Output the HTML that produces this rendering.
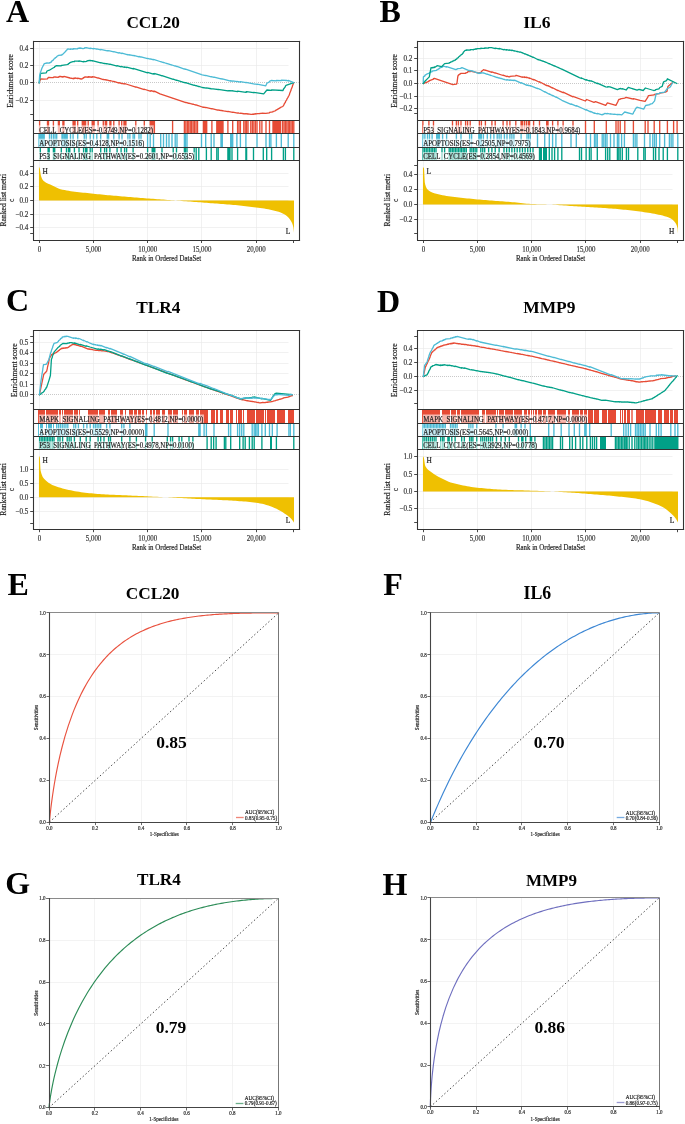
<!DOCTYPE html>
<html><head><meta charset="utf-8"><style>
html,body{margin:0;padding:0;background:#fff;}
svg{display:block;font-family:"Liberation Serif", serif;}
</style></head><body>
<svg width="685" height="1124" viewBox="0 0 685 1124">
<rect width="685" height="1124" fill="#fff"/>
<g opacity="0.999">
<text x="126.42" y="28.14" font-size="17.22" text-anchor="start" font-weight="bold" fill="#000" >CCL20</text>
<text x="5.91" y="21.86" font-size="32" text-anchor="start" font-weight="bold" fill="#000" >A</text>
<line x1="34" y1="48.5" x2="288.5" y2="48.5" stroke="#EBEBEB" stroke-width="0.7" />
<line x1="34" y1="65.5" x2="288.5" y2="65.5" stroke="#EBEBEB" stroke-width="0.7" />
<line x1="34" y1="82.5" x2="298.6" y2="82.5" stroke="#BBBBBB" stroke-width="0.8" stroke-dasharray="1,1"/>
<line x1="34" y1="100.5" x2="288.5" y2="100.5" stroke="#EBEBEB" stroke-width="0.7" />
<line x1="34" y1="173.5" x2="288.5" y2="173.5" stroke="#EBEBEB" stroke-width="0.7" />
<line x1="34" y1="186.5" x2="288.5" y2="186.5" stroke="#EBEBEB" stroke-width="0.7" />
<line x1="34" y1="200.5" x2="288.5" y2="200.5" stroke="#EBEBEB" stroke-width="0.7" />
<line x1="34" y1="214.5" x2="288.5" y2="214.5" stroke="#EBEBEB" stroke-width="0.7" />
<line x1="34" y1="227.5" x2="288.5" y2="227.5" stroke="#EBEBEB" stroke-width="0.7" />
<line x1="39.5" y1="41.4" x2="39.5" y2="120.5" stroke="#EBEBEB" stroke-width="0.7" />
<line x1="39.5" y1="160.5" x2="39.5" y2="240" stroke="#EBEBEB" stroke-width="0.7" />
<line x1="93.5" y1="41.4" x2="93.5" y2="120.5" stroke="#EBEBEB" stroke-width="0.7" />
<line x1="93.5" y1="160.5" x2="93.5" y2="240" stroke="#EBEBEB" stroke-width="0.7" />
<line x1="147.5" y1="41.4" x2="147.5" y2="120.5" stroke="#EBEBEB" stroke-width="0.7" />
<line x1="147.5" y1="160.5" x2="147.5" y2="240" stroke="#EBEBEB" stroke-width="0.7" />
<line x1="201.5" y1="41.4" x2="201.5" y2="120.5" stroke="#EBEBEB" stroke-width="0.7" />
<line x1="201.5" y1="160.5" x2="201.5" y2="240" stroke="#EBEBEB" stroke-width="0.7" />
<line x1="256.5" y1="41.4" x2="256.5" y2="120.5" stroke="#EBEBEB" stroke-width="0.7" />
<line x1="256.5" y1="160.5" x2="256.5" y2="240" stroke="#EBEBEB" stroke-width="0.7" />
<path d="M38.95,200.4 L38.95,166.98 L39.08,167.04 L39.21,167.2 L39.34,167.43 L39.47,167.72 L39.6,168.05 L39.73,168.4 L39.87,168.92 L40,169.65 L40.13,170.52 L40.26,171.49 L40.39,172.49 L40.52,173.45 L40.65,174.32 L40.78,175.03 L40.91,175.54 L41.04,175.99 L41.17,176.42 L41.3,176.82 L41.44,177.2 L41.57,177.56 L41.7,177.9 L41.83,178.22 L41.96,178.52 L42.09,178.79 L42.22,179.05 L42.35,179.29 L42.48,179.51 L42.61,179.71 L42.74,179.9 L42.87,180.07 L43,180.23 L43.14,180.38 L43.27,180.53 L43.4,180.67 L43.53,180.8 L43.66,180.93 L43.79,181.05 L43.92,181.17 L44.05,181.29 L44.05,181.29 L46.11,182.69 L48.17,183.71 L50.22,184.6 L52.28,185.58 L54.34,186.6 L56.4,187.59 L58.45,188.48 L60.51,189.2 L62.57,189.69 L64.63,190.1 L66.68,190.48 L68.74,190.83 L70.8,191.16 L72.86,191.45 L74.91,191.72 L76.97,191.98 L79.03,192.22 L81.09,192.44 L83.14,192.66 L85.2,192.87 L87.26,193.07 L89.32,193.27 L91.37,193.48 L93.43,193.69 L95.49,193.91 L97.55,194.13 L99.6,194.34 L101.66,194.54 L103.72,194.74 L105.78,194.94 L107.83,195.13 L109.89,195.32 L111.95,195.51 L114.01,195.69 L116.07,195.87 L118.12,196.05 L120.18,196.22 L122.24,196.39 L124.3,196.56 L126.35,196.73 L128.41,196.9 L130.47,197.07 L132.53,197.24 L134.58,197.4 L136.64,197.57 L138.7,197.73 L140.76,197.9 L142.81,198.07 L144.87,198.23 L146.93,198.39 L148.99,198.54 L151.04,198.7 L153.1,198.85 L155.16,199.01 L157.22,199.16 L159.27,199.31 L161.33,199.46 L163.39,199.61 L165.45,199.76 L167.5,199.91 L169.56,200.06 L171.62,200.21 L173.68,200.37 L175.73,200.52 L177.79,200.67 L179.85,200.83 L181.91,200.98 L183.96,201.14 L186.02,201.29 L188.08,201.44 L190.14,201.6 L192.19,201.75 L194.25,201.9 L196.31,202.06 L198.37,202.22 L200.42,202.37 L202.48,202.53 L204.54,202.68 L206.6,202.84 L208.65,202.99 L210.71,203.14 L212.77,203.29 L214.83,203.44 L216.88,203.59 L218.94,203.75 L221,203.9 L223.06,204.06 L225.12,204.22 L227.17,204.39 L229.23,204.56 L231.29,204.74 L233.35,204.93 L235.4,205.12 L237.46,205.32 L239.52,205.53 L241.58,205.74 L243.63,205.96 L245.69,206.18 L247.75,206.42 L249.81,206.66 L251.86,206.9 L253.92,207.16 L255.98,207.42 L258.04,207.7 L260.09,207.98 L262.15,208.28 L264.21,208.6 L266.27,208.95 L268.32,209.33 L270.38,209.74 L272.44,210.18 L274.5,210.67 L276.55,211.22 L278.61,211.84 L280.67,212.56 L282.73,213.42 L284.78,214.5 L286.84,215.95 L288.9,218.09 L288.9,218.09 L289.03,218.25 L289.16,218.42 L289.29,218.59 L289.42,218.76 L289.55,218.93 L289.68,219.11 L289.81,219.29 L289.95,219.48 L290.08,219.67 L290.21,219.86 L290.34,220.05 L290.47,220.25 L290.6,220.45 L290.73,220.66 L290.86,220.87 L290.99,221.07 L291.12,221.29 L291.25,221.5 L291.38,221.73 L291.51,221.96 L291.65,222.21 L291.78,222.47 L291.91,222.74 L292.04,223.03 L292.17,223.34 L292.3,223.66 L292.43,224.01 L292.56,224.38 L292.69,224.78 L292.82,225.2 L292.95,225.65 L293.08,226.13 L293.22,226.65 L293.35,227.28 L293.48,228.14 L293.61,229.19 L293.74,230.35 L293.87,231.57 L294,232.8 L294,200.4 Z" fill="#EFC000"/>
<text x="42.4" y="173.6" font-size="7.4" text-anchor="start" font-weight="normal" fill="#222" stroke="#222" stroke-width="0.18" >H</text>
<text x="290.3" y="234" font-size="7.4" text-anchor="end" font-weight="normal" fill="#222" stroke="#222" stroke-width="0.18" >L</text>
<polyline points="39.2,82.9 40.6,78.9 44,79.2 47.4,78.9 48.4,77.3 52,77.6 53.4,77.55 53.4,77.05 55,77 58.4,77.3 58.4,76.8 59.3,76.88 59.3,76.38 60.7,76.5 62.9,77.09 62.9,76.59 63.9,76.86 63.9,76.36 70,78 73.1,78.73 73.1,78.33 74,78.54 74,78.14 75.1,78.39 75.1,77.99 77.7,78.6 77.7,78.2 81.1,79 82.3,78.82 82.3,78.32 83.4,78.16 83.4,77.66 84.3,77.53 84.3,77.03 85.2,76.9 88.2,77.27 88.2,76.77 92.2,77.25 92.2,76.75 93.4,76.9 94.1,77.12 94.1,76.89 98.1,78.14 98.1,77.91 103.3,79.53 103.3,79.3 105.3,79.92 105.3,79.69 106.6,80.1 106.6,79.87 109.9,80.9 109.9,80.67 110.9,80.98 110.9,80.75 111.7,81 113.8,81.68 113.8,81.36 119.1,83.06 119.1,82.74 121.7,83.58 121.7,83.26 124,84 124,83.68 125,84 125,83.68 126,84 135.8,87.24 135.8,86.84 144.3,89.65 144.3,89.25 150.2,91.21 150.2,90.81 151.2,91.14 151.2,90.74 152.6,91.2 153.5,91.64 153.5,91.14 154.4,91.58 154.4,91.08 160,93.8 172.6,98.21 172.6,98.06 184.4,102.19 184.4,102.05 185.86,102.56 185.86,102.41 187.31,102.92 187.31,102.77 188.77,103.28 188.77,103.14 190.22,103.65 190.22,103.5 191.68,104.01 191.68,103.87 193.13,104.37 193.13,104.23 194.59,104.74 194.59,104.59 196.04,105.1 196.04,104.96 197.5,105.47 197.5,105.32 202.3,107 203.4,107.28 203.4,107.13 204.5,107.41 204.5,107.27 205.6,107.55 205.6,107.4 206.7,107.68 206.7,107.54 211.9,108.86 211.9,108.72 216.8,109.97 216.8,109.82 218.04,110.14 218.04,109.99 219.28,110.31 219.28,110.16 220.52,110.48 220.52,110.33 221.76,110.65 221.76,110.5 223,110.82 223,110.67 223.5,110.8 227.9,111.63 227.9,111.45 232.7,112.36 232.7,112.18 237.6,113.11 237.6,112.93 239,113.2 239,113.02 240.4,113.28 240.4,113.11 243.8,113.75 243.8,113.57 245.2,113.84 245.2,113.66 246.6,113.92 246.6,113.75 248,114.01 248,113.83 251,114.4 252.35,114.45 252.35,114.18 253.9,114.23 253.9,113.96 255.45,114.02 255.45,113.75 257,113.8 257,113.54 259.8,113.63 259.8,113.36 261.9,113.43 261.9,113.17 265.8,113.3 269.5,112.82 269.5,112.32 273,111.87 273,111.37 274.3,111.2 275.53,110.75 275.53,110.43 276.8,109.97 276.8,109.65 278.07,109.19 278.07,108.87 279.33,108.4 279.33,108.08 280.6,107.62 280.6,107.3 282.8,106.5 284.09,104.54 284.09,104.14 285.48,102.02 285.48,101.62 286.86,99.51 286.86,99.11 288.25,97 288.25,96.6 289.1,95.3 289.64,94.02 289.64,93.52 291.02,90.21 291.02,89.71 292.41,86.41 292.41,85.91 293.8,82.6" fill="none" stroke="#E64B35" stroke-width="1.3" stroke-linejoin="round" stroke-linecap="round"/>
<polyline points="39.2,82.9 40.6,73.4 46.3,72.8 47,71 49.4,70.2 53,68 54.7,67.15 54.7,66.65 56.6,65.7 61.3,65.79 61.3,65.29 62,65.3 66.8,64.6 68.5,64.04 68.5,63.54 69.8,63.12 69.8,62.62 72.9,61.6 74.4,61.63 74.4,61.13 78,61.2 79,61.39 79,60.89 83.6,61.79 83.6,61.29 85.2,61.6 86.9,61.35 86.9,60.85 89.3,60.5 90.2,60.73 90.2,60.46 92.2,60.97 92.2,60.7 100.7,62.87 100.7,62.6 104.6,63.59 104.6,63.33 106.6,63.84 106.6,63.57 109.9,64.41 109.9,64.14 111.7,64.6 117.1,66.1 117.1,65.7 121.1,66.81 121.1,66.41 124.6,67.39 124.6,66.99 126.6,67.54 126.6,67.14 132.2,68.7 133.1,68.97 133.1,68.47 147.6,72.8 147.6,72.3 152.6,73.8 153.5,74.09 153.5,73.59 154.8,74.01 154.8,73.51 160,75.2 162,75.86 162,75.68 173.2,79.36 173.2,79.18 176.5,80.27 176.5,80.09 184.4,82.68 184.4,82.51 185.5,82.87 185.5,82.69 187,83.18 187,83.01 194.2,85.37 194.2,85.19 196.2,85.85 196.2,85.67 198.8,86.53 198.8,86.35 202.3,87.5 206.4,88.17 206.4,87.97 211.2,88.76 211.2,88.56 216.8,89.47 216.8,89.27 218.2,89.5 218.2,89.3 227.9,90.89 227.9,90.69 228.95,90.86 228.95,90.66 230,90.83 230,90.63 232,90.96 232,90.76 234.1,91.1 237.6,91.61 237.6,91.21 245.9,92.41 245.9,92.01 246.6,92.12 246.6,91.72 253.5,92.72 253.5,92.32 263.7,93.8 266.9,90 271.6,90.3 271.6,89.8 282.8,90.5 283.4,89.73 283.4,89.23 285.4,86.67 285.4,86.17 286,85.4 293.8,82.6" fill="none" stroke="#00A087" stroke-width="1.3" stroke-linejoin="round" stroke-linecap="round"/>
<polyline points="39.2,82.9 39.6,76 40.4,72.6 42,68 44.3,63.6 47,63 49.5,63.07 49.5,62.57 50.4,62.6 51.4,61.88 51.4,61.38 53.4,59.93 53.4,59.43 54,59 55.05,58.41 55.05,57.91 56.7,56.97 56.7,56.47 58.6,55.4 62,54.99 62,54.49 62.7,54.4 65,52 65.9,51.32 65.9,50.82 67.2,49.85 67.2,49.35 67.8,48.9 70.5,49.41 70.5,48.91 72,49.2 73.1,49.24 73.1,48.74 77,48.9 77.7,48.81 77.7,48.31 80,48 83,48.6 84.3,48.44 84.3,47.94 86.2,47.7 90.2,48.56 90.2,48.06 91.3,48.3 93.5,48.8 93.5,48.48 96.8,49.22 96.8,48.9 100.7,49.78 100.7,49.46 107.3,50.95 107.3,50.63 108.6,50.92 108.6,50.6 111.7,51.3 113.8,51.88 113.8,51.56 119.1,53.04 119.1,52.72 122,53.52 122,53.2 127.9,54.84 127.9,54.52 129.9,55.08 129.9,54.76 132.2,55.4 133.1,55.65 133.1,55.38 134.5,55.78 134.5,55.51 139,56.77 139,56.5 141,57.06 141,56.79 147.6,58.64 147.6,58.37 150.2,59.1 150.2,58.83 152.6,59.5 153.5,59.8 153.5,59.3 160,61.5 160.7,61.75 160.7,61.6 163.5,62.59 163.5,62.44 166.5,63.5 166.5,63.35 169,64.23 169,64.09 172,65.15 172,65 175.2,66.13 175.2,65.98 177,66.62 177,66.47 184.4,69.08 184.4,68.93 185.5,69.32 185.5,69.17 187,69.7 187,69.56 201.5,74.66 201.5,74.52 202.3,74.8 205.7,75.7 205.7,75.44 211.2,76.9 211.2,76.63 214,77.38 214,77.11 221,78.97 221,78.71 222.3,79.05 222.3,78.79 230.7,81.02 230.7,80.75 232,81.1 232.7,81.23 232.7,80.91 236.9,81.69 236.9,81.37 240.4,82.03 240.4,81.71 245.9,82.73 245.9,82.41 257,84.48 257,84.16 265.8,85.8 266.9,83.3 269.5,81.88 269.5,81.38 271.1,80.5 276.4,80.83 276.4,80.33 281.3,80.64 281.3,80.14 287,80.5 288.2,80.96 288.2,80.46 293.8,82.6" fill="none" stroke="#4DBBD5" stroke-width="1.3" stroke-linejoin="round" stroke-linecap="round"/>
<rect x="38.93" y="120.5" width="1.35" height="13.4" fill="#E64B35"/>
<rect x="46.83" y="120.5" width="2.35" height="13.4" fill="#E64B35"/>
<rect x="52.73" y="120.5" width="1.35" height="13.4" fill="#E64B35"/>
<rect x="57.73" y="120.5" width="2.25" height="13.4" fill="#E64B35"/>
<rect x="62.23" y="120.5" width="2.35" height="13.4" fill="#E64B35"/>
<rect x="72.42" y="120.5" width="3.35" height="13.4" fill="#E64B35"/>
<rect x="77.03" y="120.5" width="1.35" height="13.4" fill="#E64B35"/>
<rect x="81.62" y="120.5" width="4.65" height="13.4" fill="#E64B35"/>
<rect x="87.53" y="120.5" width="1.35" height="13.4" fill="#E64B35"/>
<rect x="91.53" y="120.5" width="3.25" height="13.4" fill="#E64B35"/>
<rect x="97.42" y="120.5" width="1.35" height="13.4" fill="#E64B35"/>
<rect x="102.62" y="120.5" width="1.35" height="13.4" fill="#E64B35"/>
<rect x="104.62" y="120.5" width="2.65" height="13.4" fill="#E64B35"/>
<rect x="109.23" y="120.5" width="2.35" height="13.4" fill="#E64B35"/>
<rect x="113.12" y="120.5" width="1.35" height="13.4" fill="#E64B35"/>
<rect x="118.42" y="120.5" width="1.35" height="13.4" fill="#E64B35"/>
<rect x="121.03" y="120.5" width="1.35" height="13.4" fill="#E64B35"/>
<rect x="123.33" y="120.5" width="3.25" height="13.4" fill="#E64B35"/>
<rect x="135.12" y="120.5" width="1.35" height="13.4" fill="#E64B35"/>
<rect x="143.62" y="120.5" width="1.35" height="13.4" fill="#E64B35"/>
<rect x="149.52" y="120.5" width="5.55" height="13.4" fill="#E64B35"/>
<rect x="171.92" y="120.5" width="1.35" height="13.4" fill="#E64B35"/>
<rect x="183.72" y="120.5" width="1.35" height="13.4" fill="#E64B35"/>
<rect x="185.18" y="120.5" width="1.35" height="13.4" fill="#E64B35"/>
<rect x="186.64" y="120.5" width="1.35" height="13.4" fill="#E64B35"/>
<rect x="188.09" y="120.5" width="1.35" height="13.4" fill="#E64B35"/>
<rect x="189.55" y="120.5" width="1.35" height="13.4" fill="#E64B35"/>
<rect x="191" y="120.5" width="1.35" height="13.4" fill="#E64B35"/>
<rect x="192.46" y="120.5" width="1.35" height="13.4" fill="#E64B35"/>
<rect x="193.91" y="120.5" width="1.35" height="13.4" fill="#E64B35"/>
<rect x="195.37" y="120.5" width="1.35" height="13.4" fill="#E64B35"/>
<rect x="196.82" y="120.5" width="1.35" height="13.4" fill="#E64B35"/>
<rect x="202.72" y="120.5" width="4.65" height="13.4" fill="#E64B35"/>
<rect x="211.22" y="120.5" width="1.35" height="13.4" fill="#E64B35"/>
<rect x="216.12" y="120.5" width="7.55" height="13.4" fill="#E64B35"/>
<rect x="227.22" y="120.5" width="1.35" height="13.4" fill="#E64B35"/>
<rect x="232.02" y="120.5" width="1.35" height="13.4" fill="#E64B35"/>
<rect x="236.92" y="120.5" width="1.35" height="13.4" fill="#E64B35"/>
<rect x="238.32" y="120.5" width="1.35" height="13.4" fill="#E64B35"/>
<rect x="239.72" y="120.5" width="1.35" height="13.4" fill="#E64B35"/>
<rect x="243.12" y="120.5" width="1.35" height="13.4" fill="#E64B35"/>
<rect x="244.53" y="120.5" width="1.35" height="13.4" fill="#E64B35"/>
<rect x="245.92" y="120.5" width="1.35" height="13.4" fill="#E64B35"/>
<rect x="247.32" y="120.5" width="1.35" height="13.4" fill="#E64B35"/>
<rect x="250.12" y="120.5" width="1.35" height="13.4" fill="#E64B35"/>
<rect x="251.68" y="120.5" width="1.35" height="13.4" fill="#E64B35"/>
<rect x="253.22" y="120.5" width="1.35" height="13.4" fill="#E64B35"/>
<rect x="254.77" y="120.5" width="1.35" height="13.4" fill="#E64B35"/>
<rect x="256.32" y="120.5" width="1.35" height="13.4" fill="#E64B35"/>
<rect x="259.12" y="120.5" width="1.35" height="13.4" fill="#E64B35"/>
<rect x="261.22" y="120.5" width="1.35" height="13.4" fill="#E64B35"/>
<rect x="265.32" y="120.5" width="1.35" height="13.4" fill="#E64B35"/>
<rect x="268.82" y="120.5" width="1.35" height="13.4" fill="#E64B35"/>
<rect x="272.32" y="120.5" width="8.95" height="13.4" fill="#E64B35"/>
<rect x="282.02" y="120.5" width="1.35" height="13.4" fill="#E64B35"/>
<rect x="283.41" y="120.5" width="1.35" height="13.4" fill="#E64B35"/>
<rect x="284.8" y="120.5" width="1.35" height="13.4" fill="#E64B35"/>
<rect x="286.19" y="120.5" width="1.35" height="13.4" fill="#E64B35"/>
<rect x="287.57" y="120.5" width="1.35" height="13.4" fill="#E64B35"/>
<rect x="288.96" y="120.5" width="1.35" height="13.4" fill="#E64B35"/>
<rect x="290.35" y="120.5" width="1.35" height="13.4" fill="#E64B35"/>
<rect x="291.74" y="120.5" width="1.35" height="13.4" fill="#E64B35"/>
<rect x="293.12" y="120.5" width="1.35" height="13.4" fill="#E64B35"/>
<rect x="38.9" y="125.3" width="114.87" height="8.3" fill="#fff" fill-opacity="0.6"/>
<text x="39.2" y="132.55" font-size="7.7" text-anchor="start" font-weight="normal" fill="#222" stroke="#222" stroke-width="0.18" textLength="113.87" lengthAdjust="spacingAndGlyphs" >CELL CYCLE(ES=-0.3749,NP=0.1282)</text>
<rect x="38.33" y="133.9" width="6.55" height="13.4" fill="#4DBBD5"/>
<rect x="48.83" y="133.9" width="1.35" height="13.4" fill="#4DBBD5"/>
<rect x="50.73" y="133.9" width="1.35" height="13.4" fill="#4DBBD5"/>
<rect x="52.73" y="133.9" width="1.35" height="13.4" fill="#4DBBD5"/>
<rect x="54.38" y="133.9" width="1.35" height="13.4" fill="#4DBBD5"/>
<rect x="56.03" y="133.9" width="1.35" height="13.4" fill="#4DBBD5"/>
<rect x="61.33" y="133.9" width="2.55" height="13.4" fill="#4DBBD5"/>
<rect x="63.92" y="133.9" width="3.95" height="13.4" fill="#4DBBD5"/>
<rect x="69.83" y="133.9" width="1.35" height="13.4" fill="#4DBBD5"/>
<rect x="72.42" y="133.9" width="1.35" height="13.4" fill="#4DBBD5"/>
<rect x="77.03" y="133.9" width="1.35" height="13.4" fill="#4DBBD5"/>
<rect x="83.62" y="133.9" width="1.35" height="13.4" fill="#4DBBD5"/>
<rect x="85.53" y="133.9" width="1.35" height="13.4" fill="#4DBBD5"/>
<rect x="89.53" y="133.9" width="1.35" height="13.4" fill="#4DBBD5"/>
<rect x="92.83" y="133.9" width="1.35" height="13.4" fill="#4DBBD5"/>
<rect x="96.12" y="133.9" width="1.35" height="13.4" fill="#4DBBD5"/>
<rect x="100.03" y="133.9" width="1.35" height="13.4" fill="#4DBBD5"/>
<rect x="106.62" y="133.9" width="2.65" height="13.4" fill="#4DBBD5"/>
<rect x="113.12" y="133.9" width="1.35" height="13.4" fill="#4DBBD5"/>
<rect x="118.42" y="133.9" width="1.35" height="13.4" fill="#4DBBD5"/>
<rect x="121.33" y="133.9" width="1.35" height="13.4" fill="#4DBBD5"/>
<rect x="127.23" y="133.9" width="1.35" height="13.4" fill="#4DBBD5"/>
<rect x="129.22" y="133.9" width="1.35" height="13.4" fill="#4DBBD5"/>
<rect x="132.42" y="133.9" width="1.35" height="13.4" fill="#4DBBD5"/>
<rect x="133.82" y="133.9" width="1.35" height="13.4" fill="#4DBBD5"/>
<rect x="138.32" y="133.9" width="1.35" height="13.4" fill="#4DBBD5"/>
<rect x="140.32" y="133.9" width="1.35" height="13.4" fill="#4DBBD5"/>
<rect x="146.92" y="133.9" width="1.35" height="13.4" fill="#4DBBD5"/>
<rect x="149.52" y="133.9" width="1.35" height="13.4" fill="#4DBBD5"/>
<rect x="152.82" y="133.9" width="1.35" height="13.4" fill="#4DBBD5"/>
<rect x="160.02" y="133.9" width="1.35" height="13.4" fill="#4DBBD5"/>
<rect x="162.82" y="133.9" width="1.35" height="13.4" fill="#4DBBD5"/>
<rect x="165.82" y="133.9" width="1.35" height="13.4" fill="#4DBBD5"/>
<rect x="168.32" y="133.9" width="1.35" height="13.4" fill="#4DBBD5"/>
<rect x="171.32" y="133.9" width="1.35" height="13.4" fill="#4DBBD5"/>
<rect x="174.52" y="133.9" width="1.35" height="13.4" fill="#4DBBD5"/>
<rect x="176.32" y="133.9" width="1.35" height="13.4" fill="#4DBBD5"/>
<rect x="183.72" y="133.9" width="2.45" height="13.4" fill="#4DBBD5"/>
<rect x="186.32" y="133.9" width="1.35" height="13.4" fill="#4DBBD5"/>
<rect x="200.82" y="133.9" width="1.35" height="13.4" fill="#4DBBD5"/>
<rect x="205.02" y="133.9" width="1.35" height="13.4" fill="#4DBBD5"/>
<rect x="210.52" y="133.9" width="1.35" height="13.4" fill="#4DBBD5"/>
<rect x="213.32" y="133.9" width="1.35" height="13.4" fill="#4DBBD5"/>
<rect x="220.32" y="133.9" width="2.65" height="13.4" fill="#4DBBD5"/>
<rect x="230.02" y="133.9" width="3.35" height="13.4" fill="#4DBBD5"/>
<rect x="236.22" y="133.9" width="1.35" height="13.4" fill="#4DBBD5"/>
<rect x="239.72" y="133.9" width="1.35" height="13.4" fill="#4DBBD5"/>
<rect x="245.22" y="133.9" width="1.35" height="13.4" fill="#4DBBD5"/>
<rect x="256.32" y="133.9" width="1.35" height="13.4" fill="#4DBBD5"/>
<rect x="265.32" y="133.9" width="1.35" height="13.4" fill="#4DBBD5"/>
<rect x="268.82" y="133.9" width="1.35" height="13.4" fill="#4DBBD5"/>
<rect x="270.22" y="133.9" width="1.35" height="13.4" fill="#4DBBD5"/>
<rect x="275.72" y="133.9" width="1.35" height="13.4" fill="#4DBBD5"/>
<rect x="280.62" y="133.9" width="1.35" height="13.4" fill="#4DBBD5"/>
<rect x="287.52" y="133.9" width="1.35" height="13.4" fill="#4DBBD5"/>
<rect x="293.12" y="133.9" width="1.35" height="13.4" fill="#4DBBD5"/>
<rect x="38.9" y="138.7" width="106" height="8.3" fill="#fff" fill-opacity="0.6"/>
<text x="39.2" y="145.95" font-size="7.7" text-anchor="start" font-weight="normal" fill="#222" stroke="#222" stroke-width="0.18" textLength="105" lengthAdjust="spacingAndGlyphs" >APOPTOSIS(ES=0.4128,NP=0.1516)</text>
<rect x="39.62" y="147.3" width="1.35" height="13.2" fill="#00A087"/>
<rect x="47.43" y="147.3" width="2.45" height="13.2" fill="#00A087"/>
<rect x="52.73" y="147.3" width="2.65" height="13.2" fill="#00A087"/>
<rect x="60.62" y="147.3" width="1.35" height="13.2" fill="#00A087"/>
<rect x="65.83" y="147.3" width="1.35" height="13.2" fill="#00A087"/>
<rect x="67.83" y="147.3" width="2.65" height="13.2" fill="#00A087"/>
<rect x="73.73" y="147.3" width="1.35" height="13.2" fill="#00A087"/>
<rect x="78.33" y="147.3" width="1.35" height="13.2" fill="#00A087"/>
<rect x="82.92" y="147.3" width="1.35" height="13.2" fill="#00A087"/>
<rect x="84.92" y="147.3" width="2.65" height="13.2" fill="#00A087"/>
<rect x="89.53" y="147.3" width="1.35" height="13.2" fill="#00A087"/>
<rect x="91.53" y="147.3" width="1.35" height="13.2" fill="#00A087"/>
<rect x="100.03" y="147.3" width="1.35" height="13.2" fill="#00A087"/>
<rect x="103.92" y="147.3" width="1.35" height="13.2" fill="#00A087"/>
<rect x="105.92" y="147.3" width="1.35" height="13.2" fill="#00A087"/>
<rect x="109.23" y="147.3" width="1.35" height="13.2" fill="#00A087"/>
<rect x="116.42" y="147.3" width="1.35" height="13.2" fill="#00A087"/>
<rect x="120.42" y="147.3" width="1.35" height="13.2" fill="#00A087"/>
<rect x="123.92" y="147.3" width="1.35" height="13.2" fill="#00A087"/>
<rect x="125.92" y="147.3" width="1.35" height="13.2" fill="#00A087"/>
<rect x="132.42" y="147.3" width="1.35" height="13.2" fill="#00A087"/>
<rect x="146.92" y="147.3" width="1.35" height="13.2" fill="#00A087"/>
<rect x="151.52" y="147.3" width="3.95" height="13.2" fill="#00A087"/>
<rect x="161.32" y="147.3" width="1.35" height="13.2" fill="#00A087"/>
<rect x="172.52" y="147.3" width="1.35" height="13.2" fill="#00A087"/>
<rect x="175.82" y="147.3" width="1.35" height="13.2" fill="#00A087"/>
<rect x="183.72" y="147.3" width="2.45" height="13.2" fill="#00A087"/>
<rect x="186.32" y="147.3" width="1.35" height="13.2" fill="#00A087"/>
<rect x="193.52" y="147.3" width="1.35" height="13.2" fill="#00A087"/>
<rect x="195.52" y="147.3" width="1.35" height="13.2" fill="#00A087"/>
<rect x="198.12" y="147.3" width="1.35" height="13.2" fill="#00A087"/>
<rect x="205.72" y="147.3" width="1.35" height="13.2" fill="#00A087"/>
<rect x="210.52" y="147.3" width="1.35" height="13.2" fill="#00A087"/>
<rect x="216.12" y="147.3" width="1.35" height="13.2" fill="#00A087"/>
<rect x="217.52" y="147.3" width="1.35" height="13.2" fill="#00A087"/>
<rect x="227.22" y="147.3" width="3.45" height="13.2" fill="#00A087"/>
<rect x="231.32" y="147.3" width="1.35" height="13.2" fill="#00A087"/>
<rect x="236.92" y="147.3" width="1.35" height="13.2" fill="#00A087"/>
<rect x="245.22" y="147.3" width="2.05" height="13.2" fill="#00A087"/>
<rect x="252.82" y="147.3" width="1.35" height="13.2" fill="#00A087"/>
<rect x="262.62" y="147.3" width="1.35" height="13.2" fill="#00A087"/>
<rect x="266.02" y="147.3" width="1.35" height="13.2" fill="#00A087"/>
<rect x="270.93" y="147.3" width="1.35" height="13.2" fill="#00A087"/>
<rect x="282.72" y="147.3" width="1.35" height="13.2" fill="#00A087"/>
<rect x="284.72" y="147.3" width="1.35" height="13.2" fill="#00A087"/>
<rect x="293.12" y="147.3" width="1.35" height="13.2" fill="#00A087"/>
<rect x="38.9" y="152.1" width="155.92" height="8.1" fill="#fff" fill-opacity="0.6"/>
<text x="39.2" y="159.15" font-size="7.7" text-anchor="start" font-weight="normal" fill="#222" stroke="#222" stroke-width="0.18" textLength="154.92" lengthAdjust="spacingAndGlyphs" >P53 SIGNALING PATHWAY(ES=0.2601,NP=0.6535)</text>
<line x1="33.5" y1="120.5" x2="299.6" y2="120.5" stroke="#333333" stroke-width="1.1" />
<line x1="33.5" y1="133.5" x2="299.6" y2="133.5" stroke="#333333" stroke-width="1.1" />
<line x1="33.5" y1="147.5" x2="299.6" y2="147.5" stroke="#333333" stroke-width="1.1" />
<line x1="33.5" y1="160.5" x2="299.6" y2="160.5" stroke="#333333" stroke-width="1.1" />
<line x1="33.5" y1="40.9" x2="33.5" y2="240.5" stroke="#333333" stroke-width="1.1" />
<line x1="299.5" y1="40.9" x2="299.5" y2="240.5" stroke="#333333" stroke-width="1.1" />
<line x1="33" y1="41.5" x2="300.1" y2="41.5" stroke="#333333" stroke-width="1.1" />
<line x1="33" y1="240.5" x2="300.1" y2="240.5" stroke="#333333" stroke-width="1.1" />
<line x1="30.2" y1="48.5" x2="33.5" y2="48.5" stroke="#333333" stroke-width="0.9" />
<text x="28.4" y="50.86" font-size="7.7" text-anchor="end" font-weight="normal" fill="#333" stroke="#333" stroke-width="0.18" textLength="8.88" lengthAdjust="spacingAndGlyphs" >0.4</text>
<line x1="30.2" y1="65.5" x2="33.5" y2="65.5" stroke="#333333" stroke-width="0.9" />
<text x="28.4" y="68.13" font-size="7.7" text-anchor="end" font-weight="normal" fill="#333" stroke="#333" stroke-width="0.18" textLength="8.88" lengthAdjust="spacingAndGlyphs" >0.2</text>
<line x1="30.2" y1="82.5" x2="33.5" y2="82.5" stroke="#333333" stroke-width="0.9" />
<text x="28.4" y="85.4" font-size="7.7" text-anchor="end" font-weight="normal" fill="#333" stroke="#333" stroke-width="0.18" textLength="8.88" lengthAdjust="spacingAndGlyphs" >0.0</text>
<line x1="30.2" y1="100.5" x2="33.5" y2="100.5" stroke="#333333" stroke-width="0.9" />
<text x="28.4" y="102.67" font-size="7.7" text-anchor="end" font-weight="normal" fill="#333" stroke="#333" stroke-width="0.18" textLength="12.88" lengthAdjust="spacingAndGlyphs" >−0.2</text>
<line x1="30.2" y1="114.5" x2="33.5" y2="114.5" stroke="#333333" stroke-width="0.9" />
<line x1="30.2" y1="173.5" x2="33.5" y2="173.5" stroke="#333333" stroke-width="0.9" />
<text x="28.4" y="175.62" font-size="7.7" text-anchor="end" font-weight="normal" fill="#333" stroke="#333" stroke-width="0.18" textLength="8.88" lengthAdjust="spacingAndGlyphs" >0.4</text>
<line x1="30.2" y1="186.5" x2="33.5" y2="186.5" stroke="#333333" stroke-width="0.9" />
<text x="28.4" y="189.26" font-size="7.7" text-anchor="end" font-weight="normal" fill="#333" stroke="#333" stroke-width="0.18" textLength="8.88" lengthAdjust="spacingAndGlyphs" >0.2</text>
<line x1="30.2" y1="200.5" x2="33.5" y2="200.5" stroke="#333333" stroke-width="0.9" />
<text x="28.4" y="202.9" font-size="7.7" text-anchor="end" font-weight="normal" fill="#333" stroke="#333" stroke-width="0.18" textLength="8.88" lengthAdjust="spacingAndGlyphs" >0.0</text>
<line x1="30.2" y1="214.5" x2="33.5" y2="214.5" stroke="#333333" stroke-width="0.9" />
<text x="28.4" y="216.54" font-size="7.7" text-anchor="end" font-weight="normal" fill="#333" stroke="#333" stroke-width="0.18" textLength="12.88" lengthAdjust="spacingAndGlyphs" >−0.2</text>
<line x1="30.2" y1="227.5" x2="33.5" y2="227.5" stroke="#333333" stroke-width="0.9" />
<text x="28.4" y="230.18" font-size="7.7" text-anchor="end" font-weight="normal" fill="#333" stroke="#333" stroke-width="0.18" textLength="12.88" lengthAdjust="spacingAndGlyphs" >−0.4</text>
<line x1="30.2" y1="166.5" x2="33.5" y2="166.5" stroke="#333333" stroke-width="0.9" />
<line x1="30.2" y1="233.5" x2="33.5" y2="233.5" stroke="#333333" stroke-width="0.9" />
<line x1="39.5" y1="240" x2="39.5" y2="243" stroke="#333333" stroke-width="0.9" />
<text x="39.35" y="251.9" font-size="7.7" text-anchor="middle" font-weight="normal" fill="#333" stroke="#333" stroke-width="0.18" textLength="3.44" lengthAdjust="spacingAndGlyphs" >0</text>
<line x1="93.5" y1="240" x2="93.5" y2="243" stroke="#333333" stroke-width="0.9" />
<text x="93.55" y="251.9" font-size="7.7" text-anchor="middle" font-weight="normal" fill="#333" stroke="#333" stroke-width="0.18" textLength="15.46" lengthAdjust="spacingAndGlyphs" >5,000</text>
<line x1="147.5" y1="240" x2="147.5" y2="243" stroke="#333333" stroke-width="0.9" />
<text x="147.75" y="251.9" font-size="7.7" text-anchor="middle" font-weight="normal" fill="#333" stroke="#333" stroke-width="0.18" textLength="18.89" lengthAdjust="spacingAndGlyphs" >10,000</text>
<line x1="201.5" y1="240" x2="201.5" y2="243" stroke="#333333" stroke-width="0.9" />
<text x="201.95" y="251.9" font-size="7.7" text-anchor="middle" font-weight="normal" fill="#333" stroke="#333" stroke-width="0.18" textLength="18.89" lengthAdjust="spacingAndGlyphs" >15,000</text>
<line x1="256.5" y1="240" x2="256.5" y2="243" stroke="#333333" stroke-width="0.9" />
<text x="256.15" y="251.9" font-size="7.7" text-anchor="middle" font-weight="normal" fill="#333" stroke="#333" stroke-width="0.18" textLength="18.89" lengthAdjust="spacingAndGlyphs" >20,000</text>
<line x1="293.5" y1="240" x2="293.5" y2="243" stroke="#333333" stroke-width="0.9" />
<text x="166.6" y="260.7" font-size="7.9" text-anchor="middle" font-weight="normal" fill="#222" stroke="#222" stroke-width="0.18" textLength="69.4" lengthAdjust="spacingAndGlyphs" >Rank in Ordered DataSet</text>
<text x="0" y="0" font-size="7.5" text-anchor="middle" font-weight="normal" fill="#222" stroke="#222" stroke-width="0.18" textLength="53.5" lengthAdjust="spacingAndGlyphs" transform="translate(13.2,80.95) rotate(-90)">Enrichment score</text>
<text x="0" y="0" font-size="7.5" text-anchor="middle" font-weight="normal" fill="#222" stroke="#222" stroke-width="0.18" textLength="52.6" lengthAdjust="spacingAndGlyphs" transform="translate(6.4,200.2) rotate(-90)">Ranked list metri</text>
<text x="0" y="0" font-size="7.5" text-anchor="middle" font-weight="normal" fill="#222" stroke="#222" stroke-width="0.18" transform="translate(13.6,200.4) rotate(-90)">c</text>
<text x="523.26" y="28.17" font-size="17.54" text-anchor="start" font-weight="bold" fill="#000" >IL6</text>
<text x="379.51" y="21.98" font-size="32" text-anchor="start" font-weight="bold" fill="#000" >B</text>
<line x1="418" y1="58.5" x2="672.5" y2="58.5" stroke="#EBEBEB" stroke-width="0.7" />
<line x1="418" y1="70.5" x2="672.5" y2="70.5" stroke="#EBEBEB" stroke-width="0.7" />
<line x1="418" y1="83.5" x2="682.6" y2="83.5" stroke="#BBBBBB" stroke-width="0.8" stroke-dasharray="1,1"/>
<line x1="418" y1="96.5" x2="672.5" y2="96.5" stroke="#EBEBEB" stroke-width="0.7" />
<line x1="418" y1="108.5" x2="672.5" y2="108.5" stroke="#EBEBEB" stroke-width="0.7" />
<line x1="418" y1="174.5" x2="672.5" y2="174.5" stroke="#EBEBEB" stroke-width="0.7" />
<line x1="418" y1="189.5" x2="672.5" y2="189.5" stroke="#EBEBEB" stroke-width="0.7" />
<line x1="418" y1="204.5" x2="672.5" y2="204.5" stroke="#EBEBEB" stroke-width="0.7" />
<line x1="418" y1="219.5" x2="672.5" y2="219.5" stroke="#EBEBEB" stroke-width="0.7" />
<line x1="423.5" y1="41.4" x2="423.5" y2="120.5" stroke="#EBEBEB" stroke-width="0.7" />
<line x1="423.5" y1="160.5" x2="423.5" y2="240" stroke="#EBEBEB" stroke-width="0.7" />
<line x1="477.5" y1="41.4" x2="477.5" y2="120.5" stroke="#EBEBEB" stroke-width="0.7" />
<line x1="477.5" y1="160.5" x2="477.5" y2="240" stroke="#EBEBEB" stroke-width="0.7" />
<line x1="531.5" y1="41.4" x2="531.5" y2="120.5" stroke="#EBEBEB" stroke-width="0.7" />
<line x1="531.5" y1="160.5" x2="531.5" y2="240" stroke="#EBEBEB" stroke-width="0.7" />
<line x1="585.5" y1="41.4" x2="585.5" y2="120.5" stroke="#EBEBEB" stroke-width="0.7" />
<line x1="585.5" y1="160.5" x2="585.5" y2="240" stroke="#EBEBEB" stroke-width="0.7" />
<line x1="640.5" y1="41.4" x2="640.5" y2="120.5" stroke="#EBEBEB" stroke-width="0.7" />
<line x1="640.5" y1="160.5" x2="640.5" y2="240" stroke="#EBEBEB" stroke-width="0.7" />
<path d="M422.95,204.4 L422.95,167.15 L423.08,167.18 L423.21,167.26 L423.34,167.39 L423.47,167.57 L423.6,167.79 L423.73,168.06 L423.87,168.37 L424,168.74 L424.13,169.98 L424.26,172.17 L424.39,174.89 L424.52,177.74 L424.65,180.3 L424.78,182.16 L424.91,183.02 L425.04,183.6 L425.17,184.15 L425.3,184.66 L425.44,185.13 L425.57,185.58 L425.7,185.99 L425.83,186.38 L425.96,186.73 L426.09,187.06 L426.22,187.37 L426.35,187.65 L426.48,187.91 L426.61,188.15 L426.74,188.38 L426.87,188.58 L427,188.77 L427.14,188.94 L427.27,189.1 L427.4,189.25 L427.53,189.39 L427.66,189.52 L427.79,189.64 L427.92,189.76 L428.05,189.88 L428.05,189.88 L430.11,191.42 L432.17,192.51 L434.22,193.28 L436.28,193.84 L438.34,194.32 L440.4,194.76 L442.45,195.17 L444.51,195.56 L446.57,195.91 L448.63,196.24 L450.68,196.54 L452.74,196.82 L454.8,197.08 L456.86,197.33 L458.91,197.56 L460.97,197.78 L463.03,197.99 L465.09,198.19 L467.14,198.39 L469.2,198.58 L471.26,198.78 L473.32,198.97 L475.37,199.17 L477.43,199.38 L479.49,199.57 L481.55,199.76 L483.6,199.95 L485.66,200.12 L487.72,200.29 L489.78,200.45 L491.83,200.6 L493.89,200.76 L495.95,200.91 L498.01,201.06 L500.07,201.21 L502.12,201.36 L504.18,201.51 L506.24,201.67 L508.3,201.83 L510.35,201.99 L512.41,202.16 L514.47,202.34 L516.53,202.53 L518.58,202.75 L520.64,202.99 L522.7,203.23 L524.76,203.46 L526.81,203.68 L528.87,203.85 L530.93,203.99 L532.99,204.07 L535.04,204.12 L537.1,204.17 L539.16,204.21 L541.22,204.24 L543.27,204.28 L545.33,204.32 L547.39,204.38 L549.45,204.46 L551.5,204.57 L553.56,204.71 L555.62,204.86 L557.68,205.02 L559.73,205.19 L561.79,205.34 L563.85,205.49 L565.91,205.62 L567.96,205.76 L570.02,205.88 L572.08,206.01 L574.14,206.14 L576.19,206.26 L578.25,206.39 L580.31,206.51 L582.37,206.64 L584.42,206.77 L586.48,206.9 L588.54,207.04 L590.6,207.17 L592.65,207.3 L594.71,207.43 L596.77,207.56 L598.83,207.69 L600.88,207.83 L602.94,207.96 L605,208.1 L607.06,208.24 L609.12,208.39 L611.17,208.54 L613.23,208.7 L615.29,208.87 L617.35,209.05 L619.4,209.23 L621.46,209.42 L623.52,209.63 L625.58,209.84 L627.63,210.06 L629.69,210.29 L631.75,210.53 L633.81,210.78 L635.86,211.03 L637.92,211.29 L639.98,211.56 L642.04,211.83 L644.09,212.13 L646.15,212.44 L648.21,212.77 L650.27,213.11 L652.32,213.47 L654.38,213.85 L656.44,214.24 L658.5,214.66 L660.55,215.11 L662.61,215.62 L664.67,216.15 L666.73,216.76 L668.78,217.53 L670.84,218.56 L672.9,220.07 L672.9,220.07 L673.03,220.19 L673.16,220.31 L673.29,220.44 L673.42,220.56 L673.55,220.69 L673.68,220.83 L673.81,220.96 L673.95,221.1 L674.08,221.25 L674.21,221.39 L674.34,221.54 L674.47,221.7 L674.6,221.85 L674.73,222.02 L674.86,222.18 L674.99,222.35 L675.12,222.52 L675.25,222.69 L675.38,222.87 L675.51,223.05 L675.65,223.25 L675.78,223.46 L675.91,223.68 L676.04,223.91 L676.17,224.17 L676.3,224.44 L676.43,224.74 L676.56,225.06 L676.69,225.41 L676.82,225.79 L676.95,226.2 L677.08,226.64 L677.22,227.11 L677.35,227.63 L677.48,228.18 L677.61,229.01 L677.74,230.32 L677.87,231.88 L678,233.46 L678,204.4 Z" fill="#EFC000"/>
<text x="426.4" y="173.6" font-size="7.4" text-anchor="start" font-weight="normal" fill="#222" stroke="#222" stroke-width="0.18" >L</text>
<text x="674.3" y="234" font-size="7.4" text-anchor="end" font-weight="normal" fill="#222" stroke="#222" stroke-width="0.18" >H</text>
<polyline points="423.2,83.6 428.9,81.41 428.9,80.91 433.5,79.15 433.5,78.65 434.4,78.3 452.8,84.7 456.4,84.17 456.4,83.67 456.9,83.6 457.9,75.9 458.4,75.58 458.4,75.08 461,73.4 465.6,73.31 465.6,72.81 466.1,72.8 467.6,72.36 467.6,71.86 469.2,71.4 470.2,71.61 470.2,71.11 479.4,73.09 479.4,72.59 480.4,72.8 481.4,71.96 481.4,71.46 483.5,69.7 485.4,70.36 485.4,70.04 491.9,72.28 491.9,71.96 495.2,73.1 495.2,72.78 503.1,75.5 503.1,75.18 507,76.53 507,76.21 509,76.9 509.9,76.83 509.9,76.33 515.8,75.83 515.8,75.33 516.2,75.3 521.3,76.9 522.4,77.29 522.4,76.79 524.37,77.48 524.37,76.98 526.33,77.67 526.33,77.17 528.4,77.9 529.6,78.48 529.6,77.98 533.6,79.91 533.6,79.41 539.5,82.26 539.5,81.76 540,82 546.7,85.67 546.7,85.27 548,85.98 548,85.58 552.6,88.1 552.6,87.7 557.9,90.6 557.9,90.2 559,90.8 563.1,92.71 563.1,92.21 573,96.82 573,96.32 573.6,96.6 585.3,101 586.7,99.5 594,102.4 595.5,101.7 605.7,105.4 607.4,102.9 615.9,105.4 618.1,101.3 618.1,100.8 618.8,99.5 620.2,99.29 620.2,98.79 624.7,98.1 626.1,97.3 633.4,99.14 633.4,98.64 640,100.3 645.1,101.3 648,96.86 648,96.36 648.5,95.6 654.2,94.88 654.2,94.38 655.6,94.2 659.7,93.56 659.7,93.06 664.6,92.3 667,91.3 667.9,86.6 671.7,83.2 672.7,82.8" fill="none" stroke="#E64B35" stroke-width="1.3" stroke-linejoin="round" stroke-linecap="round"/>
<polyline points="423.2,83.6 423.4,76.9 424.9,75.9 424.9,75.4 427.3,73.8 429.5,73.08 429.5,72.58 432.1,71.73 432.1,71.23 433.4,70.8 436.7,70.32 436.7,69.82 437.5,69.7 438.05,69.51 438.05,69.01 439.4,68.55 439.4,68.05 442.6,66.94 442.6,66.44 443.6,66.1 446.6,67.1 446.6,66.6 455.9,69.7 457.9,68.7 461,68.32 461,67.82 462,67.7 469.6,70.8 469.6,70.3 471.6,71.12 471.6,70.62 478.4,73.4 478.8,73.49 478.8,72.99 480.1,73.28 480.1,72.78 481.4,73.08 481.4,72.58 482.4,72.8 483.4,73.17 483.4,72.97 487.3,74.43 487.3,74.23 490.6,75.46 490.6,75.26 493.9,76.49 493.9,76.29 497.2,77.53 497.2,77.33 499.1,78.03 499.1,77.83 501.1,78.58 501.1,78.38 504.4,79.61 504.4,79.41 504.9,79.6 507,80.09 507,79.69 509.9,80.38 509.9,79.98 511.9,80.45 511.9,80.05 513.9,80.52 513.9,80.12 515.1,80.4 521.1,83.16 521.1,82.66 526.4,85.1 527,85.36 527,84.96 528.65,85.66 528.65,85.26 530.3,85.96 530.3,85.56 537.5,88.63 537.5,88.23 540,89.3 544.7,92 544.7,91.6 549.3,94.25 549.3,93.85 552.6,95.75 552.6,95.35 555.9,97.25 555.9,96.85 561.9,100.3 571,104.33 571,103.83 576.3,106.18 576.3,105.68 583.8,109 586.1,110.16 586.1,109.66 590.5,111.88 590.5,111.38 594.5,113.4 594.5,112.9 595.5,113.4 597.3,113.94 597.3,113.44 602.2,114.92 602.2,114.42 602.8,114.6 605,113.4 607,113.77 607,113.45 610.5,114.09 610.5,113.77 614,114.42 614,114.1 617.4,114.73 617.4,114.41 618.8,114.67 618.8,114.35 621.8,114.9 624.7,112 632.7,114.1 633.4,113.06 633.4,112.56 635.15,109.96 635.15,109.46 636.4,107.6 636.9,107.74 636.9,107.24 643.7,109.1 645.6,105.5 650,104.58 650,104.08 652.3,103.6 654.6,100.8 656.1,94 659.7,93.41 659.7,92.91 664.6,92.1 667.4,88.5 669.8,87.5 671.15,85.54 671.15,85.04 672.7,82.8" fill="none" stroke="#4DBBD5" stroke-width="1.3" stroke-linejoin="round" stroke-linecap="round"/>
<polyline points="423.2,83.6 425.2,81 427.3,78.9 429.3,76.9 431,67.7 432.75,67.86 432.75,67.36 434.38,67.51 434.38,67.01 435.4,67.1 437.1,65.7 441.6,66.7 444.6,63.6 449.2,63.15 449.2,62.65 449.7,62.6 450.75,62.34 450.75,61.94 452.31,61.57 452.31,61.17 453.86,60.79 453.86,60.39 455.42,60.02 455.42,59.62 455.9,59.5 456.97,58.87 456.97,58.37 458.53,57.45 458.53,56.95 460.08,56.03 460.08,55.53 462,54.4 463.19,53.02 463.19,52.52 465.1,50.3 466.3,50.37 466.3,49.87 470.2,50.09 470.2,49.59 472.2,49.7 473.5,49.73 473.5,49.33 475.15,49.36 475.15,48.96 476.8,48.99 476.8,48.59 480.8,48.67 480.8,48.27 482.4,48.3 484.7,48.4 484.7,47.9 488.6,48.07 488.6,47.57 491.6,47.7 495.2,48.56 495.2,48.06 499.1,48.99 499.1,48.49 500.8,48.9 504,49.8 504,49.3 506.64,50.04 506.64,49.54 509.27,50.29 509.27,49.79 511.1,50.3 511.91,50.59 511.91,50.19 514.55,51.15 514.55,50.75 517.18,51.71 517.18,51.31 519.82,52.26 519.82,51.86 521.3,52.4 522.45,53.02 522.45,52.7 525.09,54.1 525.09,53.78 527.73,55.19 527.73,54.87 530.36,56.28 530.36,55.96 533,57.36 533,57.04 537.6,59.5 540,60.1 540.8,60.49 540.8,60.33 542.1,60.96 542.1,60.8 543.4,61.43 543.4,61.27 544.7,61.9 544.7,61.74 546,62.37 546,62.21 549.3,63.81 549.3,63.65 552,64.96 552,64.8 554.6,66.06 554.6,65.9 557.9,67.5 557.9,67.34 561.8,69.23 561.8,69.07 579.4,77.6 581.5,78.52 581.5,78.02 586.1,80.04 586.1,79.54 586.7,79.8 589.4,81.01 589.4,80.51 591.1,81.27 591.1,80.77 597.3,83.54 597.3,83.04 605.7,86.8 607.7,87.03 607.7,86.53 610,86.8 617.4,89.7 619.6,88.6 620.2,88.82 620.2,88.32 622.3,89.1 622.3,88.6 626.1,90 628.3,87.4 637.1,90.2 639,89.4 643.2,90.5 645.4,88 653.7,90.5 655.6,90.1 655.6,89.6 658.9,88.9 659.8,87.5 662.2,86.4 663.6,81.8 666.5,80.7 667.4,78.8 676.9,83.5" fill="none" stroke="#00A087" stroke-width="1.3" stroke-linejoin="round" stroke-linecap="round"/>
<rect x="422.22" y="120.5" width="1.35" height="13.4" fill="#E64B35"/>
<rect x="428.22" y="120.5" width="1.35" height="13.4" fill="#E64B35"/>
<rect x="432.82" y="120.5" width="1.35" height="13.4" fill="#E64B35"/>
<rect x="451.82" y="120.5" width="1.35" height="13.4" fill="#E64B35"/>
<rect x="455.72" y="120.5" width="1.35" height="13.4" fill="#E64B35"/>
<rect x="457.72" y="120.5" width="1.35" height="13.4" fill="#E64B35"/>
<rect x="460.32" y="120.5" width="1.35" height="13.4" fill="#E64B35"/>
<rect x="464.93" y="120.5" width="1.35" height="13.4" fill="#E64B35"/>
<rect x="466.93" y="120.5" width="1.35" height="13.4" fill="#E64B35"/>
<rect x="469.52" y="120.5" width="1.35" height="13.4" fill="#E64B35"/>
<rect x="478.72" y="120.5" width="1.35" height="13.4" fill="#E64B35"/>
<rect x="480.72" y="120.5" width="1.35" height="13.4" fill="#E64B35"/>
<rect x="484.72" y="120.5" width="1.35" height="13.4" fill="#E64B35"/>
<rect x="491.22" y="120.5" width="1.35" height="13.4" fill="#E64B35"/>
<rect x="494.52" y="120.5" width="1.35" height="13.4" fill="#E64B35"/>
<rect x="502.43" y="120.5" width="1.35" height="13.4" fill="#E64B35"/>
<rect x="506.32" y="120.5" width="1.35" height="13.4" fill="#E64B35"/>
<rect x="509.22" y="120.5" width="1.35" height="13.4" fill="#E64B35"/>
<rect x="515.12" y="120.5" width="1.35" height="13.4" fill="#E64B35"/>
<rect x="520.43" y="120.5" width="2.65" height="13.4" fill="#E64B35"/>
<rect x="523.69" y="120.5" width="1.35" height="13.4" fill="#E64B35"/>
<rect x="525.66" y="120.5" width="1.35" height="13.4" fill="#E64B35"/>
<rect x="527.62" y="120.5" width="2.65" height="13.4" fill="#E64B35"/>
<rect x="532.93" y="120.5" width="1.35" height="13.4" fill="#E64B35"/>
<rect x="538.83" y="120.5" width="1.35" height="13.4" fill="#E64B35"/>
<rect x="546.03" y="120.5" width="2.65" height="13.4" fill="#E64B35"/>
<rect x="551.93" y="120.5" width="1.35" height="13.4" fill="#E64B35"/>
<rect x="557.23" y="120.5" width="1.35" height="13.4" fill="#E64B35"/>
<rect x="562.43" y="120.5" width="1.35" height="13.4" fill="#E64B35"/>
<rect x="572.33" y="120.5" width="1.35" height="13.4" fill="#E64B35"/>
<rect x="584.83" y="120.5" width="1.35" height="13.4" fill="#E64B35"/>
<rect x="593.62" y="120.5" width="1.35" height="13.4" fill="#E64B35"/>
<rect x="605.62" y="120.5" width="1.35" height="13.4" fill="#E64B35"/>
<rect x="615.33" y="120.5" width="1.35" height="13.4" fill="#E64B35"/>
<rect x="617.43" y="120.5" width="1.35" height="13.4" fill="#E64B35"/>
<rect x="619.53" y="120.5" width="1.35" height="13.4" fill="#E64B35"/>
<rect x="624.12" y="120.5" width="1.35" height="13.4" fill="#E64B35"/>
<rect x="632.73" y="120.5" width="1.35" height="13.4" fill="#E64B35"/>
<rect x="644.53" y="120.5" width="1.35" height="13.4" fill="#E64B35"/>
<rect x="647.33" y="120.5" width="1.35" height="13.4" fill="#E64B35"/>
<rect x="653.53" y="120.5" width="1.35" height="13.4" fill="#E64B35"/>
<rect x="659.03" y="120.5" width="1.35" height="13.4" fill="#E64B35"/>
<rect x="666.73" y="120.5" width="1.35" height="13.4" fill="#E64B35"/>
<rect x="672.93" y="120.5" width="1.35" height="13.4" fill="#E64B35"/>
<rect x="676.43" y="120.5" width="1.35" height="13.4" fill="#E64B35"/>
<rect x="422.9" y="125.3" width="158.21" height="8.3" fill="#fff" fill-opacity="0.6"/>
<text x="423.2" y="132.55" font-size="7.7" text-anchor="start" font-weight="normal" fill="#222" stroke="#222" stroke-width="0.18" textLength="157.21" lengthAdjust="spacingAndGlyphs" >P53 SIGNALING PATHWAY(ES=-0.1843,NP=0.9684)</text>
<rect x="422.22" y="133.9" width="1.35" height="13.4" fill="#4DBBD5"/>
<rect x="424.22" y="133.9" width="1.35" height="13.4" fill="#4DBBD5"/>
<rect x="426.82" y="133.9" width="1.35" height="13.4" fill="#4DBBD5"/>
<rect x="428.82" y="133.9" width="1.35" height="13.4" fill="#4DBBD5"/>
<rect x="431.43" y="133.9" width="1.35" height="13.4" fill="#4DBBD5"/>
<rect x="436.02" y="133.9" width="4.05" height="13.4" fill="#4DBBD5"/>
<rect x="441.93" y="133.9" width="1.35" height="13.4" fill="#4DBBD5"/>
<rect x="445.93" y="133.9" width="1.35" height="13.4" fill="#4DBBD5"/>
<rect x="455.72" y="133.9" width="1.35" height="13.4" fill="#4DBBD5"/>
<rect x="460.32" y="133.9" width="1.35" height="13.4" fill="#4DBBD5"/>
<rect x="468.93" y="133.9" width="1.35" height="13.4" fill="#4DBBD5"/>
<rect x="470.93" y="133.9" width="1.35" height="13.4" fill="#4DBBD5"/>
<rect x="478.12" y="133.9" width="3.95" height="13.4" fill="#4DBBD5"/>
<rect x="482.72" y="133.9" width="1.35" height="13.4" fill="#4DBBD5"/>
<rect x="486.62" y="133.9" width="1.35" height="13.4" fill="#4DBBD5"/>
<rect x="489.93" y="133.9" width="1.35" height="13.4" fill="#4DBBD5"/>
<rect x="493.22" y="133.9" width="1.35" height="13.4" fill="#4DBBD5"/>
<rect x="496.52" y="133.9" width="1.35" height="13.4" fill="#4DBBD5"/>
<rect x="498.43" y="133.9" width="1.35" height="13.4" fill="#4DBBD5"/>
<rect x="500.43" y="133.9" width="1.35" height="13.4" fill="#4DBBD5"/>
<rect x="503.72" y="133.9" width="1.35" height="13.4" fill="#4DBBD5"/>
<rect x="506.32" y="133.9" width="1.35" height="13.4" fill="#4DBBD5"/>
<rect x="509.22" y="133.9" width="1.35" height="13.4" fill="#4DBBD5"/>
<rect x="511.22" y="133.9" width="1.35" height="13.4" fill="#4DBBD5"/>
<rect x="513.23" y="133.9" width="1.35" height="13.4" fill="#4DBBD5"/>
<rect x="520.43" y="133.9" width="1.35" height="13.4" fill="#4DBBD5"/>
<rect x="526.33" y="133.9" width="1.35" height="13.4" fill="#4DBBD5"/>
<rect x="527.98" y="133.9" width="1.35" height="13.4" fill="#4DBBD5"/>
<rect x="529.62" y="133.9" width="1.35" height="13.4" fill="#4DBBD5"/>
<rect x="536.83" y="133.9" width="1.35" height="13.4" fill="#4DBBD5"/>
<rect x="544.03" y="133.9" width="1.35" height="13.4" fill="#4DBBD5"/>
<rect x="548.62" y="133.9" width="1.35" height="13.4" fill="#4DBBD5"/>
<rect x="551.93" y="133.9" width="1.35" height="13.4" fill="#4DBBD5"/>
<rect x="555.23" y="133.9" width="1.35" height="13.4" fill="#4DBBD5"/>
<rect x="561.12" y="133.9" width="1.35" height="13.4" fill="#4DBBD5"/>
<rect x="570.33" y="133.9" width="1.35" height="13.4" fill="#4DBBD5"/>
<rect x="575.62" y="133.9" width="1.35" height="13.4" fill="#4DBBD5"/>
<rect x="585.43" y="133.9" width="1.35" height="13.4" fill="#4DBBD5"/>
<rect x="589.83" y="133.9" width="1.35" height="13.4" fill="#4DBBD5"/>
<rect x="593.83" y="133.9" width="1.35" height="13.4" fill="#4DBBD5"/>
<rect x="595.23" y="133.9" width="1.35" height="13.4" fill="#4DBBD5"/>
<rect x="596.62" y="133.9" width="1.35" height="13.4" fill="#4DBBD5"/>
<rect x="601.53" y="133.9" width="1.35" height="13.4" fill="#4DBBD5"/>
<rect x="603.13" y="133.9" width="1.35" height="13.4" fill="#4DBBD5"/>
<rect x="604.73" y="133.9" width="1.35" height="13.4" fill="#4DBBD5"/>
<rect x="606.33" y="133.9" width="1.35" height="13.4" fill="#4DBBD5"/>
<rect x="609.83" y="133.9" width="1.35" height="13.4" fill="#4DBBD5"/>
<rect x="613.33" y="133.9" width="1.35" height="13.4" fill="#4DBBD5"/>
<rect x="616.73" y="133.9" width="1.35" height="13.4" fill="#4DBBD5"/>
<rect x="618.12" y="133.9" width="1.35" height="13.4" fill="#4DBBD5"/>
<rect x="620.93" y="133.9" width="1.35" height="13.4" fill="#4DBBD5"/>
<rect x="623.73" y="133.9" width="1.35" height="13.4" fill="#4DBBD5"/>
<rect x="632.73" y="133.9" width="1.35" height="13.4" fill="#4DBBD5"/>
<rect x="634.48" y="133.9" width="1.35" height="13.4" fill="#4DBBD5"/>
<rect x="636.23" y="133.9" width="1.35" height="13.4" fill="#4DBBD5"/>
<rect x="643.83" y="133.9" width="1.35" height="13.4" fill="#4DBBD5"/>
<rect x="649.33" y="133.9" width="1.35" height="13.4" fill="#4DBBD5"/>
<rect x="652.12" y="133.9" width="1.35" height="13.4" fill="#4DBBD5"/>
<rect x="653.88" y="133.9" width="1.35" height="13.4" fill="#4DBBD5"/>
<rect x="655.62" y="133.9" width="1.35" height="13.4" fill="#4DBBD5"/>
<rect x="659.03" y="133.9" width="1.35" height="13.4" fill="#4DBBD5"/>
<rect x="663.93" y="133.9" width="1.35" height="13.4" fill="#4DBBD5"/>
<rect x="668.73" y="133.9" width="1.35" height="13.4" fill="#4DBBD5"/>
<rect x="670.48" y="133.9" width="1.35" height="13.4" fill="#4DBBD5"/>
<rect x="672.23" y="133.9" width="1.35" height="13.4" fill="#4DBBD5"/>
<rect x="677.12" y="133.9" width="1.35" height="13.4" fill="#4DBBD5"/>
<rect x="422.9" y="138.7" width="108.29" height="8.3" fill="#fff" fill-opacity="0.6"/>
<text x="423.2" y="145.95" font-size="7.7" text-anchor="start" font-weight="normal" fill="#222" stroke="#222" stroke-width="0.18" textLength="107.29" lengthAdjust="spacingAndGlyphs" >APOPTOSIS(ES=-0.2505,NP=0.7975)</text>
<rect x="422.32" y="147.3" width="1.35" height="13.2" fill="#00A087"/>
<rect x="423.95" y="147.3" width="1.35" height="13.2" fill="#00A087"/>
<rect x="425.57" y="147.3" width="1.35" height="13.2" fill="#00A087"/>
<rect x="427.2" y="147.3" width="1.35" height="13.2" fill="#00A087"/>
<rect x="428.82" y="147.3" width="1.35" height="13.2" fill="#00A087"/>
<rect x="430.45" y="147.3" width="1.35" height="13.2" fill="#00A087"/>
<rect x="432.07" y="147.3" width="1.35" height="13.2" fill="#00A087"/>
<rect x="433.7" y="147.3" width="1.35" height="13.2" fill="#00A087"/>
<rect x="435.32" y="147.3" width="1.35" height="13.2" fill="#00A087"/>
<rect x="441.32" y="147.3" width="1.35" height="13.2" fill="#00A087"/>
<rect x="443.93" y="147.3" width="1.35" height="13.2" fill="#00A087"/>
<rect x="448.52" y="147.3" width="1.35" height="13.2" fill="#00A087"/>
<rect x="450.08" y="147.3" width="1.35" height="13.2" fill="#00A087"/>
<rect x="451.63" y="147.3" width="1.35" height="13.2" fill="#00A087"/>
<rect x="453.19" y="147.3" width="1.35" height="13.2" fill="#00A087"/>
<rect x="454.74" y="147.3" width="1.35" height="13.2" fill="#00A087"/>
<rect x="456.3" y="147.3" width="1.35" height="13.2" fill="#00A087"/>
<rect x="457.85" y="147.3" width="1.35" height="13.2" fill="#00A087"/>
<rect x="459.41" y="147.3" width="1.35" height="13.2" fill="#00A087"/>
<rect x="460.96" y="147.3" width="1.35" height="13.2" fill="#00A087"/>
<rect x="462.52" y="147.3" width="1.35" height="13.2" fill="#00A087"/>
<rect x="464.07" y="147.3" width="1.35" height="13.2" fill="#00A087"/>
<rect x="465.62" y="147.3" width="1.35" height="13.2" fill="#00A087"/>
<rect x="469.52" y="147.3" width="1.35" height="13.2" fill="#00A087"/>
<rect x="471.18" y="147.3" width="1.35" height="13.2" fill="#00A087"/>
<rect x="472.82" y="147.3" width="1.35" height="13.2" fill="#00A087"/>
<rect x="474.47" y="147.3" width="1.35" height="13.2" fill="#00A087"/>
<rect x="476.12" y="147.3" width="1.35" height="13.2" fill="#00A087"/>
<rect x="480.12" y="147.3" width="1.35" height="13.2" fill="#00A087"/>
<rect x="482.07" y="147.3" width="1.35" height="13.2" fill="#00A087"/>
<rect x="484.02" y="147.3" width="1.35" height="13.2" fill="#00A087"/>
<rect x="487.93" y="147.3" width="1.35" height="13.2" fill="#00A087"/>
<rect x="491.22" y="147.3" width="1.35" height="13.2" fill="#00A087"/>
<rect x="494.52" y="147.3" width="1.35" height="13.2" fill="#00A087"/>
<rect x="498.43" y="147.3" width="1.35" height="13.2" fill="#00A087"/>
<rect x="503.32" y="147.3" width="1.35" height="13.2" fill="#00A087"/>
<rect x="505.96" y="147.3" width="1.35" height="13.2" fill="#00A087"/>
<rect x="508.6" y="147.3" width="1.35" height="13.2" fill="#00A087"/>
<rect x="511.23" y="147.3" width="1.35" height="13.2" fill="#00A087"/>
<rect x="513.87" y="147.3" width="1.35" height="13.2" fill="#00A087"/>
<rect x="516.51" y="147.3" width="1.35" height="13.2" fill="#00A087"/>
<rect x="519.14" y="147.3" width="1.35" height="13.2" fill="#00A087"/>
<rect x="521.78" y="147.3" width="1.35" height="13.2" fill="#00A087"/>
<rect x="524.42" y="147.3" width="1.35" height="13.2" fill="#00A087"/>
<rect x="527.05" y="147.3" width="1.35" height="13.2" fill="#00A087"/>
<rect x="529.69" y="147.3" width="1.35" height="13.2" fill="#00A087"/>
<rect x="532.33" y="147.3" width="1.35" height="13.2" fill="#00A087"/>
<rect x="538.83" y="147.3" width="3.17" height="13.2" fill="#00A087"/>
<rect x="543" y="147.3" width="4" height="13.2" fill="#00A087"/>
<rect x="548.62" y="147.3" width="1.35" height="13.2" fill="#00A087"/>
<rect x="551.33" y="147.3" width="1.35" height="13.2" fill="#00A087"/>
<rect x="553.93" y="147.3" width="1.35" height="13.2" fill="#00A087"/>
<rect x="557.23" y="147.3" width="1.35" height="13.2" fill="#00A087"/>
<rect x="561.12" y="147.3" width="1.35" height="13.2" fill="#00A087"/>
<rect x="578.83" y="147.3" width="1.35" height="13.2" fill="#00A087"/>
<rect x="580.83" y="147.3" width="1.35" height="13.2" fill="#00A087"/>
<rect x="585.43" y="147.3" width="1.35" height="13.2" fill="#00A087"/>
<rect x="588.73" y="147.3" width="1.35" height="13.2" fill="#00A087"/>
<rect x="590.43" y="147.3" width="1.35" height="13.2" fill="#00A087"/>
<rect x="596.62" y="147.3" width="1.35" height="13.2" fill="#00A087"/>
<rect x="604.93" y="147.3" width="1.35" height="13.2" fill="#00A087"/>
<rect x="607.03" y="147.3" width="1.35" height="13.2" fill="#00A087"/>
<rect x="609.12" y="147.3" width="1.35" height="13.2" fill="#00A087"/>
<rect x="616.73" y="147.3" width="1.35" height="13.2" fill="#00A087"/>
<rect x="618.12" y="147.3" width="1.35" height="13.2" fill="#00A087"/>
<rect x="619.53" y="147.3" width="1.35" height="13.2" fill="#00A087"/>
<rect x="621.62" y="147.3" width="1.35" height="13.2" fill="#00A087"/>
<rect x="625.73" y="147.3" width="1.35" height="13.2" fill="#00A087"/>
<rect x="627.83" y="147.3" width="1.35" height="13.2" fill="#00A087"/>
<rect x="637.12" y="147.3" width="1.35" height="13.2" fill="#00A087"/>
<rect x="643.12" y="147.3" width="1.35" height="13.2" fill="#00A087"/>
<rect x="644.53" y="147.3" width="1.35" height="13.2" fill="#00A087"/>
<rect x="652.83" y="147.3" width="1.35" height="13.2" fill="#00A087"/>
<rect x="654.93" y="147.3" width="1.35" height="13.2" fill="#00A087"/>
<rect x="658.33" y="147.3" width="1.35" height="13.2" fill="#00A087"/>
<rect x="662.53" y="147.3" width="1.35" height="13.2" fill="#00A087"/>
<rect x="666.73" y="147.3" width="1.35" height="13.2" fill="#00A087"/>
<rect x="677.12" y="147.3" width="1.35" height="13.2" fill="#00A087"/>
<rect x="422.9" y="152.1" width="112.59" height="8.1" fill="#fff" fill-opacity="0.6"/>
<text x="423.2" y="159.15" font-size="7.7" text-anchor="start" font-weight="normal" fill="#222" stroke="#222" stroke-width="0.18" textLength="111.59" lengthAdjust="spacingAndGlyphs" >CELL CYCLE(ES=0.2854,NP=0.4569)</text>
<line x1="417.5" y1="120.5" x2="683.6" y2="120.5" stroke="#333333" stroke-width="1.1" />
<line x1="417.5" y1="133.5" x2="683.6" y2="133.5" stroke="#333333" stroke-width="1.1" />
<line x1="417.5" y1="147.5" x2="683.6" y2="147.5" stroke="#333333" stroke-width="1.1" />
<line x1="417.5" y1="160.5" x2="683.6" y2="160.5" stroke="#333333" stroke-width="1.1" />
<line x1="417.5" y1="40.9" x2="417.5" y2="240.5" stroke="#333333" stroke-width="1.1" />
<line x1="683.5" y1="40.9" x2="683.5" y2="240.5" stroke="#333333" stroke-width="1.1" />
<line x1="417" y1="41.5" x2="684.1" y2="41.5" stroke="#333333" stroke-width="1.1" />
<line x1="417" y1="240.5" x2="684.1" y2="240.5" stroke="#333333" stroke-width="1.1" />
<line x1="414.2" y1="58.5" x2="417.5" y2="58.5" stroke="#333333" stroke-width="0.9" />
<text x="412.4" y="60.8" font-size="7.7" text-anchor="end" font-weight="normal" fill="#333" stroke="#333" stroke-width="0.18" textLength="8.88" lengthAdjust="spacingAndGlyphs" >0.2</text>
<line x1="414.2" y1="70.5" x2="417.5" y2="70.5" stroke="#333333" stroke-width="0.9" />
<text x="412.4" y="73.45" font-size="7.7" text-anchor="end" font-weight="normal" fill="#333" stroke="#333" stroke-width="0.18" textLength="8.88" lengthAdjust="spacingAndGlyphs" >0.1</text>
<line x1="414.2" y1="83.5" x2="417.5" y2="83.5" stroke="#333333" stroke-width="0.9" />
<text x="412.4" y="86.1" font-size="7.7" text-anchor="end" font-weight="normal" fill="#333" stroke="#333" stroke-width="0.18" textLength="8.88" lengthAdjust="spacingAndGlyphs" >0.0</text>
<line x1="414.2" y1="96.5" x2="417.5" y2="96.5" stroke="#333333" stroke-width="0.9" />
<text x="412.4" y="98.75" font-size="7.7" text-anchor="end" font-weight="normal" fill="#333" stroke="#333" stroke-width="0.18" textLength="12.88" lengthAdjust="spacingAndGlyphs" >−0.1</text>
<line x1="414.2" y1="108.5" x2="417.5" y2="108.5" stroke="#333333" stroke-width="0.9" />
<text x="412.4" y="111.4" font-size="7.7" text-anchor="end" font-weight="normal" fill="#333" stroke="#333" stroke-width="0.18" textLength="12.88" lengthAdjust="spacingAndGlyphs" >−0.2</text>
<line x1="414.2" y1="47.5" x2="417.5" y2="47.5" stroke="#333333" stroke-width="0.9" />
<line x1="414.2" y1="113.5" x2="417.5" y2="113.5" stroke="#333333" stroke-width="0.9" />
<line x1="414.2" y1="174.5" x2="417.5" y2="174.5" stroke="#333333" stroke-width="0.9" />
<text x="412.4" y="177.1" font-size="7.7" text-anchor="end" font-weight="normal" fill="#333" stroke="#333" stroke-width="0.18" textLength="8.88" lengthAdjust="spacingAndGlyphs" >0.4</text>
<line x1="414.2" y1="189.5" x2="417.5" y2="189.5" stroke="#333333" stroke-width="0.9" />
<text x="412.4" y="192" font-size="7.7" text-anchor="end" font-weight="normal" fill="#333" stroke="#333" stroke-width="0.18" textLength="8.88" lengthAdjust="spacingAndGlyphs" >0.2</text>
<line x1="414.2" y1="204.5" x2="417.5" y2="204.5" stroke="#333333" stroke-width="0.9" />
<text x="412.4" y="206.9" font-size="7.7" text-anchor="end" font-weight="normal" fill="#333" stroke="#333" stroke-width="0.18" textLength="8.88" lengthAdjust="spacingAndGlyphs" >0.0</text>
<line x1="414.2" y1="219.5" x2="417.5" y2="219.5" stroke="#333333" stroke-width="0.9" />
<text x="412.4" y="221.8" font-size="7.7" text-anchor="end" font-weight="normal" fill="#333" stroke="#333" stroke-width="0.18" textLength="12.88" lengthAdjust="spacingAndGlyphs" >−0.2</text>
<line x1="414.2" y1="165.5" x2="417.5" y2="165.5" stroke="#333333" stroke-width="0.9" />
<line x1="414.2" y1="233.5" x2="417.5" y2="233.5" stroke="#333333" stroke-width="0.9" />
<line x1="423.5" y1="240" x2="423.5" y2="243" stroke="#333333" stroke-width="0.9" />
<text x="423.35" y="251.9" font-size="7.7" text-anchor="middle" font-weight="normal" fill="#333" stroke="#333" stroke-width="0.18" textLength="3.44" lengthAdjust="spacingAndGlyphs" >0</text>
<line x1="477.5" y1="240" x2="477.5" y2="243" stroke="#333333" stroke-width="0.9" />
<text x="477.55" y="251.9" font-size="7.7" text-anchor="middle" font-weight="normal" fill="#333" stroke="#333" stroke-width="0.18" textLength="15.46" lengthAdjust="spacingAndGlyphs" >5,000</text>
<line x1="531.5" y1="240" x2="531.5" y2="243" stroke="#333333" stroke-width="0.9" />
<text x="531.75" y="251.9" font-size="7.7" text-anchor="middle" font-weight="normal" fill="#333" stroke="#333" stroke-width="0.18" textLength="18.89" lengthAdjust="spacingAndGlyphs" >10,000</text>
<line x1="585.5" y1="240" x2="585.5" y2="243" stroke="#333333" stroke-width="0.9" />
<text x="585.95" y="251.9" font-size="7.7" text-anchor="middle" font-weight="normal" fill="#333" stroke="#333" stroke-width="0.18" textLength="18.89" lengthAdjust="spacingAndGlyphs" >15,000</text>
<line x1="640.5" y1="240" x2="640.5" y2="243" stroke="#333333" stroke-width="0.9" />
<text x="640.15" y="251.9" font-size="7.7" text-anchor="middle" font-weight="normal" fill="#333" stroke="#333" stroke-width="0.18" textLength="18.89" lengthAdjust="spacingAndGlyphs" >20,000</text>
<line x1="677.5" y1="240" x2="677.5" y2="243" stroke="#333333" stroke-width="0.9" />
<text x="550.6" y="260.7" font-size="7.9" text-anchor="middle" font-weight="normal" fill="#222" stroke="#222" stroke-width="0.18" textLength="69.4" lengthAdjust="spacingAndGlyphs" >Rank in Ordered DataSet</text>
<text x="0" y="0" font-size="7.5" text-anchor="middle" font-weight="normal" fill="#222" stroke="#222" stroke-width="0.18" textLength="53.5" lengthAdjust="spacingAndGlyphs" transform="translate(397.2,80.95) rotate(-90)">Enrichment score</text>
<text x="0" y="0" font-size="7.5" text-anchor="middle" font-weight="normal" fill="#222" stroke="#222" stroke-width="0.18" textLength="52.6" lengthAdjust="spacingAndGlyphs" transform="translate(390.4,200.2) rotate(-90)">Ranked list metri</text>
<text x="0" y="0" font-size="7.5" text-anchor="middle" font-weight="normal" fill="#222" stroke="#222" stroke-width="0.18" transform="translate(397.6,200.4) rotate(-90)">c</text>
<text x="136.16" y="312.79" font-size="17.3" text-anchor="start" font-weight="bold" fill="#000" >TLR4</text>
<text x="6.03" y="311.44" font-size="32" text-anchor="start" font-weight="bold" fill="#000" >C</text>
<line x1="34" y1="342.5" x2="288.5" y2="342.5" stroke="#EBEBEB" stroke-width="0.7" />
<line x1="34" y1="352.5" x2="288.5" y2="352.5" stroke="#EBEBEB" stroke-width="0.7" />
<line x1="34" y1="363.5" x2="288.5" y2="363.5" stroke="#EBEBEB" stroke-width="0.7" />
<line x1="34" y1="373.5" x2="288.5" y2="373.5" stroke="#EBEBEB" stroke-width="0.7" />
<line x1="34" y1="384.5" x2="288.5" y2="384.5" stroke="#EBEBEB" stroke-width="0.7" />
<line x1="34" y1="394.5" x2="298.6" y2="394.5" stroke="#BBBBBB" stroke-width="0.8" stroke-dasharray="1,1"/>
<line x1="34" y1="469.5" x2="288.5" y2="469.5" stroke="#EBEBEB" stroke-width="0.7" />
<line x1="34" y1="483.5" x2="288.5" y2="483.5" stroke="#EBEBEB" stroke-width="0.7" />
<line x1="34" y1="497.5" x2="288.5" y2="497.5" stroke="#EBEBEB" stroke-width="0.7" />
<line x1="34" y1="511.5" x2="288.5" y2="511.5" stroke="#EBEBEB" stroke-width="0.7" />
<line x1="39.5" y1="330.6" x2="39.5" y2="409.7" stroke="#EBEBEB" stroke-width="0.7" />
<line x1="39.5" y1="449.7" x2="39.5" y2="529.2" stroke="#EBEBEB" stroke-width="0.7" />
<line x1="93.5" y1="330.6" x2="93.5" y2="409.7" stroke="#EBEBEB" stroke-width="0.7" />
<line x1="93.5" y1="449.7" x2="93.5" y2="529.2" stroke="#EBEBEB" stroke-width="0.7" />
<line x1="147.5" y1="330.6" x2="147.5" y2="409.7" stroke="#EBEBEB" stroke-width="0.7" />
<line x1="147.5" y1="449.7" x2="147.5" y2="529.2" stroke="#EBEBEB" stroke-width="0.7" />
<line x1="201.5" y1="330.6" x2="201.5" y2="409.7" stroke="#EBEBEB" stroke-width="0.7" />
<line x1="201.5" y1="449.7" x2="201.5" y2="529.2" stroke="#EBEBEB" stroke-width="0.7" />
<line x1="256.5" y1="330.6" x2="256.5" y2="409.7" stroke="#EBEBEB" stroke-width="0.7" />
<line x1="256.5" y1="449.7" x2="256.5" y2="529.2" stroke="#EBEBEB" stroke-width="0.7" />
<path d="M38.95,497.3 L38.95,456.16 L39.08,456.19 L39.21,456.3 L39.34,456.48 L39.47,456.71 L39.6,456.99 L39.73,457.33 L39.87,458.46 L40,460.48 L40.13,463.04 L40.26,465.72 L40.39,468.16 L40.52,469.96 L40.65,470.8 L40.78,471.34 L40.91,471.86 L41.04,472.36 L41.17,472.83 L41.3,473.28 L41.44,473.7 L41.57,474.11 L41.7,474.49 L41.83,474.85 L41.96,475.2 L42.09,475.52 L42.22,475.83 L42.35,476.12 L42.48,476.39 L42.61,476.65 L42.74,476.9 L42.87,477.13 L43,477.35 L43.14,477.56 L43.27,477.75 L43.4,477.94 L43.53,478.12 L43.66,478.28 L43.79,478.44 L43.92,478.6 L44.05,478.75 L44.05,478.75 L46.11,480.77 L48.17,482.46 L50.22,483.84 L52.28,484.96 L54.34,485.87 L56.4,486.61 L58.45,487.24 L60.51,487.84 L62.57,488.4 L64.63,488.92 L66.68,489.42 L68.74,489.89 L70.8,490.33 L72.86,490.75 L74.91,491.13 L76.97,491.49 L79.03,491.83 L81.09,492.14 L83.14,492.43 L85.2,492.7 L87.26,492.94 L89.32,493.16 L91.37,493.37 L93.43,493.55 L95.49,493.72 L97.55,493.88 L99.6,494.02 L101.66,494.16 L103.72,494.29 L105.78,494.41 L107.83,494.53 L109.89,494.64 L111.95,494.74 L114.01,494.84 L116.07,494.93 L118.12,495.03 L120.18,495.11 L122.24,495.2 L124.3,495.29 L126.35,495.37 L128.41,495.46 L130.47,495.55 L132.53,495.63 L134.58,495.73 L136.64,495.82 L138.7,495.92 L140.76,496.02 L142.81,496.12 L144.87,496.23 L146.93,496.33 L148.99,496.43 L151.04,496.53 L153.1,496.63 L155.16,496.73 L157.22,496.84 L159.27,496.94 L161.33,497.04 L163.39,497.14 L165.45,497.25 L167.5,497.35 L169.56,497.46 L171.62,497.57 L173.68,497.68 L175.73,497.79 L177.79,497.9 L179.85,498.01 L181.91,498.12 L183.96,498.23 L186.02,498.34 L188.08,498.45 L190.14,498.56 L192.19,498.67 L194.25,498.78 L196.31,498.89 L198.37,499 L200.42,499.1 L202.48,499.21 L204.54,499.31 L206.6,499.41 L208.65,499.51 L210.71,499.6 L212.77,499.69 L214.83,499.78 L216.88,499.87 L218.94,499.96 L221,500.05 L223.06,500.14 L225.12,500.25 L227.17,500.35 L229.23,500.46 L231.29,500.58 L233.35,500.71 L235.4,500.84 L237.46,500.98 L239.52,501.13 L241.58,501.28 L243.63,501.44 L245.69,501.62 L247.75,501.81 L249.81,502.01 L251.86,502.23 L253.92,502.47 L255.98,502.73 L258.04,503.03 L260.09,503.41 L262.15,503.85 L264.21,504.35 L266.27,504.9 L268.32,505.49 L270.38,506.19 L272.44,506.99 L274.5,507.9 L276.55,508.87 L278.61,509.9 L280.67,511.02 L282.73,512.28 L284.78,513.65 L286.84,515.09 L288.9,516.65 L288.9,516.65 L289.03,516.75 L289.16,516.86 L289.29,516.97 L289.42,517.09 L289.55,517.2 L289.68,517.31 L289.81,517.43 L289.95,517.55 L290.08,517.67 L290.21,517.79 L290.34,517.92 L290.47,518.04 L290.6,518.17 L290.73,518.3 L290.86,518.43 L290.99,518.57 L291.12,518.7 L291.25,518.85 L291.38,518.99 L291.51,519.15 L291.65,519.3 L291.78,519.46 L291.91,519.62 L292.04,519.79 L292.17,519.96 L292.3,520.13 L292.43,520.31 L292.56,520.49 L292.69,520.67 L292.82,520.85 L292.95,521.04 L293.08,521.23 L293.22,521.42 L293.35,521.61 L293.48,521.81 L293.61,522 L293.74,522.2 L293.87,522.4 L294,522.6 L294,497.3 Z" fill="#EFC000"/>
<text x="42.4" y="462.8" font-size="7.4" text-anchor="start" font-weight="normal" fill="#222" stroke="#222" stroke-width="0.18" >H</text>
<text x="290.3" y="523.2" font-size="7.4" text-anchor="end" font-weight="normal" fill="#222" stroke="#222" stroke-width="0.18" >L</text>
<polyline points="39.4,394.8 41.6,384.3 43.8,374.1 44.8,373.41 44.8,372.91 46.1,372.01 46.1,371.51 46.7,371.1 47.4,368.18 47.4,367.68 48.7,362.26 48.7,361.76 49.6,358 51.8,354.3 53,354.17 53,353.67 54.3,353.53 54.3,353.03 55.5,352.9 56.9,352.22 56.9,351.82 58.2,351.2 58.2,350.8 59.5,350.17 59.5,349.77 60.8,349.14 60.8,348.74 61.3,348.5 62.1,348.62 62.1,348.22 63.4,348.42 63.4,348.02 64.7,348.22 64.7,347.82 66,348.02 66,347.62 67.2,347.8 68.3,347.4 68.3,347 69.6,346.53 69.6,346.13 70.9,345.66 70.9,345.26 72.2,344.79 72.2,344.39 73,344.1 74,344.63 74,344.23 75.3,344.93 75.3,344.53 76.6,345.22 76.6,344.82 77.9,345.52 77.9,345.12 78.8,345.6 80.5,346.29 80.5,345.97 88.2,349.08 88.2,348.76 89.5,349.28 89.5,348.96 90.8,349.49 90.8,349.17 92.1,349.69 92.1,349.37 93.4,349.9 94.7,350.19 94.7,350.01 96,350.3 96,350.12 97.3,350.41 97.3,350.23 98.6,350.51 98.6,350.34 99.9,350.62 99.9,350.45 101.2,350.73 101.2,350.56 102.5,350.84 102.5,350.66 103.8,350.95 103.8,350.77 108,351.7 108,351.52 108.8,351.7 109.3,351.9 109.3,351.83 110.6,352.35 110.6,352.29 111.9,352.81 111.9,352.74 113.2,353.26 113.2,353.2 114.5,353.72 114.5,353.65 115.8,354.17 115.8,354.1 117.1,354.62 117.1,354.56 118.4,355.08 118.4,355.01 121,356.05 121,355.99 122.3,356.51 122.3,356.44 123.6,356.96 123.6,356.89 124.9,357.41 124.9,357.35 129.9,359.35 129.9,359.28 131.2,359.8 131.2,359.74 132.5,360.26 132.5,360.19 134.5,360.99 134.5,360.93 135.8,361.45 135.8,361.38 138.4,362.42 138.4,362.36 139.7,362.88 139.7,362.81 141,363.33 141,363.26 142.3,363.78 142.3,363.72 143.6,364.24 143.6,364.17 144.9,364.69 144.9,364.63 146.2,365.15 146.2,365.08 148,365.8 150.9,366.96 150.9,366.91 152.2,367.43 152.2,367.37 153.5,367.89 153.5,367.84 154.8,368.36 154.8,368.31 156.1,368.83 156.1,368.77 157.4,369.29 157.4,369.24 158.7,369.76 158.7,369.71 162,371.03 162,370.97 163.3,371.49 163.3,371.44 168,373.32 168,373.27 169.3,373.79 169.3,373.73 170.6,374.25 170.6,374.2 171.9,374.72 171.9,374.67 173.9,375.47 173.9,375.41 175.2,375.93 175.2,375.88 176.5,376.4 176.5,376.35 177.8,376.87 177.8,376.81 182.4,378.65 182.4,378.6 183.7,379.12 183.7,379.07 185,379.59 185,379.53 186.3,380.05 186.3,380 189.6,381.32 189.6,381.27 190.9,381.79 190.9,381.73 192.2,382.25 192.2,382.2 193.5,382.72 193.5,382.67 196.2,383.75 196.2,383.69 197.5,384.21 197.5,384.16 198.8,384.68 198.8,384.63 200.8,385.43 200.8,385.37 202.1,385.89 202.1,385.84 203,386.2 203.4,386.36 203.4,386.28 204.7,386.79 204.7,386.72 206,387.23 206,387.16 207.3,387.67 207.3,387.6 211.2,389.13 211.2,389.06 212.5,389.57 212.5,389.49 213.8,390 213.8,389.93 216.1,390.83 216.1,390.76 217.4,391.27 217.4,391.2 218.7,391.71 218.7,391.64 220.3,392.26 220.3,392.19 221.6,392.7 221.6,392.63 222.9,393.14 222.9,393.07 224.2,393.58 224.2,393.5 226.5,394.41 226.5,394.33 227.8,394.84 227.8,394.77 229.1,395.28 229.1,395.21 230.4,395.72 230.4,395.65 231.7,396.16 231.7,396.09 236.2,397.85 236.2,397.78 237.5,398.29 237.5,398.22 239.7,399.08 239.7,399.01 240.7,399.4 242.3,399.83 242.3,399.65 243.6,399.99 243.6,399.82 247.3,400.8 247.3,400.62 248.6,400.97 248.6,400.79 250.8,401.38 250.8,401.2 252.1,401.54 252.1,401.37 253.4,401.71 253.4,401.53 257,402.49 257,402.31 258.3,402.66 258.3,402.48 259.5,402.8 260.9,402.89 260.9,402.62 262.2,402.71 262.2,402.44 265.3,402.64 265.3,402.37 266.6,402.45 266.6,402.19 267.9,402.27 267.9,402 269.2,402.08 269.2,401.82 270.5,401.9 271.8,401.72 271.8,401.52 273.1,401.35 273.1,401.15 274.4,400.97 274.4,400.77 275.7,400.59 275.7,400.39 277,400.21 277,400.01 278.3,399.84 278.3,399.64 279.6,399.46 279.6,399.26 280.9,399.08 280.9,398.88 281.5,398.8 282.2,398.7 282.2,398.38 283.5,398.19 283.5,397.87 288.2,397.18 288.2,396.86 289.5,396.67 289.5,396.35 290.8,396.15 290.8,395.83 292.4,395.6" fill="none" stroke="#E64B35" stroke-width="1.3" stroke-linejoin="round" stroke-linecap="round"/>
<polyline points="39.4,394.8 41.2,393.83 41.2,393.33 43.1,392.3 44.4,390.82 44.4,390.32 46,388.5 46,388 46.7,387.2 48.9,380.6 50.4,375.5 51.4,359.5 52.4,356.88 52.4,356.38 54,352.2 57.7,347.8 60,346.04 60,345.54 62.8,343.4 67.2,343.55 67.2,343.05 69.15,343.12 69.15,342.62 71.5,342.7 74.4,343.49 74.4,342.99 75.9,343.4 80.3,344.84 80.3,344.34 86.2,346.26 86.2,345.76 90,347 98.1,349.37 98.1,348.87 100.7,349.64 100.7,349.14 104,350.1 104,349.6 105.7,350.1 108.6,351.29 108.6,351.02 110.5,351.8 110.5,351.53 121.7,356.11 121.7,355.84 129.9,359.2 129.9,358.93 136.4,361.59 136.4,361.32 145.6,365.09 145.6,364.82 148,365.8 152.2,367.48 152.2,367.28 167.3,373.32 167.3,373.12 170.6,374.44 170.6,374.24 172.6,375.04 172.6,374.84 179.1,377.44 179.1,377.24 181.8,378.32 181.8,378.12 189,381 189,380.8 192.9,382.36 192.9,382.16 203,386.2 207.1,387.74 207.1,387.54 211.2,389.09 211.2,388.89 213.65,389.81 213.65,389.61 216.1,390.53 216.1,390.33 224.4,393.46 224.4,393.26 225.8,393.79 225.8,393.59 230.7,395.43 230.7,395.23 239.7,398.62 239.7,398.42 240.7,398.8 243.1,398.8 243.1,398.4 245.2,398.4 245.2,398 249.4,398 249.4,397.6 252.2,397.6 252.2,397.2 253.2,397.2 254.2,397.44 254.2,396.94 261.9,398.76 261.9,398.26 270.5,400.3 271.5,399.04 271.5,398.54 272.8,396.91 272.8,396.41 275.2,393.4 276.4,393.53 276.4,393.03 292.4,394.7" fill="none" stroke="#00A087" stroke-width="1.3" stroke-linejoin="round" stroke-linecap="round"/>
<polyline points="39.4,394.8 40.9,381.4 41.5,377.75 41.5,377.25 42.8,369.35 42.8,368.85 43.5,364.6 46.2,364.35 46.2,363.85 46.7,363.8 48.9,359.5 50.4,353.6 51.4,351.04 51.4,350.54 52.7,347.22 52.7,346.72 54,343.4 56.9,342.7 58.55,341.32 58.55,340.82 59.9,339.7 60.4,339.37 60.4,338.87 62.25,337.66 62.25,337.16 62.8,336.8 64.1,336.95 64.1,336.45 65.95,336.67 65.95,336.17 67.9,336.4 73.8,338.35 73.8,337.85 75.7,338.48 75.7,337.98 78.4,338.87 78.4,338.37 80.3,339 83.6,340.77 83.6,340.27 86.9,342.04 86.9,341.54 90,343.2 93.5,344.61 93.5,344.21 95.3,344.94 95.3,344.54 97.1,345.27 97.1,344.87 98.9,345.6 98.9,345.2 99.4,345.4 100.7,345.95 100.7,345.45 106.6,347.94 106.6,347.44 109.9,348.84 109.9,348.34 121.4,353.2 123.9,354.38 123.9,353.98 129.9,356.83 129.9,356.43 145.6,363.86 145.6,363.46 146.9,364.08 146.9,363.68 148,364.2 154.2,366.68 154.2,366.28 168,371.8 168,371.4 198.8,383.72 198.8,383.32 200.1,383.84 200.1,383.44 203,384.6 204.1,385.06 204.1,384.83 206.4,385.8 206.4,385.57 214,388.75 214,388.52 228.6,394.64 228.6,394.41 230.7,395.29 230.7,395.07 237.6,397.96 237.6,397.73 239.67,398.6 239.67,398.37 240.7,398.8 241.73,398.84 241.73,398.34 243.8,398.42 243.8,397.92 252.2,398.26 252.2,397.76 253.2,397.8 254.2,398 254.2,397.77 255.6,398.06 255.6,397.83 257,398.11 257,397.88 258.4,398.17 258.4,397.94 261.9,398.65 261.9,398.42 265.3,399.11 265.3,398.88 269.5,399.73 269.5,399.5 270.5,399.7 272.3,397.98 272.3,397.48 275.2,394.7 277.1,394.87 277.1,394.37 288.9,395.39 288.9,394.89 290.3,395.02 290.3,394.52 292.4,394.7" fill="none" stroke="#4DBBD5" stroke-width="1.3" stroke-linejoin="round" stroke-linecap="round"/>
<rect x="38" y="409.7" width="7" height="13.4" fill="#E64B35"/>
<rect x="46" y="409.7" width="12" height="13.4" fill="#E64B35"/>
<rect x="59" y="409.7" width="2" height="13.4" fill="#E64B35"/>
<rect x="62" y="409.7" width="1" height="13.4" fill="#E64B35"/>
<rect x="64" y="409.7" width="9" height="13.4" fill="#E64B35"/>
<rect x="74" y="409.7" width="4" height="13.4" fill="#E64B35"/>
<rect x="79" y="409.7" width="1" height="13.4" fill="#E64B35"/>
<rect x="88" y="409.7" width="10" height="13.4" fill="#E64B35"/>
<rect x="99" y="409.7" width="6" height="13.4" fill="#E64B35"/>
<rect x="108" y="409.7" width="2" height="13.4" fill="#E64B35"/>
<rect x="111" y="409.7" width="6" height="13.4" fill="#E64B35"/>
<rect x="120" y="409.7" width="3" height="13.4" fill="#E64B35"/>
<rect x="125" y="409.7" width="1" height="13.4" fill="#E64B35"/>
<rect x="129" y="409.7" width="4" height="13.4" fill="#E64B35"/>
<rect x="134" y="409.7" width="3" height="13.4" fill="#E64B35"/>
<rect x="138" y="409.7" width="3" height="13.4" fill="#E64B35"/>
<rect x="142" y="409.7" width="2" height="13.4" fill="#E64B35"/>
<rect x="146" y="409.7" width="1" height="13.4" fill="#E64B35"/>
<rect x="150" y="409.7" width="2" height="13.4" fill="#E64B35"/>
<rect x="153" y="409.7" width="2" height="13.4" fill="#E64B35"/>
<rect x="156" y="409.7" width="4" height="13.4" fill="#E64B35"/>
<rect x="162" y="409.7" width="3" height="13.4" fill="#E64B35"/>
<rect x="168" y="409.7" width="4" height="13.4" fill="#E64B35"/>
<rect x="173" y="409.7" width="5" height="13.4" fill="#E64B35"/>
<rect x="182" y="409.7" width="1" height="13.4" fill="#E64B35"/>
<rect x="184" y="409.7" width="3" height="13.4" fill="#E64B35"/>
<rect x="189" y="409.7" width="5" height="13.4" fill="#E64B35"/>
<rect x="196" y="409.7" width="3" height="13.4" fill="#E64B35"/>
<rect x="200" y="409.7" width="8" height="13.4" fill="#E64B35"/>
<rect x="211" y="409.7" width="4" height="13.4" fill="#E64B35"/>
<rect x="216" y="409.7" width="2" height="13.4" fill="#E64B35"/>
<rect x="220" y="409.7" width="3" height="13.4" fill="#E64B35"/>
<rect x="226" y="409.7" width="3" height="13.4" fill="#E64B35"/>
<rect x="230" y="409.7" width="3" height="13.4" fill="#E64B35"/>
<rect x="236" y="409.7" width="1" height="13.4" fill="#E64B35"/>
<rect x="238" y="409.7" width="4" height="13.4" fill="#E64B35"/>
<rect x="243" y="409.7" width="1" height="13.4" fill="#E64B35"/>
<rect x="247" y="409.7" width="8" height="13.4" fill="#E64B35"/>
<rect x="256" y="409.7" width="8" height="13.4" fill="#E64B35"/>
<rect x="265" y="409.7" width="1" height="13.4" fill="#E64B35"/>
<rect x="267" y="409.7" width="8" height="13.4" fill="#E64B35"/>
<rect x="277" y="409.7" width="8" height="13.4" fill="#E64B35"/>
<rect x="288" y="409.7" width="6" height="13.4" fill="#E64B35"/>
<rect x="38.9" y="414.5" width="165.07" height="8.3" fill="#fff" fill-opacity="0.6"/>
<text x="39.2" y="421.75" font-size="7.7" text-anchor="start" font-weight="normal" fill="#222" stroke="#222" stroke-width="0.18" textLength="164.07" lengthAdjust="spacingAndGlyphs" >MAPK SIGNALING PATHWAY(ES=0.4812,NP=0.0000)</text>
<rect x="38" y="423.1" width="1" height="13.4" fill="#4DBBD5"/>
<rect x="40" y="423.1" width="3" height="13.4" fill="#4DBBD5"/>
<rect x="46" y="423.1" width="1" height="13.4" fill="#4DBBD5"/>
<rect x="48" y="423.1" width="4" height="13.4" fill="#4DBBD5"/>
<rect x="53" y="423.1" width="1" height="13.4" fill="#4DBBD5"/>
<rect x="56.03" y="423.1" width="1.35" height="13.4" fill="#4DBBD5"/>
<rect x="57.88" y="423.1" width="1.35" height="13.4" fill="#4DBBD5"/>
<rect x="59.73" y="423.1" width="1.35" height="13.4" fill="#4DBBD5"/>
<rect x="61.58" y="423.1" width="1.35" height="13.4" fill="#4DBBD5"/>
<rect x="63.42" y="423.1" width="1.35" height="13.4" fill="#4DBBD5"/>
<rect x="65.28" y="423.1" width="1.35" height="13.4" fill="#4DBBD5"/>
<rect x="67.12" y="423.1" width="1.35" height="13.4" fill="#4DBBD5"/>
<rect x="73.12" y="423.1" width="1.35" height="13.4" fill="#4DBBD5"/>
<rect x="75.03" y="423.1" width="1.35" height="13.4" fill="#4DBBD5"/>
<rect x="77.73" y="423.1" width="1.35" height="13.4" fill="#4DBBD5"/>
<rect x="82.92" y="423.1" width="1.35" height="13.4" fill="#4DBBD5"/>
<rect x="86.23" y="423.1" width="1.35" height="13.4" fill="#4DBBD5"/>
<rect x="89.53" y="423.1" width="1.35" height="13.4" fill="#4DBBD5"/>
<rect x="92.83" y="423.1" width="1.35" height="13.4" fill="#4DBBD5"/>
<rect x="94.62" y="423.1" width="1.35" height="13.4" fill="#4DBBD5"/>
<rect x="96.42" y="423.1" width="1.35" height="13.4" fill="#4DBBD5"/>
<rect x="98.23" y="423.1" width="1.35" height="13.4" fill="#4DBBD5"/>
<rect x="100.03" y="423.1" width="1.35" height="13.4" fill="#4DBBD5"/>
<rect x="105.92" y="423.1" width="1.35" height="13.4" fill="#4DBBD5"/>
<rect x="109.23" y="423.1" width="1.35" height="13.4" fill="#4DBBD5"/>
<rect x="121.03" y="423.1" width="1.35" height="13.4" fill="#4DBBD5"/>
<rect x="123.23" y="423.1" width="1.35" height="13.4" fill="#4DBBD5"/>
<rect x="129.22" y="423.1" width="1.35" height="13.4" fill="#4DBBD5"/>
<rect x="144.92" y="423.1" width="2.65" height="13.4" fill="#4DBBD5"/>
<rect x="153.52" y="423.1" width="1.35" height="13.4" fill="#4DBBD5"/>
<rect x="167.32" y="423.1" width="1.35" height="13.4" fill="#4DBBD5"/>
<rect x="198.12" y="423.1" width="2.65" height="13.4" fill="#4DBBD5"/>
<rect x="203.42" y="423.1" width="1.35" height="13.4" fill="#4DBBD5"/>
<rect x="205.72" y="423.1" width="1.35" height="13.4" fill="#4DBBD5"/>
<rect x="213.32" y="423.1" width="1.35" height="13.4" fill="#4DBBD5"/>
<rect x="227.92" y="423.1" width="1.35" height="13.4" fill="#4DBBD5"/>
<rect x="230.02" y="423.1" width="1.35" height="13.4" fill="#4DBBD5"/>
<rect x="236.92" y="423.1" width="1.35" height="13.4" fill="#4DBBD5"/>
<rect x="238.99" y="423.1" width="1.35" height="13.4" fill="#4DBBD5"/>
<rect x="241.06" y="423.1" width="1.35" height="13.4" fill="#4DBBD5"/>
<rect x="243.12" y="423.1" width="1.35" height="13.4" fill="#4DBBD5"/>
<rect x="251.52" y="423.1" width="1.35" height="13.4" fill="#4DBBD5"/>
<rect x="253.52" y="423.1" width="1.35" height="13.4" fill="#4DBBD5"/>
<rect x="254.92" y="423.1" width="1.35" height="13.4" fill="#4DBBD5"/>
<rect x="256.32" y="423.1" width="1.35" height="13.4" fill="#4DBBD5"/>
<rect x="257.72" y="423.1" width="1.35" height="13.4" fill="#4DBBD5"/>
<rect x="261.22" y="423.1" width="1.35" height="13.4" fill="#4DBBD5"/>
<rect x="264.62" y="423.1" width="1.35" height="13.4" fill="#4DBBD5"/>
<rect x="268.82" y="423.1" width="1.35" height="13.4" fill="#4DBBD5"/>
<rect x="271.62" y="423.1" width="1.35" height="13.4" fill="#4DBBD5"/>
<rect x="276.43" y="423.1" width="1.35" height="13.4" fill="#4DBBD5"/>
<rect x="288.22" y="423.1" width="1.35" height="13.4" fill="#4DBBD5"/>
<rect x="289.62" y="423.1" width="1.35" height="13.4" fill="#4DBBD5"/>
<rect x="293.12" y="423.1" width="1.35" height="13.4" fill="#4DBBD5"/>
<rect x="38.9" y="427.9" width="106" height="8.3" fill="#fff" fill-opacity="0.6"/>
<text x="39.2" y="435.15" font-size="7.7" text-anchor="start" font-weight="normal" fill="#222" stroke="#222" stroke-width="0.18" textLength="105" lengthAdjust="spacingAndGlyphs" >APOPTOSIS(ES=0.5529,NP=0.0000)</text>
<rect x="38.93" y="436.5" width="1.35" height="13.2" fill="#00A087"/>
<rect x="40.53" y="436.5" width="1.35" height="13.2" fill="#00A087"/>
<rect x="42.13" y="436.5" width="1.35" height="13.2" fill="#00A087"/>
<rect x="43.73" y="436.5" width="1.35" height="13.2" fill="#00A087"/>
<rect x="45.33" y="436.5" width="1.35" height="13.2" fill="#00A087"/>
<rect x="46.93" y="436.5" width="1.35" height="13.2" fill="#00A087"/>
<rect x="48.53" y="436.5" width="1.35" height="13.2" fill="#00A087"/>
<rect x="50.12" y="436.5" width="1.35" height="13.2" fill="#00A087"/>
<rect x="51.73" y="436.5" width="1.35" height="13.2" fill="#00A087"/>
<rect x="53.33" y="436.5" width="1.35" height="13.2" fill="#00A087"/>
<rect x="57.33" y="436.5" width="1.35" height="13.2" fill="#00A087"/>
<rect x="59.33" y="436.5" width="1.35" height="13.2" fill="#00A087"/>
<rect x="61.93" y="436.5" width="1.35" height="13.2" fill="#00A087"/>
<rect x="66.53" y="436.5" width="1.35" height="13.2" fill="#00A087"/>
<rect x="68.48" y="436.5" width="1.35" height="13.2" fill="#00A087"/>
<rect x="70.42" y="436.5" width="1.35" height="13.2" fill="#00A087"/>
<rect x="73.73" y="436.5" width="1.35" height="13.2" fill="#00A087"/>
<rect x="79.62" y="436.5" width="1.35" height="13.2" fill="#00A087"/>
<rect x="85.53" y="436.5" width="1.35" height="13.2" fill="#00A087"/>
<rect x="89.53" y="436.5" width="1.35" height="13.2" fill="#00A087"/>
<rect x="97.42" y="436.5" width="1.35" height="13.2" fill="#00A087"/>
<rect x="100.03" y="436.5" width="1.35" height="13.2" fill="#00A087"/>
<rect x="103.33" y="436.5" width="1.35" height="13.2" fill="#00A087"/>
<rect x="107.92" y="436.5" width="1.35" height="13.2" fill="#00A087"/>
<rect x="109.83" y="436.5" width="1.35" height="13.2" fill="#00A087"/>
<rect x="121.03" y="436.5" width="1.35" height="13.2" fill="#00A087"/>
<rect x="129.22" y="436.5" width="1.35" height="13.2" fill="#00A087"/>
<rect x="135.72" y="436.5" width="1.35" height="13.2" fill="#00A087"/>
<rect x="144.92" y="436.5" width="1.35" height="13.2" fill="#00A087"/>
<rect x="151.52" y="436.5" width="1.35" height="13.2" fill="#00A087"/>
<rect x="166.62" y="436.5" width="1.35" height="13.2" fill="#00A087"/>
<rect x="169.92" y="436.5" width="1.35" height="13.2" fill="#00A087"/>
<rect x="171.92" y="436.5" width="1.35" height="13.2" fill="#00A087"/>
<rect x="178.42" y="436.5" width="1.35" height="13.2" fill="#00A087"/>
<rect x="181.12" y="436.5" width="1.35" height="13.2" fill="#00A087"/>
<rect x="188.32" y="436.5" width="1.35" height="13.2" fill="#00A087"/>
<rect x="192.22" y="436.5" width="1.35" height="13.2" fill="#00A087"/>
<rect x="206.42" y="436.5" width="1.35" height="13.2" fill="#00A087"/>
<rect x="210.52" y="436.5" width="1.35" height="13.2" fill="#00A087"/>
<rect x="212.97" y="436.5" width="1.35" height="13.2" fill="#00A087"/>
<rect x="215.42" y="436.5" width="1.35" height="13.2" fill="#00A087"/>
<rect x="223.72" y="436.5" width="1.35" height="13.2" fill="#00A087"/>
<rect x="225.12" y="436.5" width="1.35" height="13.2" fill="#00A087"/>
<rect x="230.02" y="436.5" width="1.35" height="13.2" fill="#00A087"/>
<rect x="239.02" y="436.5" width="1.35" height="13.2" fill="#00A087"/>
<rect x="242.42" y="436.5" width="1.35" height="13.2" fill="#00A087"/>
<rect x="244.52" y="436.5" width="1.35" height="13.2" fill="#00A087"/>
<rect x="248.72" y="436.5" width="1.35" height="13.2" fill="#00A087"/>
<rect x="251.52" y="436.5" width="1.35" height="13.2" fill="#00A087"/>
<rect x="253.52" y="436.5" width="1.35" height="13.2" fill="#00A087"/>
<rect x="261.22" y="436.5" width="1.35" height="13.2" fill="#00A087"/>
<rect x="270" y="436.5" width="2" height="13.2" fill="#00A087"/>
<rect x="275.72" y="436.5" width="1.35" height="13.2" fill="#00A087"/>
<rect x="293.12" y="436.5" width="1.35" height="13.2" fill="#00A087"/>
<rect x="38.9" y="441.3" width="155.92" height="8.1" fill="#fff" fill-opacity="0.6"/>
<text x="39.2" y="448.35" font-size="7.7" text-anchor="start" font-weight="normal" fill="#222" stroke="#222" stroke-width="0.18" textLength="154.92" lengthAdjust="spacingAndGlyphs" >P53 SIGNALING PATHWAY(ES=0.4978,NP=0.0100)</text>
<line x1="33.5" y1="409.5" x2="299.6" y2="409.5" stroke="#333333" stroke-width="1.1" />
<line x1="33.5" y1="423.5" x2="299.6" y2="423.5" stroke="#333333" stroke-width="1.1" />
<line x1="33.5" y1="436.5" x2="299.6" y2="436.5" stroke="#333333" stroke-width="1.1" />
<line x1="33.5" y1="449.5" x2="299.6" y2="449.5" stroke="#333333" stroke-width="1.1" />
<line x1="33.5" y1="330.1" x2="33.5" y2="529.7" stroke="#333333" stroke-width="1.1" />
<line x1="299.5" y1="330.1" x2="299.5" y2="529.7" stroke="#333333" stroke-width="1.1" />
<line x1="33" y1="330.5" x2="300.1" y2="330.5" stroke="#333333" stroke-width="1.1" />
<line x1="33" y1="529.5" x2="300.1" y2="529.5" stroke="#333333" stroke-width="1.1" />
<line x1="30.2" y1="342.5" x2="33.5" y2="342.5" stroke="#333333" stroke-width="0.9" />
<text x="28.4" y="344.8" font-size="7.7" text-anchor="end" font-weight="normal" fill="#333" stroke="#333" stroke-width="0.18" textLength="8.88" lengthAdjust="spacingAndGlyphs" >0.5</text>
<line x1="30.2" y1="352.5" x2="33.5" y2="352.5" stroke="#333333" stroke-width="0.9" />
<text x="28.4" y="355.3" font-size="7.7" text-anchor="end" font-weight="normal" fill="#333" stroke="#333" stroke-width="0.18" textLength="8.88" lengthAdjust="spacingAndGlyphs" >0.4</text>
<line x1="30.2" y1="363.5" x2="33.5" y2="363.5" stroke="#333333" stroke-width="0.9" />
<text x="28.4" y="365.8" font-size="7.7" text-anchor="end" font-weight="normal" fill="#333" stroke="#333" stroke-width="0.18" textLength="8.88" lengthAdjust="spacingAndGlyphs" >0.3</text>
<line x1="30.2" y1="373.5" x2="33.5" y2="373.5" stroke="#333333" stroke-width="0.9" />
<text x="28.4" y="376.3" font-size="7.7" text-anchor="end" font-weight="normal" fill="#333" stroke="#333" stroke-width="0.18" textLength="8.88" lengthAdjust="spacingAndGlyphs" >0.2</text>
<line x1="30.2" y1="384.5" x2="33.5" y2="384.5" stroke="#333333" stroke-width="0.9" />
<text x="28.4" y="386.8" font-size="7.7" text-anchor="end" font-weight="normal" fill="#333" stroke="#333" stroke-width="0.18" textLength="8.88" lengthAdjust="spacingAndGlyphs" >0.1</text>
<line x1="30.2" y1="394.5" x2="33.5" y2="394.5" stroke="#333333" stroke-width="0.9" />
<text x="28.4" y="397.3" font-size="7.7" text-anchor="end" font-weight="normal" fill="#333" stroke="#333" stroke-width="0.18" textLength="8.88" lengthAdjust="spacingAndGlyphs" >0.0</text>
<line x1="30.2" y1="336.5" x2="33.5" y2="336.5" stroke="#333333" stroke-width="0.9" />
<line x1="30.2" y1="403.5" x2="33.5" y2="403.5" stroke="#333333" stroke-width="0.9" />
<line x1="30.2" y1="469.5" x2="33.5" y2="469.5" stroke="#333333" stroke-width="0.9" />
<text x="28.4" y="472" font-size="7.7" text-anchor="end" font-weight="normal" fill="#333" stroke="#333" stroke-width="0.18" textLength="8.88" lengthAdjust="spacingAndGlyphs" >1.0</text>
<line x1="30.2" y1="483.5" x2="33.5" y2="483.5" stroke="#333333" stroke-width="0.9" />
<text x="28.4" y="485.9" font-size="7.7" text-anchor="end" font-weight="normal" fill="#333" stroke="#333" stroke-width="0.18" textLength="8.88" lengthAdjust="spacingAndGlyphs" >0.5</text>
<line x1="30.2" y1="497.5" x2="33.5" y2="497.5" stroke="#333333" stroke-width="0.9" />
<text x="28.4" y="499.8" font-size="7.7" text-anchor="end" font-weight="normal" fill="#333" stroke="#333" stroke-width="0.18" textLength="8.88" lengthAdjust="spacingAndGlyphs" >0.0</text>
<line x1="30.2" y1="511.5" x2="33.5" y2="511.5" stroke="#333333" stroke-width="0.9" />
<text x="28.4" y="513.7" font-size="7.7" text-anchor="end" font-weight="normal" fill="#333" stroke="#333" stroke-width="0.18" textLength="12.88" lengthAdjust="spacingAndGlyphs" >−0.5</text>
<line x1="30.2" y1="456.5" x2="33.5" y2="456.5" stroke="#333333" stroke-width="0.9" />
<line x1="30.2" y1="523.5" x2="33.5" y2="523.5" stroke="#333333" stroke-width="0.9" />
<line x1="39.5" y1="529.2" x2="39.5" y2="532.2" stroke="#333333" stroke-width="0.9" />
<text x="39.35" y="541.1" font-size="7.7" text-anchor="middle" font-weight="normal" fill="#333" stroke="#333" stroke-width="0.18" textLength="3.44" lengthAdjust="spacingAndGlyphs" >0</text>
<line x1="93.5" y1="529.2" x2="93.5" y2="532.2" stroke="#333333" stroke-width="0.9" />
<text x="93.55" y="541.1" font-size="7.7" text-anchor="middle" font-weight="normal" fill="#333" stroke="#333" stroke-width="0.18" textLength="15.46" lengthAdjust="spacingAndGlyphs" >5,000</text>
<line x1="147.5" y1="529.2" x2="147.5" y2="532.2" stroke="#333333" stroke-width="0.9" />
<text x="147.75" y="541.1" font-size="7.7" text-anchor="middle" font-weight="normal" fill="#333" stroke="#333" stroke-width="0.18" textLength="18.89" lengthAdjust="spacingAndGlyphs" >10,000</text>
<line x1="201.5" y1="529.2" x2="201.5" y2="532.2" stroke="#333333" stroke-width="0.9" />
<text x="201.95" y="541.1" font-size="7.7" text-anchor="middle" font-weight="normal" fill="#333" stroke="#333" stroke-width="0.18" textLength="18.89" lengthAdjust="spacingAndGlyphs" >15,000</text>
<line x1="256.5" y1="529.2" x2="256.5" y2="532.2" stroke="#333333" stroke-width="0.9" />
<text x="256.15" y="541.1" font-size="7.7" text-anchor="middle" font-weight="normal" fill="#333" stroke="#333" stroke-width="0.18" textLength="18.89" lengthAdjust="spacingAndGlyphs" >20,000</text>
<line x1="293.5" y1="529.2" x2="293.5" y2="532.2" stroke="#333333" stroke-width="0.9" />
<text x="166.6" y="549.9" font-size="7.9" text-anchor="middle" font-weight="normal" fill="#222" stroke="#222" stroke-width="0.18" textLength="69.4" lengthAdjust="spacingAndGlyphs" >Rank in Ordered DataSet</text>
<text x="0" y="0" font-size="7.5" text-anchor="middle" font-weight="normal" fill="#222" stroke="#222" stroke-width="0.18" textLength="53.5" lengthAdjust="spacingAndGlyphs" transform="translate(17.1,370.15) rotate(-90)">Enrichment score</text>
<text x="0" y="0" font-size="7.5" text-anchor="middle" font-weight="normal" fill="#222" stroke="#222" stroke-width="0.18" textLength="52.6" lengthAdjust="spacingAndGlyphs" transform="translate(6.4,489.4) rotate(-90)">Ranked list metri</text>
<text x="0" y="0" font-size="7.5" text-anchor="middle" font-weight="normal" fill="#222" stroke="#222" stroke-width="0.18" transform="translate(13.6,489.6) rotate(-90)">c</text>
<text x="523.19" y="313.03" font-size="17.43" text-anchor="start" font-weight="bold" fill="#000" >MMP9</text>
<text x="377" y="311.5" font-size="32" text-anchor="start" font-weight="bold" fill="#000" >D</text>
<line x1="418" y1="348.5" x2="672.5" y2="348.5" stroke="#EBEBEB" stroke-width="0.7" />
<line x1="418" y1="362.5" x2="672.5" y2="362.5" stroke="#EBEBEB" stroke-width="0.7" />
<line x1="418" y1="376.5" x2="682.6" y2="376.5" stroke="#BBBBBB" stroke-width="0.8" stroke-dasharray="1,1"/>
<line x1="418" y1="390.5" x2="672.5" y2="390.5" stroke="#EBEBEB" stroke-width="0.7" />
<line x1="418" y1="456.5" x2="672.5" y2="456.5" stroke="#EBEBEB" stroke-width="0.7" />
<line x1="418" y1="474.5" x2="672.5" y2="474.5" stroke="#EBEBEB" stroke-width="0.7" />
<line x1="418" y1="491.5" x2="672.5" y2="491.5" stroke="#EBEBEB" stroke-width="0.7" />
<line x1="418" y1="508.5" x2="672.5" y2="508.5" stroke="#EBEBEB" stroke-width="0.7" />
<line x1="423.5" y1="330.6" x2="423.5" y2="409.7" stroke="#EBEBEB" stroke-width="0.7" />
<line x1="423.5" y1="449.7" x2="423.5" y2="529.2" stroke="#EBEBEB" stroke-width="0.7" />
<line x1="477.5" y1="330.6" x2="477.5" y2="409.7" stroke="#EBEBEB" stroke-width="0.7" />
<line x1="477.5" y1="449.7" x2="477.5" y2="529.2" stroke="#EBEBEB" stroke-width="0.7" />
<line x1="531.5" y1="330.6" x2="531.5" y2="409.7" stroke="#EBEBEB" stroke-width="0.7" />
<line x1="531.5" y1="449.7" x2="531.5" y2="529.2" stroke="#EBEBEB" stroke-width="0.7" />
<line x1="585.5" y1="330.6" x2="585.5" y2="409.7" stroke="#EBEBEB" stroke-width="0.7" />
<line x1="585.5" y1="449.7" x2="585.5" y2="529.2" stroke="#EBEBEB" stroke-width="0.7" />
<line x1="640.5" y1="330.6" x2="640.5" y2="409.7" stroke="#EBEBEB" stroke-width="0.7" />
<line x1="640.5" y1="449.7" x2="640.5" y2="529.2" stroke="#EBEBEB" stroke-width="0.7" />
<path d="M422.95,491.4 L422.95,456.45 L423.08,456.5 L423.21,456.62 L423.34,456.79 L423.47,457.02 L423.6,457.27 L423.73,457.53 L423.87,457.94 L424,458.53 L424.13,459.26 L424.26,460.09 L424.39,461 L424.52,461.93 L424.65,462.85 L424.78,463.71 L424.91,464.49 L425.04,465.14 L425.17,465.62 L425.3,465.91 L425.44,466.17 L425.57,466.41 L425.7,466.65 L425.83,466.88 L425.96,467.1 L426.09,467.31 L426.22,467.52 L426.35,467.72 L426.48,467.91 L426.61,468.09 L426.74,468.27 L426.87,468.44 L427,468.6 L427.14,468.76 L427.27,468.92 L427.4,469.06 L427.53,469.21 L427.66,469.34 L427.79,469.48 L427.92,469.6 L428.05,469.73 L428.05,469.73 L430.11,471.3 L432.17,472.78 L434.22,474.22 L436.28,475.49 L438.34,476.64 L440.4,477.72 L442.45,478.79 L444.51,479.84 L446.57,480.83 L448.63,481.72 L450.68,482.46 L452.74,483.06 L454.8,483.6 L456.86,484.11 L458.91,484.6 L460.97,485.05 L463.03,485.47 L465.09,485.87 L467.14,486.23 L469.2,486.57 L471.26,486.88 L473.32,487.17 L475.37,487.43 L477.43,487.66 L479.49,487.88 L481.55,488.08 L483.6,488.28 L485.66,488.47 L487.72,488.65 L489.78,488.82 L491.83,488.98 L493.89,489.13 L495.95,489.28 L498.01,489.41 L500.07,489.54 L502.12,489.66 L504.18,489.76 L506.24,489.86 L508.3,489.95 L510.35,490.03 L512.41,490.1 L514.47,490.16 L516.53,490.21 L518.58,490.26 L520.64,490.31 L522.7,490.37 L524.76,490.42 L526.81,490.49 L528.87,490.56 L530.93,490.63 L532.99,490.7 L535.04,490.77 L537.1,490.85 L539.16,490.92 L541.22,491 L543.27,491.09 L545.33,491.17 L547.39,491.26 L549.45,491.35 L551.5,491.45 L553.56,491.55 L555.62,491.66 L557.68,491.77 L559.73,491.89 L561.79,492.01 L563.85,492.14 L565.91,492.27 L567.96,492.4 L570.02,492.54 L572.08,492.68 L574.14,492.82 L576.19,492.97 L578.25,493.12 L580.31,493.28 L582.37,493.43 L584.42,493.59 L586.48,493.75 L588.54,493.91 L590.6,494.07 L592.65,494.23 L594.71,494.4 L596.77,494.56 L598.83,494.73 L600.88,494.89 L602.94,495.07 L605,495.24 L607.06,495.42 L609.12,495.61 L611.17,495.8 L613.23,496 L615.29,496.2 L617.35,496.41 L619.4,496.63 L621.46,496.84 L623.52,497.06 L625.58,497.28 L627.63,497.52 L629.69,497.76 L631.75,498.03 L633.81,498.31 L635.86,498.61 L637.92,498.94 L639.98,499.3 L642.04,499.7 L644.09,500.19 L646.15,500.75 L648.21,501.37 L650.27,502.04 L652.32,502.73 L654.38,503.45 L656.44,504.23 L658.5,505.08 L660.55,506.03 L662.61,507.1 L664.67,508.37 L666.73,509.87 L668.78,511.53 L670.84,513.27 L672.9,515.2 L672.9,515.2 L673.03,515.33 L673.16,515.47 L673.29,515.6 L673.42,515.74 L673.55,515.88 L673.68,516.02 L673.81,516.17 L673.95,516.31 L674.08,516.46 L674.21,516.61 L674.34,516.76 L674.47,516.91 L674.6,517.07 L674.73,517.23 L674.86,517.39 L674.99,517.55 L675.12,517.72 L675.25,517.9 L675.38,518.07 L675.51,518.26 L675.65,518.45 L675.78,518.64 L675.91,518.83 L676.04,519.04 L676.17,519.24 L676.3,519.45 L676.43,519.66 L676.56,519.87 L676.69,520.09 L676.82,520.31 L676.95,520.54 L677.08,520.76 L677.22,520.99 L677.35,521.22 L677.48,521.45 L677.61,521.69 L677.74,521.93 L677.87,522.16 L678,522.4 L678,491.4 Z" fill="#EFC000"/>
<text x="426.4" y="462.8" font-size="7.4" text-anchor="start" font-weight="normal" fill="#222" stroke="#222" stroke-width="0.18" >H</text>
<text x="674.3" y="523.2" font-size="7.4" text-anchor="end" font-weight="normal" fill="#222" stroke="#222" stroke-width="0.18" >L</text>
<polyline points="423.3,376.5 425.4,366.9 426.2,365.55 426.2,365.05 427.5,362.86 427.5,362.36 428.6,360.5 430.1,356.94 430.1,356.44 431.8,352.4 432.7,351.89 432.7,351.49 434,350.74 434,350.34 435.3,349.6 435.3,349.2 436.6,348.46 436.6,348.06 437.4,347.6 437.9,347.54 437.9,347.22 439.2,347.06 439.2,346.74 440.5,346.58 440.5,346.26 442,346.07 442,345.75 443.3,345.59 443.3,345.27 443.9,345.2 444.6,345.2 444.6,344.88 445.9,344.88 445.9,344.56 447.2,344.56 447.2,344.24 448.5,344.24 448.5,343.92 449.8,343.92 449.8,343.6 450.3,343.6 451.1,343.77 451.1,343.27 452.4,343.54 452.4,343.04 453.7,343.31 453.7,342.81 455.1,343.1 457.1,343.67 457.1,343.44 458.4,343.81 458.4,343.58 459.7,343.95 459.7,343.72 461.7,344.28 461.7,344.05 463,344.42 463,344.19 464.3,344.56 464.3,344.33 465.6,344.7 465.6,344.47 466.4,344.7 467.6,345.03 467.6,344.85 468.9,345.2 468.9,345.02 470.2,345.38 470.2,345.2 471.5,345.55 471.5,345.38 472.8,345.73 472.8,345.55 474.1,345.91 474.1,345.73 475.4,346.08 475.4,345.9 476.7,346.26 476.7,346.08 478,346.43 478,346.26 480,346.8 482.1,347.25 482.1,347.2 483.4,347.47 483.4,347.42 484.7,347.7 484.7,347.65 486.7,348.08 486.7,348.03 488,348.3 488,348.25 489.3,348.53 489.3,348.48 490.6,348.76 490.6,348.71 491.9,348.98 491.9,348.94 493.2,349.21 493.2,349.16 494.5,349.44 494.5,349.39 495.8,349.67 495.8,349.62 497.1,349.89 497.1,349.85 499.8,350.42 499.8,350.37 501.1,350.65 501.1,350.6 502.4,350.87 502.4,350.82 505.7,351.52 505.7,351.48 507,351.75 507,351.7 508.3,351.98 508.3,351.93 509.6,352.21 509.6,352.16 510.9,352.43 510.9,352.38 512.2,352.66 512.2,352.61 514.5,353.1 514.5,353.05 515.8,353.33 515.8,353.28 517.1,353.55 517.1,353.51 518.4,353.78 518.4,353.73 519.7,354.01 519.7,353.96 521,354.24 521,354.19 522.3,354.46 522.3,354.42 524.4,354.86 524.4,354.81 525.7,355.09 525.7,355.04 529,355.74 529,355.69 530.3,355.97 530.3,355.92 531.6,356.19 531.6,356.15 532.8,356.4 535.5,357.11 535.5,357.07 536.8,357.41 536.8,357.37 538.1,357.71 538.1,357.66 539.4,358.01 539.4,357.96 540.7,358.31 540.7,358.26 542,358.61 542,358.56 543.3,358.9 543.3,358.86 544.6,359.2 544.6,359.16 545.9,359.5 545.9,359.45 548,360.01 548,359.96 549.3,360.31 549.3,360.26 550.6,360.61 550.6,360.56 551.9,360.9 551.9,360.86 553.2,361.2 553.2,361.16 554.5,361.5 554.5,361.45 557.2,362.17 557.2,362.12 558.5,362.47 558.5,362.42 559.8,362.77 559.8,362.72 561.1,363.06 561.1,363.02 562.4,363.36 562.4,363.32 563.7,363.66 563.7,363.61 565,363.96 565,363.91 568.4,364.81 568.4,364.77 569.7,365.11 569.7,365.06 571,365.41 571,365.36 573,365.89 573,365.85 574.3,366.19 574.3,366.14 575.6,366.49 575.6,366.44 576.9,366.79 576.9,366.74 578.2,367.08 578.2,367.04 579.5,367.38 579.5,367.34 580.8,367.68 580.8,367.64 582.1,367.98 582.1,367.93 584.1,368.46 584.1,368.42 585.4,368.76 585.4,368.71 586.1,368.9 586.7,369.1 586.7,369.02 588.7,369.7 588.7,369.62 590,370.06 590,369.98 591.3,370.42 591.3,370.34 592.5,370.74 592.5,370.66 593.8,371.1 593.8,371.02 595.1,371.46 595.1,371.38 596.4,371.82 596.4,371.74 597.7,372.18 597.7,372.1 602.2,373.62 602.2,373.54 603.5,373.98 603.5,373.9 604.8,374.34 604.8,374.26 606.1,374.7 606.1,374.62 608.4,375.4 608.4,375.32 609.7,375.76 609.7,375.68 611,376.12 611,376.04 612.6,376.58 612.6,376.5 613.9,376.94 613.9,376.86 615.2,377.3 615.2,377.22 620.2,378.91 620.2,378.83 620.7,379 621.5,379.2 621.5,379.04 622.8,379.36 622.8,379.2 624.1,379.53 624.1,379.37 627.1,380.12 627.1,379.96 628.4,380.29 628.4,380.12 629.7,380.45 629.7,380.29 632,380.87 632,380.7 636.2,381.75 636.2,381.59 637.5,381.92 637.5,381.76 638.8,382.09 638.8,381.93 639.5,382.1 640.1,382.12 640.1,381.92 641.4,381.96 641.4,381.76 642.7,381.8 642.7,381.6 645.2,381.68 645.2,381.48 646.5,381.52 646.5,381.32 647.8,381.37 647.8,381.17 649.1,381.21 649.1,381.01 650.4,381.05 650.4,380.85 652,380.9 653,380.83 653,380.6 654.3,380.51 654.3,380.28 655.6,380.19 655.6,379.96 656.9,379.86 656.9,379.64 658.2,379.54 658.2,379.31 659,379.26 659,379.03 660.3,378.94 660.3,378.71 664.6,378.4 665.9,378.28 665.9,378.02 667.2,377.9 667.2,377.63 670.1,377.37 670.1,377.1 671.4,376.98 671.4,376.72 672.7,376.6 672.7,376.33 675,376.12 675,375.85 675.6,375.8" fill="none" stroke="#E64B35" stroke-width="1.3" stroke-linejoin="round" stroke-linecap="round"/>
<polyline points="423.3,376.5 424.86,376.04 424.86,375.54 427,374.9 428.57,372.15 428.57,371.65 430.43,368.4 430.43,367.9 431,366.9 432.29,366.46 432.29,365.96 434.2,365.3 435.8,364.5 440.7,365.5 440.7,365 442.6,365.38 442.6,364.88 444,365.17 444,364.67 447.1,365.3 447.9,365.55 447.9,365.15 449.2,365.56 449.2,365.16 451.8,365.97 451.8,365.57 455.1,366.6 455.1,366.2 459.9,367.7 461.7,368.22 461.7,367.72 464.3,368.46 464.3,367.96 470,369.6 471.25,369.88 471.25,369.72 472.9,370.09 472.9,369.93 476.8,370.8 476.8,370.64 480.8,371.53 480.8,371.37 482.77,371.81 482.77,371.65 484.73,372.09 484.73,371.93 486.7,372.37 486.7,372.21 488.67,372.64 488.67,372.48 490.63,372.92 490.63,372.76 492.6,373.2 492.6,373.04 495.1,373.6 496.5,374.01 496.5,373.85 501.1,375.21 501.1,375.05 505.3,376.28 505.3,376.12 509.3,377.3 509.3,377.14 518.5,379.85 518.5,379.69 521.7,380.63 521.7,380.47 523,380.85 523,380.69 525.7,381.49 525.7,381.33 530.3,382.68 530.3,382.52 531.6,382.91 531.6,382.75 532.8,383.1 534.9,383.73 534.9,383.57 543.4,386.11 543.4,385.95 544.93,386.41 544.93,386.25 546.47,386.71 546.47,386.55 548,387.01 548,386.85 549.53,387.31 549.53,387.15 551.07,387.61 551.07,387.45 552.6,387.91 552.6,387.75 560.5,390.11 560.5,389.95 562.5,390.55 562.5,390.39 564.2,390.9 569.7,392.51 569.7,392.36 572.3,393.12 572.3,392.98 575.6,393.94 575.6,393.8 580.2,395.14 580.2,395 582.8,395.76 582.8,395.61 586.8,396.78 586.8,396.64 590.4,397.69 590.4,397.55 592.47,398.15 592.47,398.01 594.53,398.61 594.53,398.47 596.6,399.07 596.6,398.92 600.1,399.95 600.1,399.8 601.8,400.3 602.7,400.45 602.7,400.22 604,400.44 604,400.22 605.3,400.44 605.3,400.21 615.4,401.92 615.4,401.69 616.89,401.94 616.89,401.71 618.37,401.96 618.37,401.73 619.86,401.99 619.86,401.76 620.7,401.9 621.34,402 621.34,401.8 622.83,402.04 622.83,401.84 624.31,402.08 624.31,401.88 625.8,402.11 625.8,401.91 627.1,402.12 627.1,401.92 629.2,402.25 629.2,402.05 632,402.5 632,402.3 634.8,402.75 634.8,402.55 636.4,402.8 636.9,402.72 636.9,402.56 638.45,402.32 638.45,402.16 640,401.93 640,401.77 641.55,401.53 641.55,401.37 643.1,401.13 643.1,400.97 644.5,400.75 644.5,400.59 645.9,400.38 645.9,400.22 647.3,400 647.3,399.84 649.13,399.56 649.13,399.4 650.97,399.12 650.97,398.96 652,398.8 652.8,398.4 652.8,398.2 654.9,397.15 654.9,396.95 656.25,396.28 656.25,396.08 657.59,395.4 657.59,395.2 658.94,394.53 658.94,394.33 660.29,393.66 660.29,393.46 661.64,392.78 661.64,392.58 662.98,391.91 662.98,391.71 664.6,390.9 665.68,389.82 665.68,389.5 667.02,388.16 667.02,387.84 668.37,386.49 668.37,386.17 669.72,384.82 669.72,384.5 671.06,383.16 671.06,382.84 672.4,381.5 673.76,380.31 673.76,379.81 675.11,378.63 675.11,378.13 676.45,376.95 676.45,376.45 677.2,375.8" fill="none" stroke="#00A087" stroke-width="1.3" stroke-linejoin="round" stroke-linecap="round"/>
<polyline points="423.3,376.5 424.6,365.3 427,362.1 427.46,360.85 427.46,360.35 428.95,356.31 428.95,355.81 430.2,352.4 431.92,349.73 431.92,349.23 433.41,346.93 433.41,346.43 434.2,345.2 434.89,344.94 434.89,344.54 436.38,344 436.38,343.6 437.87,343.05 437.87,342.65 439.35,342.1 439.35,341.7 440.7,341.2 442.33,340.97 442.33,340.47 443.81,340.26 443.81,339.76 445.3,339.55 445.3,339.05 447.1,338.8 450.5,338.62 450.5,338.22 452.15,338.14 452.15,337.74 453.8,337.65 453.8,337.25 455.45,337.17 455.45,336.77 456.7,336.7 457.1,336.81 457.1,336.31 466.4,338.8 468.9,339.36 468.9,338.86 470,339.1 470.9,339.5 470.9,339 472.9,339.88 472.9,339.38 476.8,341.09 476.8,340.59 480,342 495.9,345.4 495.9,345.17 503.1,346.72 503.1,346.49 515.2,349.08 515.2,348.85 516.5,349.13 516.5,348.9 521.1,349.88 521.1,349.65 525,350.49 525,350.26 530.3,351.39 530.3,351.16 532.8,351.7 548.7,356.38 548.7,356.15 553.9,357.69 553.9,357.46 561.2,359.61 561.2,359.38 569,361.68 569,361.45 574.3,363.01 574.3,362.78 579.5,364.31 579.5,364.08 584.8,365.65 584.8,365.42 586.1,365.8 589.7,367.22 589.7,366.72 611.2,375.17 611.2,374.67 620.7,378.4 623.7,378.75 623.7,378.52 626,378.79 626,378.56 628.3,378.83 628.3,378.6 630.6,378.87 630.6,378.64 635.5,379.22 635.5,378.99 637.12,379.18 637.12,378.95 638.73,379.14 638.73,378.91 639.5,379 640.35,378.88 640.35,378.56 641.97,378.32 641.97,378 643.58,377.77 643.58,377.45 645.2,377.21 645.2,376.89 650,376.19 650,375.87 650.5,375.8 656.3,375.73 656.3,375.23 658.3,375.2 658.7,375.25 658.7,374.85 661.1,375.16 661.1,374.76 670.8,375.99 670.8,375.59 675,376.12 675,375.72 675.6,375.8" fill="none" stroke="#4DBBD5" stroke-width="1.3" stroke-linejoin="round" stroke-linecap="round"/>
<rect x="422" y="409.7" width="18" height="13.4" fill="#E64B35"/>
<rect x="442" y="409.7" width="8" height="13.4" fill="#E64B35"/>
<rect x="451" y="409.7" width="5" height="13.4" fill="#E64B35"/>
<rect x="457" y="409.7" width="3" height="13.4" fill="#E64B35"/>
<rect x="461" y="409.7" width="18" height="13.4" fill="#E64B35"/>
<rect x="482" y="409.7" width="3" height="13.4" fill="#E64B35"/>
<rect x="486" y="409.7" width="10" height="13.4" fill="#E64B35"/>
<rect x="497" y="409.7" width="1" height="13.4" fill="#E64B35"/>
<rect x="499" y="409.7" width="5" height="13.4" fill="#E64B35"/>
<rect x="505" y="409.7" width="8" height="13.4" fill="#E64B35"/>
<rect x="514" y="409.7" width="8" height="13.4" fill="#E64B35"/>
<rect x="524" y="409.7" width="3" height="13.4" fill="#E64B35"/>
<rect x="528" y="409.7" width="2" height="13.4" fill="#E64B35"/>
<rect x="531" y="409.7" width="1" height="13.4" fill="#E64B35"/>
<rect x="533" y="409.7" width="1" height="13.4" fill="#E64B35"/>
<rect x="535" y="409.7" width="2" height="13.4" fill="#E64B35"/>
<rect x="538" y="409.7" width="4" height="13.4" fill="#E64B35"/>
<rect x="543" y="409.7" width="3" height="13.4" fill="#E64B35"/>
<rect x="548" y="409.7" width="7" height="13.4" fill="#E64B35"/>
<rect x="557" y="409.7" width="9" height="13.4" fill="#E64B35"/>
<rect x="568" y="409.7" width="2" height="13.4" fill="#E64B35"/>
<rect x="572" y="409.7" width="7" height="13.4" fill="#E64B35"/>
<rect x="580" y="409.7" width="3" height="13.4" fill="#E64B35"/>
<rect x="584" y="409.7" width="3" height="13.4" fill="#E64B35"/>
<rect x="588" y="409.7" width="5" height="13.4" fill="#E64B35"/>
<rect x="594" y="409.7" width="5" height="13.4" fill="#E64B35"/>
<rect x="602" y="409.7" width="5" height="13.4" fill="#E64B35"/>
<rect x="608" y="409.7" width="8" height="13.4" fill="#E64B35"/>
<rect x="620" y="409.7" width="1" height="13.4" fill="#E64B35"/>
<rect x="622" y="409.7" width="1" height="13.4" fill="#E64B35"/>
<rect x="624" y="409.7" width="2" height="13.4" fill="#E64B35"/>
<rect x="627" y="409.7" width="3" height="13.4" fill="#E64B35"/>
<rect x="631.33" y="409.7" width="1.35" height="13.4" fill="#E64B35"/>
<rect x="636" y="409.7" width="8" height="13.4" fill="#E64B35"/>
<rect x="645" y="409.7" width="11" height="13.4" fill="#E64B35"/>
<rect x="658" y="409.7" width="4" height="13.4" fill="#E64B35"/>
<rect x="664" y="409.7" width="5" height="13.4" fill="#E64B35"/>
<rect x="670" y="409.7" width="3" height="13.4" fill="#E64B35"/>
<rect x="674" y="409.7" width="4" height="13.4" fill="#E64B35"/>
<rect x="422.9" y="414.5" width="165.07" height="8.3" fill="#fff" fill-opacity="0.6"/>
<text x="423.2" y="421.75" font-size="7.7" text-anchor="start" font-weight="normal" fill="#222" stroke="#222" stroke-width="0.18" textLength="164.07" lengthAdjust="spacingAndGlyphs" >MAPK SIGNALING PATHWAY(ES=0.4717,NP=0.0000)</text>
<rect x="422.32" y="423.1" width="1.35" height="13.4" fill="#4DBBD5"/>
<rect x="423.81" y="423.1" width="1.35" height="13.4" fill="#4DBBD5"/>
<rect x="425.3" y="423.1" width="1.35" height="13.4" fill="#4DBBD5"/>
<rect x="426.78" y="423.1" width="1.35" height="13.4" fill="#4DBBD5"/>
<rect x="428.27" y="423.1" width="1.35" height="13.4" fill="#4DBBD5"/>
<rect x="429.76" y="423.1" width="1.35" height="13.4" fill="#4DBBD5"/>
<rect x="431.25" y="423.1" width="1.35" height="13.4" fill="#4DBBD5"/>
<rect x="432.73" y="423.1" width="1.35" height="13.4" fill="#4DBBD5"/>
<rect x="434.22" y="423.1" width="1.35" height="13.4" fill="#4DBBD5"/>
<rect x="435.7" y="423.1" width="1.35" height="13.4" fill="#4DBBD5"/>
<rect x="437.19" y="423.1" width="1.35" height="13.4" fill="#4DBBD5"/>
<rect x="438.68" y="423.1" width="1.35" height="13.4" fill="#4DBBD5"/>
<rect x="440.17" y="423.1" width="1.35" height="13.4" fill="#4DBBD5"/>
<rect x="441.65" y="423.1" width="1.35" height="13.4" fill="#4DBBD5"/>
<rect x="443.14" y="423.1" width="1.35" height="13.4" fill="#4DBBD5"/>
<rect x="444.62" y="423.1" width="1.35" height="13.4" fill="#4DBBD5"/>
<rect x="449.82" y="423.1" width="1.35" height="13.4" fill="#4DBBD5"/>
<rect x="451.47" y="423.1" width="1.35" height="13.4" fill="#4DBBD5"/>
<rect x="453.12" y="423.1" width="1.35" height="13.4" fill="#4DBBD5"/>
<rect x="454.78" y="423.1" width="1.35" height="13.4" fill="#4DBBD5"/>
<rect x="456.43" y="423.1" width="1.35" height="13.4" fill="#4DBBD5"/>
<rect x="468.22" y="423.1" width="1.35" height="13.4" fill="#4DBBD5"/>
<rect x="470.22" y="423.1" width="1.35" height="13.4" fill="#4DBBD5"/>
<rect x="472.22" y="423.1" width="1.35" height="13.4" fill="#4DBBD5"/>
<rect x="476.12" y="423.1" width="1.35" height="13.4" fill="#4DBBD5"/>
<rect x="495.22" y="423.1" width="1.35" height="13.4" fill="#4DBBD5"/>
<rect x="502.43" y="423.1" width="1.35" height="13.4" fill="#4DBBD5"/>
<rect x="514.53" y="423.1" width="2.65" height="13.4" fill="#4DBBD5"/>
<rect x="520.43" y="423.1" width="1.35" height="13.4" fill="#4DBBD5"/>
<rect x="524.33" y="423.1" width="1.35" height="13.4" fill="#4DBBD5"/>
<rect x="529.62" y="423.1" width="1.35" height="13.4" fill="#4DBBD5"/>
<rect x="548.03" y="423.1" width="1.35" height="13.4" fill="#4DBBD5"/>
<rect x="553.23" y="423.1" width="1.35" height="13.4" fill="#4DBBD5"/>
<rect x="560.53" y="423.1" width="1.35" height="13.4" fill="#4DBBD5"/>
<rect x="568.33" y="423.1" width="1.35" height="13.4" fill="#4DBBD5"/>
<rect x="573.62" y="423.1" width="1.35" height="13.4" fill="#4DBBD5"/>
<rect x="578.83" y="423.1" width="1.35" height="13.4" fill="#4DBBD5"/>
<rect x="584.12" y="423.1" width="2.65" height="13.4" fill="#4DBBD5"/>
<rect x="589.03" y="423.1" width="1.35" height="13.4" fill="#4DBBD5"/>
<rect x="610.53" y="423.1" width="1.35" height="13.4" fill="#4DBBD5"/>
<rect x="623.03" y="423.1" width="1.35" height="13.4" fill="#4DBBD5"/>
<rect x="625.33" y="423.1" width="1.35" height="13.4" fill="#4DBBD5"/>
<rect x="627.63" y="423.1" width="1.35" height="13.4" fill="#4DBBD5"/>
<rect x="629.93" y="423.1" width="1.35" height="13.4" fill="#4DBBD5"/>
<rect x="634.83" y="423.1" width="1.35" height="13.4" fill="#4DBBD5"/>
<rect x="636.44" y="423.1" width="1.35" height="13.4" fill="#4DBBD5"/>
<rect x="638.06" y="423.1" width="1.35" height="13.4" fill="#4DBBD5"/>
<rect x="639.68" y="423.1" width="1.35" height="13.4" fill="#4DBBD5"/>
<rect x="641.29" y="423.1" width="1.35" height="13.4" fill="#4DBBD5"/>
<rect x="642.91" y="423.1" width="1.35" height="13.4" fill="#4DBBD5"/>
<rect x="644.53" y="423.1" width="1.35" height="13.4" fill="#4DBBD5"/>
<rect x="649.33" y="423.1" width="1.35" height="13.4" fill="#4DBBD5"/>
<rect x="655.62" y="423.1" width="1.35" height="13.4" fill="#4DBBD5"/>
<rect x="658.03" y="423.1" width="1.35" height="13.4" fill="#4DBBD5"/>
<rect x="660.43" y="423.1" width="1.35" height="13.4" fill="#4DBBD5"/>
<rect x="670.12" y="423.1" width="1.35" height="13.4" fill="#4DBBD5"/>
<rect x="674.33" y="423.1" width="1.35" height="13.4" fill="#4DBBD5"/>
<rect x="677.12" y="423.1" width="1.35" height="13.4" fill="#4DBBD5"/>
<rect x="422.9" y="427.9" width="106" height="8.3" fill="#fff" fill-opacity="0.6"/>
<text x="423.2" y="435.15" font-size="7.7" text-anchor="start" font-weight="normal" fill="#222" stroke="#222" stroke-width="0.18" textLength="105" lengthAdjust="spacingAndGlyphs" >APOPTOSIS(ES=0.5645,NP=0.0000)</text>
<rect x="422.32" y="436.5" width="1.35" height="13.2" fill="#00A087"/>
<rect x="424.18" y="436.5" width="1.35" height="13.2" fill="#00A087"/>
<rect x="426.04" y="436.5" width="1.35" height="13.2" fill="#00A087"/>
<rect x="427.9" y="436.5" width="1.35" height="13.2" fill="#00A087"/>
<rect x="429.75" y="436.5" width="1.35" height="13.2" fill="#00A087"/>
<rect x="431.61" y="436.5" width="1.35" height="13.2" fill="#00A087"/>
<rect x="433.47" y="436.5" width="1.35" height="13.2" fill="#00A087"/>
<rect x="435.32" y="436.5" width="1.35" height="13.2" fill="#00A087"/>
<rect x="440.02" y="436.5" width="1.35" height="13.2" fill="#00A087"/>
<rect x="441.93" y="436.5" width="1.35" height="13.2" fill="#00A087"/>
<rect x="443.32" y="436.5" width="1.35" height="13.2" fill="#00A087"/>
<rect x="447.22" y="436.5" width="2.65" height="13.2" fill="#00A087"/>
<rect x="451.12" y="436.5" width="1.35" height="13.2" fill="#00A087"/>
<rect x="454.43" y="436.5" width="1.35" height="13.2" fill="#00A087"/>
<rect x="461.02" y="436.5" width="1.35" height="13.2" fill="#00A087"/>
<rect x="463.62" y="436.5" width="1.35" height="13.2" fill="#00A087"/>
<rect x="468.93" y="436.5" width="1.35" height="13.2" fill="#00A087"/>
<rect x="470.57" y="436.5" width="1.35" height="13.2" fill="#00A087"/>
<rect x="472.22" y="436.5" width="1.35" height="13.2" fill="#00A087"/>
<rect x="476.12" y="436.5" width="1.35" height="13.2" fill="#00A087"/>
<rect x="480.12" y="436.5" width="1.35" height="13.2" fill="#00A087"/>
<rect x="482.09" y="436.5" width="1.35" height="13.2" fill="#00A087"/>
<rect x="484.06" y="436.5" width="1.35" height="13.2" fill="#00A087"/>
<rect x="486.03" y="436.5" width="1.35" height="13.2" fill="#00A087"/>
<rect x="487.99" y="436.5" width="1.35" height="13.2" fill="#00A087"/>
<rect x="489.96" y="436.5" width="1.35" height="13.2" fill="#00A087"/>
<rect x="491.93" y="436.5" width="1.35" height="13.2" fill="#00A087"/>
<rect x="495.82" y="436.5" width="1.35" height="13.2" fill="#00A087"/>
<rect x="500.43" y="436.5" width="1.35" height="13.2" fill="#00A087"/>
<rect x="504.62" y="436.5" width="1.35" height="13.2" fill="#00A087"/>
<rect x="508.62" y="436.5" width="1.35" height="13.2" fill="#00A087"/>
<rect x="517.83" y="436.5" width="1.35" height="13.2" fill="#00A087"/>
<rect x="521.03" y="436.5" width="2.65" height="13.2" fill="#00A087"/>
<rect x="525.03" y="436.5" width="1.35" height="13.2" fill="#00A087"/>
<rect x="529.62" y="436.5" width="2.65" height="13.2" fill="#00A087"/>
<rect x="534.23" y="436.5" width="1.35" height="13.2" fill="#00A087"/>
<rect x="542.73" y="436.5" width="1.35" height="13.2" fill="#00A087"/>
<rect x="544.26" y="436.5" width="1.35" height="13.2" fill="#00A087"/>
<rect x="545.79" y="436.5" width="1.35" height="13.2" fill="#00A087"/>
<rect x="547.33" y="436.5" width="1.35" height="13.2" fill="#00A087"/>
<rect x="548.86" y="436.5" width="1.35" height="13.2" fill="#00A087"/>
<rect x="550.39" y="436.5" width="1.35" height="13.2" fill="#00A087"/>
<rect x="551.93" y="436.5" width="1.35" height="13.2" fill="#00A087"/>
<rect x="559.83" y="436.5" width="1.35" height="13.2" fill="#00A087"/>
<rect x="561.83" y="436.5" width="1.35" height="13.2" fill="#00A087"/>
<rect x="569.03" y="436.5" width="1.35" height="13.2" fill="#00A087"/>
<rect x="571.62" y="436.5" width="1.35" height="13.2" fill="#00A087"/>
<rect x="574.93" y="436.5" width="1.35" height="13.2" fill="#00A087"/>
<rect x="579.53" y="436.5" width="1.35" height="13.2" fill="#00A087"/>
<rect x="582.12" y="436.5" width="1.35" height="13.2" fill="#00A087"/>
<rect x="586.12" y="436.5" width="1.35" height="13.2" fill="#00A087"/>
<rect x="589.73" y="436.5" width="1.35" height="13.2" fill="#00A087"/>
<rect x="591.79" y="436.5" width="1.35" height="13.2" fill="#00A087"/>
<rect x="593.86" y="436.5" width="1.35" height="13.2" fill="#00A087"/>
<rect x="595.93" y="436.5" width="1.35" height="13.2" fill="#00A087"/>
<rect x="600" y="436.5" width="6" height="13.2" fill="#00A087"/>
<rect x="614.73" y="436.5" width="1.35" height="13.2" fill="#00A087"/>
<rect x="616.21" y="436.5" width="1.35" height="13.2" fill="#00A087"/>
<rect x="617.7" y="436.5" width="1.35" height="13.2" fill="#00A087"/>
<rect x="619.18" y="436.5" width="1.35" height="13.2" fill="#00A087"/>
<rect x="620.67" y="436.5" width="1.35" height="13.2" fill="#00A087"/>
<rect x="622.15" y="436.5" width="1.35" height="13.2" fill="#00A087"/>
<rect x="623.64" y="436.5" width="1.35" height="13.2" fill="#00A087"/>
<rect x="625.12" y="436.5" width="2.65" height="13.2" fill="#00A087"/>
<rect x="628.53" y="436.5" width="1.35" height="13.2" fill="#00A087"/>
<rect x="631.33" y="436.5" width="1.35" height="13.2" fill="#00A087"/>
<rect x="634.12" y="436.5" width="1.35" height="13.2" fill="#00A087"/>
<rect x="636.23" y="436.5" width="1.35" height="13.2" fill="#00A087"/>
<rect x="637.78" y="436.5" width="1.35" height="13.2" fill="#00A087"/>
<rect x="639.33" y="436.5" width="1.35" height="13.2" fill="#00A087"/>
<rect x="640.88" y="436.5" width="1.35" height="13.2" fill="#00A087"/>
<rect x="642.43" y="436.5" width="1.35" height="13.2" fill="#00A087"/>
<rect x="643.83" y="436.5" width="1.35" height="13.2" fill="#00A087"/>
<rect x="645.23" y="436.5" width="1.35" height="13.2" fill="#00A087"/>
<rect x="646.62" y="436.5" width="1.35" height="13.2" fill="#00A087"/>
<rect x="648.46" y="436.5" width="1.35" height="13.2" fill="#00A087"/>
<rect x="650.29" y="436.5" width="1.35" height="13.2" fill="#00A087"/>
<rect x="652.12" y="436.5" width="1.35" height="13.2" fill="#00A087"/>
<rect x="654.23" y="436.5" width="24.25" height="13.2" fill="#00A087"/>
<rect x="422.9" y="441.3" width="114.87" height="8.1" fill="#fff" fill-opacity="0.6"/>
<text x="423.2" y="448.35" font-size="7.7" text-anchor="start" font-weight="normal" fill="#222" stroke="#222" stroke-width="0.18" textLength="113.87" lengthAdjust="spacingAndGlyphs" >CELL CYCLE(ES=-0.3929,NP=0.0778)</text>
<line x1="417.5" y1="409.5" x2="683.6" y2="409.5" stroke="#333333" stroke-width="1.1" />
<line x1="417.5" y1="423.5" x2="683.6" y2="423.5" stroke="#333333" stroke-width="1.1" />
<line x1="417.5" y1="436.5" x2="683.6" y2="436.5" stroke="#333333" stroke-width="1.1" />
<line x1="417.5" y1="449.5" x2="683.6" y2="449.5" stroke="#333333" stroke-width="1.1" />
<line x1="417.5" y1="330.1" x2="417.5" y2="529.7" stroke="#333333" stroke-width="1.1" />
<line x1="683.5" y1="330.1" x2="683.5" y2="529.7" stroke="#333333" stroke-width="1.1" />
<line x1="417" y1="330.5" x2="684.1" y2="330.5" stroke="#333333" stroke-width="1.1" />
<line x1="417" y1="529.5" x2="684.1" y2="529.5" stroke="#333333" stroke-width="1.1" />
<line x1="414.2" y1="348.5" x2="417.5" y2="348.5" stroke="#333333" stroke-width="0.9" />
<text x="412.4" y="351" font-size="7.7" text-anchor="end" font-weight="normal" fill="#333" stroke="#333" stroke-width="0.18" textLength="8.88" lengthAdjust="spacingAndGlyphs" >0.4</text>
<line x1="414.2" y1="362.5" x2="417.5" y2="362.5" stroke="#333333" stroke-width="0.9" />
<text x="412.4" y="365" font-size="7.7" text-anchor="end" font-weight="normal" fill="#333" stroke="#333" stroke-width="0.18" textLength="8.88" lengthAdjust="spacingAndGlyphs" >0.2</text>
<line x1="414.2" y1="376.5" x2="417.5" y2="376.5" stroke="#333333" stroke-width="0.9" />
<text x="412.4" y="379" font-size="7.7" text-anchor="end" font-weight="normal" fill="#333" stroke="#333" stroke-width="0.18" textLength="8.88" lengthAdjust="spacingAndGlyphs" >0.0</text>
<line x1="414.2" y1="390.5" x2="417.5" y2="390.5" stroke="#333333" stroke-width="0.9" />
<text x="412.4" y="393" font-size="7.7" text-anchor="end" font-weight="normal" fill="#333" stroke="#333" stroke-width="0.18" textLength="12.88" lengthAdjust="spacingAndGlyphs" >−0.2</text>
<line x1="414.2" y1="336.5" x2="417.5" y2="336.5" stroke="#333333" stroke-width="0.9" />
<line x1="414.2" y1="403.5" x2="417.5" y2="403.5" stroke="#333333" stroke-width="0.9" />
<line x1="414.2" y1="456.5" x2="417.5" y2="456.5" stroke="#333333" stroke-width="0.9" />
<text x="412.4" y="459.3" font-size="7.7" text-anchor="end" font-weight="normal" fill="#333" stroke="#333" stroke-width="0.18" textLength="8.88" lengthAdjust="spacingAndGlyphs" >1.0</text>
<line x1="414.2" y1="474.5" x2="417.5" y2="474.5" stroke="#333333" stroke-width="0.9" />
<text x="412.4" y="476.6" font-size="7.7" text-anchor="end" font-weight="normal" fill="#333" stroke="#333" stroke-width="0.18" textLength="8.88" lengthAdjust="spacingAndGlyphs" >0.5</text>
<line x1="414.2" y1="491.5" x2="417.5" y2="491.5" stroke="#333333" stroke-width="0.9" />
<text x="412.4" y="493.9" font-size="7.7" text-anchor="end" font-weight="normal" fill="#333" stroke="#333" stroke-width="0.18" textLength="8.88" lengthAdjust="spacingAndGlyphs" >0.0</text>
<line x1="414.2" y1="508.5" x2="417.5" y2="508.5" stroke="#333333" stroke-width="0.9" />
<text x="412.4" y="511.2" font-size="7.7" text-anchor="end" font-weight="normal" fill="#333" stroke="#333" stroke-width="0.18" textLength="12.88" lengthAdjust="spacingAndGlyphs" >−0.5</text>
<line x1="414.2" y1="522.5" x2="417.5" y2="522.5" stroke="#333333" stroke-width="0.9" />
<line x1="423.5" y1="529.2" x2="423.5" y2="532.2" stroke="#333333" stroke-width="0.9" />
<text x="423.35" y="541.1" font-size="7.7" text-anchor="middle" font-weight="normal" fill="#333" stroke="#333" stroke-width="0.18" textLength="3.44" lengthAdjust="spacingAndGlyphs" >0</text>
<line x1="477.5" y1="529.2" x2="477.5" y2="532.2" stroke="#333333" stroke-width="0.9" />
<text x="477.55" y="541.1" font-size="7.7" text-anchor="middle" font-weight="normal" fill="#333" stroke="#333" stroke-width="0.18" textLength="15.46" lengthAdjust="spacingAndGlyphs" >5,000</text>
<line x1="531.5" y1="529.2" x2="531.5" y2="532.2" stroke="#333333" stroke-width="0.9" />
<text x="531.75" y="541.1" font-size="7.7" text-anchor="middle" font-weight="normal" fill="#333" stroke="#333" stroke-width="0.18" textLength="18.89" lengthAdjust="spacingAndGlyphs" >10,000</text>
<line x1="585.5" y1="529.2" x2="585.5" y2="532.2" stroke="#333333" stroke-width="0.9" />
<text x="585.95" y="541.1" font-size="7.7" text-anchor="middle" font-weight="normal" fill="#333" stroke="#333" stroke-width="0.18" textLength="18.89" lengthAdjust="spacingAndGlyphs" >15,000</text>
<line x1="640.5" y1="529.2" x2="640.5" y2="532.2" stroke="#333333" stroke-width="0.9" />
<text x="640.15" y="541.1" font-size="7.7" text-anchor="middle" font-weight="normal" fill="#333" stroke="#333" stroke-width="0.18" textLength="18.89" lengthAdjust="spacingAndGlyphs" >20,000</text>
<line x1="677.5" y1="529.2" x2="677.5" y2="532.2" stroke="#333333" stroke-width="0.9" />
<text x="550.6" y="549.9" font-size="7.9" text-anchor="middle" font-weight="normal" fill="#222" stroke="#222" stroke-width="0.18" textLength="69.4" lengthAdjust="spacingAndGlyphs" >Rank in Ordered DataSet</text>
<text x="0" y="0" font-size="7.5" text-anchor="middle" font-weight="normal" fill="#222" stroke="#222" stroke-width="0.18" textLength="53.5" lengthAdjust="spacingAndGlyphs" transform="translate(397.2,370.15) rotate(-90)">Enrichment score</text>
<text x="0" y="0" font-size="7.5" text-anchor="middle" font-weight="normal" fill="#222" stroke="#222" stroke-width="0.18" textLength="52.6" lengthAdjust="spacingAndGlyphs" transform="translate(390.4,489.4) rotate(-90)">Ranked list metri</text>
<text x="0" y="0" font-size="7.5" text-anchor="middle" font-weight="normal" fill="#222" stroke="#222" stroke-width="0.18" transform="translate(397.6,489.6) rotate(-90)">c</text>
<text x="7.61" y="594.88" font-size="32" text-anchor="start" font-weight="bold" fill="#000" >E</text>
<text x="125.76" y="598.7" font-size="17.26" text-anchor="start" font-weight="bold" fill="#000" >CCL20</text>
<line x1="95.5" y1="612.9" x2="95.5" y2="822.2" stroke="#EEEEEE" stroke-width="0.7" />
<line x1="49.4" y1="780.5" x2="278.6" y2="780.5" stroke="#EEEEEE" stroke-width="0.7" />
<line x1="141.5" y1="612.9" x2="141.5" y2="822.2" stroke="#EEEEEE" stroke-width="0.7" />
<line x1="49.4" y1="738.5" x2="278.6" y2="738.5" stroke="#EEEEEE" stroke-width="0.7" />
<line x1="186.5" y1="612.9" x2="186.5" y2="822.2" stroke="#EEEEEE" stroke-width="0.7" />
<line x1="49.4" y1="696.5" x2="278.6" y2="696.5" stroke="#EEEEEE" stroke-width="0.7" />
<line x1="232.5" y1="612.9" x2="232.5" y2="822.2" stroke="#EEEEEE" stroke-width="0.7" />
<line x1="49.4" y1="654.5" x2="278.6" y2="654.5" stroke="#EEEEEE" stroke-width="0.7" />
<line x1="278.5" y1="612.9" x2="278.5" y2="822.2" stroke="#EEEEEE" stroke-width="0.7" />
<line x1="49.4" y1="612.5" x2="278.6" y2="612.5" stroke="#EEEEEE" stroke-width="0.7" />
<line x1="49.4" y1="822.2" x2="278.6" y2="612.9" stroke="#2a2a2a" stroke-width="0.85" stroke-dasharray="1.5,2.3"/>
<polyline points="49.4,822.2 49.4,822.2 49.4,822.2 49.4,822.2 49.4,822.2 49.4,822.2 49.4,822.2 49.4,822.2 49.4,822.19 49.4,822.19 49.4,822.19 49.4,822.19 49.4,822.19 49.4,822.18 49.4,822.18 49.4,822.17 49.4,822.16 49.41,822.16 49.41,822.14 49.41,822.13 49.41,822.11 49.41,822.09 49.41,822.07 49.42,822.04 49.42,822 49.42,821.95 49.43,821.9 49.44,821.83 49.44,821.74 49.45,821.64 49.47,821.51 49.48,821.35 49.5,821.16 49.52,820.94 49.54,820.66 49.57,820.33 49.61,819.92 49.66,819.44 49.71,818.86 49.78,818.17 49.86,817.34 49.96,816.35 50.08,815.19 50.23,813.8 50.41,812.17 50.63,810.25 50.89,808 51.21,805.38 51.6,802.33 52.08,798.8 52.66,794.73 53.36,790.07 54.21,784.75 55.25,778.73 56.51,771.95 58.04,764.38 59.9,755.97 62.16,746.74 64.91,736.68 68.26,725.85 72.32,714.34 72.32,714.34 74.05,709.88 75.79,705.67 77.52,701.68 79.25,697.89 80.99,694.29 82.72,690.87 84.45,687.61 86.19,684.5 87.92,681.53 89.65,678.7 91.39,675.99 93.12,673.4 94.85,670.92 96.59,668.55 98.32,666.27 100.06,664.09 101.79,662.01 103.52,660 105.26,658.08 106.99,656.23 108.72,654.46 110.46,652.76 112.19,651.12 113.92,649.55 115.66,648.04 117.39,646.59 119.12,645.19 120.86,643.85 122.59,642.56 124.32,641.32 126.06,640.12 127.79,638.97 129.52,637.87 131.26,636.8 132.99,635.78 134.72,634.79 136.46,633.84 138.19,632.93 139.92,632.05 141.66,631.21 143.39,630.4 145.12,629.62 146.86,628.86 148.59,628.14 150.33,627.44 152.06,626.78 153.79,626.13 155.53,625.51 157.26,624.92 158.99,624.35 160.73,623.8 162.46,623.27 164.19,622.76 165.93,622.27 167.66,621.81 169.39,621.36 171.13,620.93 172.86,620.51 174.59,620.12 176.33,619.74 178.06,619.37 179.79,619.02 181.53,618.69 183.26,618.37 184.99,618.06 186.73,617.77 188.46,617.49 190.19,617.22 191.93,616.96 193.66,616.72 195.39,616.48 197.13,616.26 198.86,616.05 200.59,615.85 202.33,615.65 204.06,615.47 205.8,615.3 207.53,615.13 209.26,614.98 211,614.83 212.73,614.69 214.46,614.55 216.2,614.43 217.93,614.31 219.66,614.19 221.4,614.09 223.13,613.99 224.86,613.89 226.6,613.81 228.33,613.72 230.06,613.65 231.8,613.58 233.53,613.51 235.26,613.45 237,613.39 238.73,613.33 240.46,613.29 242.2,613.24 243.93,613.2 245.66,613.16 247.4,613.12 249.13,613.09 250.86,613.06 252.6,613.04 254.33,613.02 256.07,613 257.8,612.98 259.53,612.96 261.27,612.95 263,612.94 264.73,612.93 266.47,612.92 268.2,612.91 269.93,612.91 271.67,612.91 273.4,612.9 275.13,612.9 276.87,612.9 278.6,612.9 278.6,612.9" fill="none" stroke="#E9523F" stroke-width="1.15" stroke-linejoin="round" stroke-linecap="round"/>
<line x1="49.4" y1="612.5" x2="278.6" y2="612.5" stroke="#8a8a8a" stroke-width="1.1" />
<line x1="278.5" y1="612.9" x2="278.5" y2="822.2" stroke="#777777" stroke-width="1" />
<line x1="49.5" y1="612.4" x2="49.5" y2="822.7" stroke="#444444" stroke-width="1.1" />
<line x1="48.9" y1="822.5" x2="279.1" y2="822.5" stroke="#444444" stroke-width="1.1" />
<line x1="46.5" y1="822.5" x2="49.4" y2="822.5" stroke="#444" stroke-width="0.8" />
<text x="45.8" y="824" font-size="5.6" text-anchor="end" font-weight="normal" fill="#222" stroke="#222" stroke-width="0.18" textLength="6.25" lengthAdjust="spacingAndGlyphs" >0.0</text>
<line x1="49.5" y1="822.2" x2="49.5" y2="825.1" stroke="#444" stroke-width="0.8" />
<text x="49.4" y="829.7" font-size="5.6" text-anchor="middle" font-weight="normal" fill="#222" stroke="#222" stroke-width="0.18" textLength="6.25" lengthAdjust="spacingAndGlyphs" >0.0</text>
<line x1="46.5" y1="780.5" x2="49.4" y2="780.5" stroke="#444" stroke-width="0.8" />
<text x="45.8" y="782.14" font-size="5.6" text-anchor="end" font-weight="normal" fill="#222" stroke="#222" stroke-width="0.18" textLength="6.25" lengthAdjust="spacingAndGlyphs" >0.2</text>
<line x1="95.5" y1="822.2" x2="95.5" y2="825.1" stroke="#444" stroke-width="0.8" />
<text x="95.24" y="829.7" font-size="5.6" text-anchor="middle" font-weight="normal" fill="#222" stroke="#222" stroke-width="0.18" textLength="6.25" lengthAdjust="spacingAndGlyphs" >0.2</text>
<line x1="46.5" y1="738.5" x2="49.4" y2="738.5" stroke="#444" stroke-width="0.8" />
<text x="45.8" y="740.28" font-size="5.6" text-anchor="end" font-weight="normal" fill="#222" stroke="#222" stroke-width="0.18" textLength="6.25" lengthAdjust="spacingAndGlyphs" >0.4</text>
<line x1="141.5" y1="822.2" x2="141.5" y2="825.1" stroke="#444" stroke-width="0.8" />
<text x="141.08" y="829.7" font-size="5.6" text-anchor="middle" font-weight="normal" fill="#222" stroke="#222" stroke-width="0.18" textLength="6.25" lengthAdjust="spacingAndGlyphs" >0.4</text>
<line x1="46.5" y1="696.5" x2="49.4" y2="696.5" stroke="#444" stroke-width="0.8" />
<text x="45.8" y="698.42" font-size="5.6" text-anchor="end" font-weight="normal" fill="#222" stroke="#222" stroke-width="0.18" textLength="6.25" lengthAdjust="spacingAndGlyphs" >0.6</text>
<line x1="186.5" y1="822.2" x2="186.5" y2="825.1" stroke="#444" stroke-width="0.8" />
<text x="186.92" y="829.7" font-size="5.6" text-anchor="middle" font-weight="normal" fill="#222" stroke="#222" stroke-width="0.18" textLength="6.25" lengthAdjust="spacingAndGlyphs" >0.6</text>
<line x1="46.5" y1="654.5" x2="49.4" y2="654.5" stroke="#444" stroke-width="0.8" />
<text x="45.8" y="656.56" font-size="5.6" text-anchor="end" font-weight="normal" fill="#222" stroke="#222" stroke-width="0.18" textLength="6.25" lengthAdjust="spacingAndGlyphs" >0.8</text>
<line x1="232.5" y1="822.2" x2="232.5" y2="825.1" stroke="#444" stroke-width="0.8" />
<text x="232.76" y="829.7" font-size="5.6" text-anchor="middle" font-weight="normal" fill="#222" stroke="#222" stroke-width="0.18" textLength="6.25" lengthAdjust="spacingAndGlyphs" >0.8</text>
<line x1="46.5" y1="612.5" x2="49.4" y2="612.5" stroke="#444" stroke-width="0.8" />
<text x="45.8" y="614.7" font-size="5.6" text-anchor="end" font-weight="normal" fill="#222" stroke="#222" stroke-width="0.18" textLength="6.25" lengthAdjust="spacingAndGlyphs" >1.0</text>
<line x1="278.5" y1="822.2" x2="278.5" y2="825.1" stroke="#444" stroke-width="0.8" />
<text x="278.6" y="829.7" font-size="5.6" text-anchor="middle" font-weight="normal" fill="#222" stroke="#222" stroke-width="0.18" textLength="6.25" lengthAdjust="spacingAndGlyphs" >1.0</text>
<text x="0" y="0" font-size="5.6" text-anchor="middle" font-weight="normal" fill="#222" stroke="#222" stroke-width="0.18" textLength="25.2" lengthAdjust="spacingAndGlyphs" transform="translate(37.9,717.55) rotate(-90)">Sensitivities</text>
<text x="164.25" y="835.8" font-size="5.6" text-anchor="middle" font-weight="normal" fill="#222" stroke="#222" stroke-width="0.18" textLength="29.1" lengthAdjust="spacingAndGlyphs" >1-Specificities</text>
<text x="156.19" y="748.11" font-size="17.53" text-anchor="start" font-weight="bold" fill="#000" >0.85</text>
<text x="245.1" y="814.4" font-size="5.5" text-anchor="start" font-weight="normal" fill="#222" stroke="#222" stroke-width="0.18" textLength="29.1" lengthAdjust="spacingAndGlyphs" >AUC(95%CI)</text>
<line x1="236" y1="817.5" x2="243.7" y2="817.5" stroke="#E9523F" stroke-width="1.3" stroke-opacity="0.7"/>
<text x="245" y="820" font-size="5.5" text-anchor="start" font-weight="normal" fill="#222" stroke="#222" stroke-width="0.18" textLength="32.1" lengthAdjust="spacingAndGlyphs" >0.85(0.95-0.75)</text>
<text x="383.32" y="595.33" font-size="32" text-anchor="start" font-weight="bold" fill="#000" >F</text>
<text x="523.48" y="598.65" font-size="17.77" text-anchor="start" font-weight="bold" fill="#000" >IL6</text>
<line x1="476.5" y1="612.8" x2="476.5" y2="822.3" stroke="#EEEEEE" stroke-width="0.7" />
<line x1="430.3" y1="780.5" x2="659.3" y2="780.5" stroke="#EEEEEE" stroke-width="0.7" />
<line x1="521.5" y1="612.8" x2="521.5" y2="822.3" stroke="#EEEEEE" stroke-width="0.7" />
<line x1="430.3" y1="738.5" x2="659.3" y2="738.5" stroke="#EEEEEE" stroke-width="0.7" />
<line x1="567.5" y1="612.8" x2="567.5" y2="822.3" stroke="#EEEEEE" stroke-width="0.7" />
<line x1="430.3" y1="696.5" x2="659.3" y2="696.5" stroke="#EEEEEE" stroke-width="0.7" />
<line x1="613.5" y1="612.8" x2="613.5" y2="822.3" stroke="#EEEEEE" stroke-width="0.7" />
<line x1="430.3" y1="654.5" x2="659.3" y2="654.5" stroke="#EEEEEE" stroke-width="0.7" />
<line x1="659.5" y1="612.8" x2="659.5" y2="822.3" stroke="#EEEEEE" stroke-width="0.7" />
<line x1="430.3" y1="612.5" x2="659.3" y2="612.5" stroke="#EEEEEE" stroke-width="0.7" />
<line x1="430.3" y1="822.3" x2="659.3" y2="612.8" stroke="#2a2a2a" stroke-width="0.85" stroke-dasharray="1.5,2.3"/>
<polyline points="430.3,822.3 430.3,822.3 430.3,822.3 430.3,822.3 430.3,822.3 430.3,822.3 430.3,822.3 430.3,822.3 430.3,822.3 430.3,822.3 430.3,822.3 430.3,822.3 430.3,822.3 430.3,822.3 430.3,822.3 430.3,822.3 430.3,822.3 430.31,822.3 430.31,822.29 430.31,822.29 430.31,822.29 430.31,822.29 430.31,822.28 430.32,822.28 430.32,822.28 430.32,822.27 430.33,822.26 430.34,822.25 430.34,822.24 430.35,822.22 430.37,822.2 430.38,822.18 430.4,822.15 430.42,822.11 430.44,822.06 430.47,822 430.51,821.92 430.56,821.83 430.61,821.72 430.68,821.57 430.76,821.4 430.86,821.18 430.98,820.91 431.13,820.58 431.31,820.17 431.53,819.66 431.79,819.05 432.11,818.29 432.5,817.37 432.98,816.24 433.55,814.88 434.25,813.22 435.11,811.21 436.14,808.79 437.4,805.88 438.93,802.39 440.79,798.23 443.05,793.29 445.8,787.44 449.14,780.58 453.2,772.56 453.2,772.56 454.93,769.24 456.66,765.98 458.4,762.78 460.13,759.64 461.86,756.55 463.59,753.52 465.32,750.53 467.06,747.6 468.79,744.72 470.52,741.88 472.25,739.1 473.98,736.36 475.72,733.66 477.45,731.01 479.18,728.41 480.91,725.84 482.64,723.32 484.37,720.84 486.11,718.4 487.84,716 489.57,713.64 491.3,711.32 493.03,709.04 494.77,706.79 496.5,704.58 498.23,702.41 499.96,700.27 501.69,698.16 503.43,696.09 505.16,694.06 506.89,692.06 508.62,690.09 510.35,688.15 512.09,686.25 513.82,684.37 515.55,682.53 517.28,680.72 519.01,678.94 520.75,677.19 522.48,675.47 524.21,673.78 525.94,672.12 527.67,670.48 529.41,668.88 531.14,667.3 532.87,665.75 534.6,664.23 536.33,662.73 538.06,661.26 539.8,659.82 541.53,658.41 543.26,657.02 544.99,655.65 546.72,654.31 548.46,653 550.19,651.71 551.92,650.44 553.65,649.2 555.38,647.98 557.12,646.79 558.85,645.62 560.58,644.48 562.31,643.36 564.04,642.26 565.78,641.18 567.51,640.13 569.24,639.09 570.97,638.08 572.7,637.1 574.44,636.13 576.17,635.19 577.9,634.27 579.63,633.36 581.36,632.48 583.09,631.63 584.83,630.79 586.56,629.97 588.29,629.17 590.02,628.4 591.75,627.64 593.49,626.9 595.22,626.19 596.95,625.49 598.68,624.81 600.41,624.15 602.15,623.52 603.88,622.9 605.61,622.3 607.34,621.71 609.07,621.15 610.81,620.61 612.54,620.08 614.27,619.58 616,619.09 617.73,618.62 619.47,618.17 621.2,617.74 622.93,617.32 624.66,616.93 626.39,616.55 628.13,616.19 629.86,615.84 631.59,615.52 633.32,615.21 635.05,614.92 636.78,614.65 638.52,614.4 640.25,614.16 641.98,613.95 643.71,613.75 645.44,613.56 647.18,613.4 648.91,613.25 650.64,613.13 652.37,613.02 654.1,612.93 655.84,612.86 657.57,612.82 659.3,612.8 659.3,612.8" fill="none" stroke="#3D87D4" stroke-width="1.15" stroke-linejoin="round" stroke-linecap="round"/>
<line x1="430.3" y1="612.5" x2="659.3" y2="612.5" stroke="#8a8a8a" stroke-width="1.1" />
<line x1="659.5" y1="612.8" x2="659.5" y2="822.3" stroke="#777777" stroke-width="1" />
<line x1="430.5" y1="612.3" x2="430.5" y2="822.8" stroke="#444444" stroke-width="1.1" />
<line x1="429.8" y1="822.5" x2="659.8" y2="822.5" stroke="#444444" stroke-width="1.1" />
<line x1="427.4" y1="822.5" x2="430.3" y2="822.5" stroke="#444" stroke-width="0.8" />
<text x="426.7" y="824.1" font-size="5.6" text-anchor="end" font-weight="normal" fill="#222" stroke="#222" stroke-width="0.18" textLength="6.25" lengthAdjust="spacingAndGlyphs" >0.0</text>
<line x1="430.5" y1="822.3" x2="430.5" y2="825.2" stroke="#444" stroke-width="0.8" />
<text x="430.3" y="829.8" font-size="5.6" text-anchor="middle" font-weight="normal" fill="#222" stroke="#222" stroke-width="0.18" textLength="6.25" lengthAdjust="spacingAndGlyphs" >0.0</text>
<line x1="427.4" y1="780.5" x2="430.3" y2="780.5" stroke="#444" stroke-width="0.8" />
<text x="426.7" y="782.2" font-size="5.6" text-anchor="end" font-weight="normal" fill="#222" stroke="#222" stroke-width="0.18" textLength="6.25" lengthAdjust="spacingAndGlyphs" >0.2</text>
<line x1="476.5" y1="822.3" x2="476.5" y2="825.2" stroke="#444" stroke-width="0.8" />
<text x="476.1" y="829.8" font-size="5.6" text-anchor="middle" font-weight="normal" fill="#222" stroke="#222" stroke-width="0.18" textLength="6.25" lengthAdjust="spacingAndGlyphs" >0.2</text>
<line x1="427.4" y1="738.5" x2="430.3" y2="738.5" stroke="#444" stroke-width="0.8" />
<text x="426.7" y="740.3" font-size="5.6" text-anchor="end" font-weight="normal" fill="#222" stroke="#222" stroke-width="0.18" textLength="6.25" lengthAdjust="spacingAndGlyphs" >0.4</text>
<line x1="521.5" y1="822.3" x2="521.5" y2="825.2" stroke="#444" stroke-width="0.8" />
<text x="521.9" y="829.8" font-size="5.6" text-anchor="middle" font-weight="normal" fill="#222" stroke="#222" stroke-width="0.18" textLength="6.25" lengthAdjust="spacingAndGlyphs" >0.4</text>
<line x1="427.4" y1="696.5" x2="430.3" y2="696.5" stroke="#444" stroke-width="0.8" />
<text x="426.7" y="698.4" font-size="5.6" text-anchor="end" font-weight="normal" fill="#222" stroke="#222" stroke-width="0.18" textLength="6.25" lengthAdjust="spacingAndGlyphs" >0.6</text>
<line x1="567.5" y1="822.3" x2="567.5" y2="825.2" stroke="#444" stroke-width="0.8" />
<text x="567.7" y="829.8" font-size="5.6" text-anchor="middle" font-weight="normal" fill="#222" stroke="#222" stroke-width="0.18" textLength="6.25" lengthAdjust="spacingAndGlyphs" >0.6</text>
<line x1="427.4" y1="654.5" x2="430.3" y2="654.5" stroke="#444" stroke-width="0.8" />
<text x="426.7" y="656.5" font-size="5.6" text-anchor="end" font-weight="normal" fill="#222" stroke="#222" stroke-width="0.18" textLength="6.25" lengthAdjust="spacingAndGlyphs" >0.8</text>
<line x1="613.5" y1="822.3" x2="613.5" y2="825.2" stroke="#444" stroke-width="0.8" />
<text x="613.5" y="829.8" font-size="5.6" text-anchor="middle" font-weight="normal" fill="#222" stroke="#222" stroke-width="0.18" textLength="6.25" lengthAdjust="spacingAndGlyphs" >0.8</text>
<line x1="427.4" y1="612.5" x2="430.3" y2="612.5" stroke="#444" stroke-width="0.8" />
<text x="426.7" y="614.6" font-size="5.6" text-anchor="end" font-weight="normal" fill="#222" stroke="#222" stroke-width="0.18" textLength="6.25" lengthAdjust="spacingAndGlyphs" >1.0</text>
<line x1="659.5" y1="822.3" x2="659.5" y2="825.2" stroke="#444" stroke-width="0.8" />
<text x="659.3" y="829.8" font-size="5.6" text-anchor="middle" font-weight="normal" fill="#222" stroke="#222" stroke-width="0.18" textLength="6.25" lengthAdjust="spacingAndGlyphs" >1.0</text>
<text x="0" y="0" font-size="5.6" text-anchor="middle" font-weight="normal" fill="#222" stroke="#222" stroke-width="0.18" textLength="25.2" lengthAdjust="spacingAndGlyphs" transform="translate(418.8,717.55) rotate(-90)">Sensitivities</text>
<text x="545.15" y="835.9" font-size="5.6" text-anchor="middle" font-weight="normal" fill="#222" stroke="#222" stroke-width="0.18" textLength="29.1" lengthAdjust="spacingAndGlyphs" >1-Specificities</text>
<text x="533.64" y="748.17" font-size="17.72" text-anchor="start" font-weight="bold" fill="#000" >0.70</text>
<text x="625.8" y="814.5" font-size="5.5" text-anchor="start" font-weight="normal" fill="#222" stroke="#222" stroke-width="0.18" textLength="29.1" lengthAdjust="spacingAndGlyphs" >AUC(95%CI)</text>
<line x1="616.7" y1="817.5" x2="624.4" y2="817.5" stroke="#3D87D4" stroke-width="1.3" stroke-opacity="0.7"/>
<text x="625.7" y="820.1" font-size="5.5" text-anchor="start" font-weight="normal" fill="#222" stroke="#222" stroke-width="0.18" textLength="32.1" lengthAdjust="spacingAndGlyphs" >0.70(0.84-0.56)</text>
<text x="5.16" y="894.24" font-size="32" text-anchor="start" font-weight="bold" fill="#000" >G</text>
<text x="136.98" y="884.85" font-size="17.17" text-anchor="start" font-weight="bold" fill="#000" >TLR4</text>
<line x1="94.5" y1="898.5" x2="94.5" y2="1107.6" stroke="#EEEEEE" stroke-width="0.7" />
<line x1="49" y1="1065.5" x2="278.3" y2="1065.5" stroke="#EEEEEE" stroke-width="0.7" />
<line x1="140.5" y1="898.5" x2="140.5" y2="1107.6" stroke="#EEEEEE" stroke-width="0.7" />
<line x1="49" y1="1023.5" x2="278.3" y2="1023.5" stroke="#EEEEEE" stroke-width="0.7" />
<line x1="186.5" y1="898.5" x2="186.5" y2="1107.6" stroke="#EEEEEE" stroke-width="0.7" />
<line x1="49" y1="982.5" x2="278.3" y2="982.5" stroke="#EEEEEE" stroke-width="0.7" />
<line x1="232.5" y1="898.5" x2="232.5" y2="1107.6" stroke="#EEEEEE" stroke-width="0.7" />
<line x1="49" y1="940.5" x2="278.3" y2="940.5" stroke="#EEEEEE" stroke-width="0.7" />
<line x1="278.5" y1="898.5" x2="278.5" y2="1107.6" stroke="#EEEEEE" stroke-width="0.7" />
<line x1="49" y1="898.5" x2="278.3" y2="898.5" stroke="#EEEEEE" stroke-width="0.7" />
<line x1="49" y1="1107.6" x2="278.3" y2="898.5" stroke="#2a2a2a" stroke-width="0.85" stroke-dasharray="1.5,2.3"/>
<polyline points="49,1107.6 49,1107.6 49,1107.6 49,1107.6 49,1107.59 49,1107.59 49,1107.59 49,1107.59 49,1107.59 49,1107.59 49,1107.58 49,1107.58 49,1107.57 49,1107.57 49,1107.56 49,1107.56 49,1107.55 49.01,1107.53 49.01,1107.52 49.01,1107.5 49.01,1107.49 49.01,1107.46 49.01,1107.43 49.02,1107.4 49.02,1107.36 49.02,1107.31 49.03,1107.25 49.04,1107.18 49.04,1107.09 49.05,1106.99 49.07,1106.87 49.08,1106.73 49.1,1106.56 49.12,1106.36 49.14,1106.12 49.17,1105.83 49.21,1105.49 49.26,1105.09 49.31,1104.62 49.38,1104.06 49.46,1103.4 49.56,1102.63 49.68,1101.72 49.83,1100.66 50.01,1099.41 50.23,1097.96 50.49,1096.28 50.81,1094.32 51.21,1092.05 51.68,1089.42 52.26,1086.4 52.96,1082.93 53.81,1078.97 54.85,1074.44 56.11,1069.3 57.64,1063.5 59.51,1056.96 61.77,1049.65 64.52,1041.53 67.87,1032.55 71.93,1022.72 71.93,1022.72 73.66,1018.82 75.4,1015.09 77.13,1011.5 78.87,1008.05 80.6,1004.73 82.34,1001.53 84.07,998.44 85.8,995.46 87.54,992.57 89.27,989.78 91.01,987.08 92.74,984.47 94.47,981.93 96.21,979.47 97.94,977.09 99.68,974.78 101.41,972.53 103.15,970.35 104.88,968.23 106.61,966.17 108.35,964.17 110.08,962.23 111.82,960.33 113.55,958.49 115.29,956.7 117.02,954.95 118.75,953.26 120.49,951.6 122.22,949.99 123.96,948.43 125.69,946.9 127.42,945.41 129.16,943.96 130.89,942.55 132.63,941.18 134.36,939.84 136.1,938.53 137.83,937.26 139.56,936.02 141.3,934.81 143.03,933.63 144.77,932.48 146.5,931.37 148.23,930.27 149.97,929.21 151.7,928.18 153.44,927.17 155.17,926.18 156.91,925.23 158.64,924.29 160.37,923.38 162.11,922.5 163.84,921.63 165.58,920.79 167.31,919.97 169.05,919.18 170.78,918.4 172.51,917.64 174.25,916.91 175.98,916.19 177.72,915.5 179.45,914.82 181.18,914.16 182.92,913.52 184.65,912.89 186.39,912.29 188.12,911.7 189.86,911.13 191.59,910.57 193.32,910.03 195.06,909.51 196.79,909 198.53,908.51 200.26,908.03 202,907.57 203.73,907.12 205.46,906.69 207.2,906.26 208.93,905.86 210.67,905.46 212.4,905.08 214.13,904.72 215.87,904.36 217.6,904.02 219.34,903.69 221.07,903.37 222.81,903.06 224.54,902.77 226.27,902.49 228.01,902.21 229.74,901.95 231.48,901.7 233.21,901.46 234.94,901.23 236.68,901.02 238.41,900.81 240.15,900.61 241.88,900.42 243.62,900.24 245.35,900.07 247.08,899.91 248.82,899.76 250.55,899.62 252.29,899.49 254.02,899.36 255.76,899.25 257.49,899.14 259.22,899.04 260.96,898.95 262.69,898.87 264.43,898.8 266.16,898.73 267.89,898.67 269.63,898.62 271.36,898.58 273.1,898.55 274.83,898.52 276.57,898.51 278.3,898.5 278.3,898.5" fill="none" stroke="#2C8C57" stroke-width="1.15" stroke-linejoin="round" stroke-linecap="round"/>
<line x1="49" y1="898.5" x2="278.3" y2="898.5" stroke="#8a8a8a" stroke-width="1.1" />
<line x1="278.5" y1="898.5" x2="278.5" y2="1107.6" stroke="#777777" stroke-width="1" />
<line x1="49.5" y1="898" x2="49.5" y2="1108.1" stroke="#444444" stroke-width="1.1" />
<line x1="48.5" y1="1107.5" x2="278.8" y2="1107.5" stroke="#444444" stroke-width="1.1" />
<line x1="46.1" y1="1107.5" x2="49" y2="1107.5" stroke="#444" stroke-width="0.8" />
<text x="45.4" y="1109.4" font-size="5.6" text-anchor="end" font-weight="normal" fill="#222" stroke="#222" stroke-width="0.18" textLength="6.25" lengthAdjust="spacingAndGlyphs" >0.0</text>
<line x1="49.5" y1="1107.6" x2="49.5" y2="1110.5" stroke="#444" stroke-width="0.8" />
<text x="49" y="1115.1" font-size="5.6" text-anchor="middle" font-weight="normal" fill="#222" stroke="#222" stroke-width="0.18" textLength="6.25" lengthAdjust="spacingAndGlyphs" >0.0</text>
<line x1="46.1" y1="1065.5" x2="49" y2="1065.5" stroke="#444" stroke-width="0.8" />
<text x="45.4" y="1067.58" font-size="5.6" text-anchor="end" font-weight="normal" fill="#222" stroke="#222" stroke-width="0.18" textLength="6.25" lengthAdjust="spacingAndGlyphs" >0.2</text>
<line x1="94.5" y1="1107.6" x2="94.5" y2="1110.5" stroke="#444" stroke-width="0.8" />
<text x="94.86" y="1115.1" font-size="5.6" text-anchor="middle" font-weight="normal" fill="#222" stroke="#222" stroke-width="0.18" textLength="6.25" lengthAdjust="spacingAndGlyphs" >0.2</text>
<line x1="46.1" y1="1023.5" x2="49" y2="1023.5" stroke="#444" stroke-width="0.8" />
<text x="45.4" y="1025.76" font-size="5.6" text-anchor="end" font-weight="normal" fill="#222" stroke="#222" stroke-width="0.18" textLength="6.25" lengthAdjust="spacingAndGlyphs" >0.4</text>
<line x1="140.5" y1="1107.6" x2="140.5" y2="1110.5" stroke="#444" stroke-width="0.8" />
<text x="140.72" y="1115.1" font-size="5.6" text-anchor="middle" font-weight="normal" fill="#222" stroke="#222" stroke-width="0.18" textLength="6.25" lengthAdjust="spacingAndGlyphs" >0.4</text>
<line x1="46.1" y1="982.5" x2="49" y2="982.5" stroke="#444" stroke-width="0.8" />
<text x="45.4" y="983.94" font-size="5.6" text-anchor="end" font-weight="normal" fill="#222" stroke="#222" stroke-width="0.18" textLength="6.25" lengthAdjust="spacingAndGlyphs" >0.6</text>
<line x1="186.5" y1="1107.6" x2="186.5" y2="1110.5" stroke="#444" stroke-width="0.8" />
<text x="186.58" y="1115.1" font-size="5.6" text-anchor="middle" font-weight="normal" fill="#222" stroke="#222" stroke-width="0.18" textLength="6.25" lengthAdjust="spacingAndGlyphs" >0.6</text>
<line x1="46.1" y1="940.5" x2="49" y2="940.5" stroke="#444" stroke-width="0.8" />
<text x="45.4" y="942.12" font-size="5.6" text-anchor="end" font-weight="normal" fill="#222" stroke="#222" stroke-width="0.18" textLength="6.25" lengthAdjust="spacingAndGlyphs" >0.8</text>
<line x1="232.5" y1="1107.6" x2="232.5" y2="1110.5" stroke="#444" stroke-width="0.8" />
<text x="232.44" y="1115.1" font-size="5.6" text-anchor="middle" font-weight="normal" fill="#222" stroke="#222" stroke-width="0.18" textLength="6.25" lengthAdjust="spacingAndGlyphs" >0.8</text>
<line x1="46.1" y1="898.5" x2="49" y2="898.5" stroke="#444" stroke-width="0.8" />
<text x="45.4" y="900.3" font-size="5.6" text-anchor="end" font-weight="normal" fill="#222" stroke="#222" stroke-width="0.18" textLength="6.25" lengthAdjust="spacingAndGlyphs" >1.0</text>
<line x1="278.5" y1="1107.6" x2="278.5" y2="1110.5" stroke="#444" stroke-width="0.8" />
<text x="278.3" y="1115.1" font-size="5.6" text-anchor="middle" font-weight="normal" fill="#222" stroke="#222" stroke-width="0.18" textLength="6.25" lengthAdjust="spacingAndGlyphs" >1.0</text>
<text x="0" y="0" font-size="5.6" text-anchor="middle" font-weight="normal" fill="#222" stroke="#222" stroke-width="0.18" textLength="25.2" lengthAdjust="spacingAndGlyphs" transform="translate(37.5,1003.05) rotate(-90)">Sensitivities</text>
<text x="163.85" y="1121.2" font-size="5.6" text-anchor="middle" font-weight="normal" fill="#222" stroke="#222" stroke-width="0.18" textLength="29.1" lengthAdjust="spacingAndGlyphs" >1-Specificities</text>
<text x="155.68" y="1032.52" font-size="17.43" text-anchor="start" font-weight="bold" fill="#000" >0.79</text>
<text x="244.8" y="1099.8" font-size="5.5" text-anchor="start" font-weight="normal" fill="#222" stroke="#222" stroke-width="0.18" textLength="29.1" lengthAdjust="spacingAndGlyphs" >AUC(95%CI)</text>
<line x1="235.7" y1="1103.5" x2="243.4" y2="1103.5" stroke="#2C8C57" stroke-width="1.3" stroke-opacity="0.7"/>
<text x="244.7" y="1105.4" font-size="5.5" text-anchor="start" font-weight="normal" fill="#222" stroke="#222" stroke-width="0.18" textLength="32.1" lengthAdjust="spacingAndGlyphs" >0.79(0.91-0.67)</text>
<text x="382.5" y="894.63" font-size="32" text-anchor="start" font-weight="bold" fill="#000" >H</text>
<text x="525.89" y="885.55" font-size="17.02" text-anchor="start" font-weight="bold" fill="#000" >MMP9</text>
<line x1="476.5" y1="897.9" x2="476.5" y2="1106.9" stroke="#EEEEEE" stroke-width="0.7" />
<line x1="430.3" y1="1065.5" x2="659.3" y2="1065.5" stroke="#EEEEEE" stroke-width="0.7" />
<line x1="521.5" y1="897.9" x2="521.5" y2="1106.9" stroke="#EEEEEE" stroke-width="0.7" />
<line x1="430.3" y1="1023.5" x2="659.3" y2="1023.5" stroke="#EEEEEE" stroke-width="0.7" />
<line x1="567.5" y1="897.9" x2="567.5" y2="1106.9" stroke="#EEEEEE" stroke-width="0.7" />
<line x1="430.3" y1="981.5" x2="659.3" y2="981.5" stroke="#EEEEEE" stroke-width="0.7" />
<line x1="613.5" y1="897.9" x2="613.5" y2="1106.9" stroke="#EEEEEE" stroke-width="0.7" />
<line x1="430.3" y1="939.5" x2="659.3" y2="939.5" stroke="#EEEEEE" stroke-width="0.7" />
<line x1="659.5" y1="897.9" x2="659.5" y2="1106.9" stroke="#EEEEEE" stroke-width="0.7" />
<line x1="430.3" y1="897.5" x2="659.3" y2="897.5" stroke="#EEEEEE" stroke-width="0.7" />
<line x1="430.3" y1="1106.9" x2="659.3" y2="897.9" stroke="#2a2a2a" stroke-width="0.85" stroke-dasharray="1.5,2.3"/>
<polyline points="430.3,1106.9 430.3,1106.87 430.3,1106.86 430.3,1106.85 430.3,1106.84 430.3,1106.83 430.3,1106.82 430.3,1106.81 430.3,1106.79 430.3,1106.78 430.3,1106.75 430.3,1106.73 430.3,1106.7 430.3,1106.66 430.3,1106.62 430.3,1106.58 430.3,1106.52 430.31,1106.46 430.31,1106.39 430.31,1106.3 430.31,1106.2 430.31,1106.09 430.31,1105.95 430.32,1105.8 430.32,1105.62 430.32,1105.41 430.33,1105.17 430.34,1104.9 430.34,1104.58 430.35,1104.22 430.37,1103.8 430.38,1103.32 430.4,1102.76 430.42,1102.13 430.44,1101.41 430.47,1100.59 430.51,1099.65 430.56,1098.58 430.61,1097.37 430.68,1096 430.76,1094.44 430.86,1092.68 430.98,1090.7 431.13,1088.47 431.31,1085.96 431.53,1083.16 431.79,1080.03 432.11,1076.54 432.5,1072.67 432.98,1068.38 433.55,1063.65 434.25,1058.44 435.11,1052.74 436.14,1046.52 437.4,1039.78 438.93,1032.48 440.79,1024.65 443.05,1016.29 445.8,1007.43 449.14,998.1 453.2,988.37 453.2,988.37 454.93,984.65 456.66,981.14 458.4,977.83 460.13,974.7 461.86,971.74 463.59,968.92 465.32,966.24 467.06,963.68 468.79,961.24 470.52,958.92 472.25,956.69 473.98,954.56 475.72,952.51 477.45,950.55 479.18,948.67 480.91,946.87 482.64,945.13 484.37,943.46 486.11,941.86 487.84,940.31 489.57,938.82 491.3,937.38 493.03,936 494.77,934.66 496.5,933.37 498.23,932.13 499.96,930.92 501.69,929.76 503.43,928.64 505.16,927.56 506.89,926.51 508.62,925.49 510.35,924.51 512.09,923.56 513.82,922.64 515.55,921.76 517.28,920.9 519.01,920.06 520.75,919.26 522.48,918.48 524.21,917.72 525.94,916.99 527.67,916.28 529.41,915.59 531.14,914.93 532.87,914.28 534.6,913.66 536.33,913.06 538.06,912.47 539.8,911.9 541.53,911.35 543.26,910.82 544.99,910.31 546.72,909.81 548.46,909.32 550.19,908.86 551.92,908.4 553.65,907.96 555.38,907.54 557.12,907.13 558.85,906.73 560.58,906.34 562.31,905.97 564.04,905.61 565.78,905.26 567.51,904.93 569.24,904.6 570.97,904.29 572.7,903.98 574.44,903.69 576.17,903.4 577.9,903.13 579.63,902.87 581.36,902.61 583.09,902.37 584.83,902.13 586.56,901.9 588.29,901.68 590.02,901.47 591.75,901.26 593.49,901.07 595.22,900.88 596.95,900.7 598.68,900.53 600.41,900.36 602.15,900.2 603.88,900.05 605.61,899.9 607.34,899.76 609.07,899.63 610.81,899.5 612.54,899.38 614.27,899.26 616,899.15 617.73,899.05 619.47,898.95 621.2,898.85 622.93,898.76 624.66,898.68 626.39,898.6 628.13,898.53 629.86,898.46 631.59,898.39 633.32,898.33 635.05,898.28 636.78,898.22 638.52,898.18 640.25,898.13 641.98,898.09 643.71,898.06 645.44,898.03 647.18,898 648.91,897.97 650.64,897.95 652.37,897.93 654.1,897.92 655.84,897.91 657.57,897.9 659.3,897.9 659.3,897.9" fill="none" stroke="#6F6FBF" stroke-width="1.15" stroke-linejoin="round" stroke-linecap="round"/>
<line x1="430.3" y1="897.5" x2="659.3" y2="897.5" stroke="#8a8a8a" stroke-width="1.1" />
<line x1="659.5" y1="897.9" x2="659.5" y2="1106.9" stroke="#777777" stroke-width="1" />
<line x1="430.5" y1="897.4" x2="430.5" y2="1107.4" stroke="#444444" stroke-width="1.1" />
<line x1="429.8" y1="1106.5" x2="659.8" y2="1106.5" stroke="#444444" stroke-width="1.1" />
<line x1="427.4" y1="1106.5" x2="430.3" y2="1106.5" stroke="#444" stroke-width="0.8" />
<text x="426.7" y="1108.7" font-size="5.6" text-anchor="end" font-weight="normal" fill="#222" stroke="#222" stroke-width="0.18" textLength="6.25" lengthAdjust="spacingAndGlyphs" >0.0</text>
<line x1="430.5" y1="1106.9" x2="430.5" y2="1109.8" stroke="#444" stroke-width="0.8" />
<text x="430.3" y="1114.4" font-size="5.6" text-anchor="middle" font-weight="normal" fill="#222" stroke="#222" stroke-width="0.18" textLength="6.25" lengthAdjust="spacingAndGlyphs" >0.0</text>
<line x1="427.4" y1="1065.5" x2="430.3" y2="1065.5" stroke="#444" stroke-width="0.8" />
<text x="426.7" y="1066.9" font-size="5.6" text-anchor="end" font-weight="normal" fill="#222" stroke="#222" stroke-width="0.18" textLength="6.25" lengthAdjust="spacingAndGlyphs" >0.2</text>
<line x1="476.5" y1="1106.9" x2="476.5" y2="1109.8" stroke="#444" stroke-width="0.8" />
<text x="476.1" y="1114.4" font-size="5.6" text-anchor="middle" font-weight="normal" fill="#222" stroke="#222" stroke-width="0.18" textLength="6.25" lengthAdjust="spacingAndGlyphs" >0.2</text>
<line x1="427.4" y1="1023.5" x2="430.3" y2="1023.5" stroke="#444" stroke-width="0.8" />
<text x="426.7" y="1025.1" font-size="5.6" text-anchor="end" font-weight="normal" fill="#222" stroke="#222" stroke-width="0.18" textLength="6.25" lengthAdjust="spacingAndGlyphs" >0.4</text>
<line x1="521.5" y1="1106.9" x2="521.5" y2="1109.8" stroke="#444" stroke-width="0.8" />
<text x="521.9" y="1114.4" font-size="5.6" text-anchor="middle" font-weight="normal" fill="#222" stroke="#222" stroke-width="0.18" textLength="6.25" lengthAdjust="spacingAndGlyphs" >0.4</text>
<line x1="427.4" y1="981.5" x2="430.3" y2="981.5" stroke="#444" stroke-width="0.8" />
<text x="426.7" y="983.3" font-size="5.6" text-anchor="end" font-weight="normal" fill="#222" stroke="#222" stroke-width="0.18" textLength="6.25" lengthAdjust="spacingAndGlyphs" >0.6</text>
<line x1="567.5" y1="1106.9" x2="567.5" y2="1109.8" stroke="#444" stroke-width="0.8" />
<text x="567.7" y="1114.4" font-size="5.6" text-anchor="middle" font-weight="normal" fill="#222" stroke="#222" stroke-width="0.18" textLength="6.25" lengthAdjust="spacingAndGlyphs" >0.6</text>
<line x1="427.4" y1="939.5" x2="430.3" y2="939.5" stroke="#444" stroke-width="0.8" />
<text x="426.7" y="941.5" font-size="5.6" text-anchor="end" font-weight="normal" fill="#222" stroke="#222" stroke-width="0.18" textLength="6.25" lengthAdjust="spacingAndGlyphs" >0.8</text>
<line x1="613.5" y1="1106.9" x2="613.5" y2="1109.8" stroke="#444" stroke-width="0.8" />
<text x="613.5" y="1114.4" font-size="5.6" text-anchor="middle" font-weight="normal" fill="#222" stroke="#222" stroke-width="0.18" textLength="6.25" lengthAdjust="spacingAndGlyphs" >0.8</text>
<line x1="427.4" y1="897.5" x2="430.3" y2="897.5" stroke="#444" stroke-width="0.8" />
<text x="426.7" y="899.7" font-size="5.6" text-anchor="end" font-weight="normal" fill="#222" stroke="#222" stroke-width="0.18" textLength="6.25" lengthAdjust="spacingAndGlyphs" >1.0</text>
<line x1="659.5" y1="1106.9" x2="659.5" y2="1109.8" stroke="#444" stroke-width="0.8" />
<text x="659.3" y="1114.4" font-size="5.6" text-anchor="middle" font-weight="normal" fill="#222" stroke="#222" stroke-width="0.18" textLength="6.25" lengthAdjust="spacingAndGlyphs" >1.0</text>
<text x="0" y="0" font-size="5.6" text-anchor="middle" font-weight="normal" fill="#222" stroke="#222" stroke-width="0.18" textLength="25.2" lengthAdjust="spacingAndGlyphs" transform="translate(418.8,1002.4) rotate(-90)">Sensitivities</text>
<text x="545.15" y="1120.5" font-size="5.6" text-anchor="middle" font-weight="normal" fill="#222" stroke="#222" stroke-width="0.18" textLength="29.1" lengthAdjust="spacingAndGlyphs" >1-Specificities</text>
<text x="534.42" y="1032.66" font-size="17.54" text-anchor="start" font-weight="bold" fill="#000" >0.86</text>
<text x="625.8" y="1099.1" font-size="5.5" text-anchor="start" font-weight="normal" fill="#222" stroke="#222" stroke-width="0.18" textLength="29.1" lengthAdjust="spacingAndGlyphs" >AUC(95%CI)</text>
<line x1="616.7" y1="1102.5" x2="624.4" y2="1102.5" stroke="#6F6FBF" stroke-width="1.3" stroke-opacity="0.7"/>
<text x="625.7" y="1104.7" font-size="5.5" text-anchor="start" font-weight="normal" fill="#222" stroke="#222" stroke-width="0.18" textLength="32.1" lengthAdjust="spacingAndGlyphs" >0.86(0.97-0.75)</text>
</g>
</svg></body></html>
